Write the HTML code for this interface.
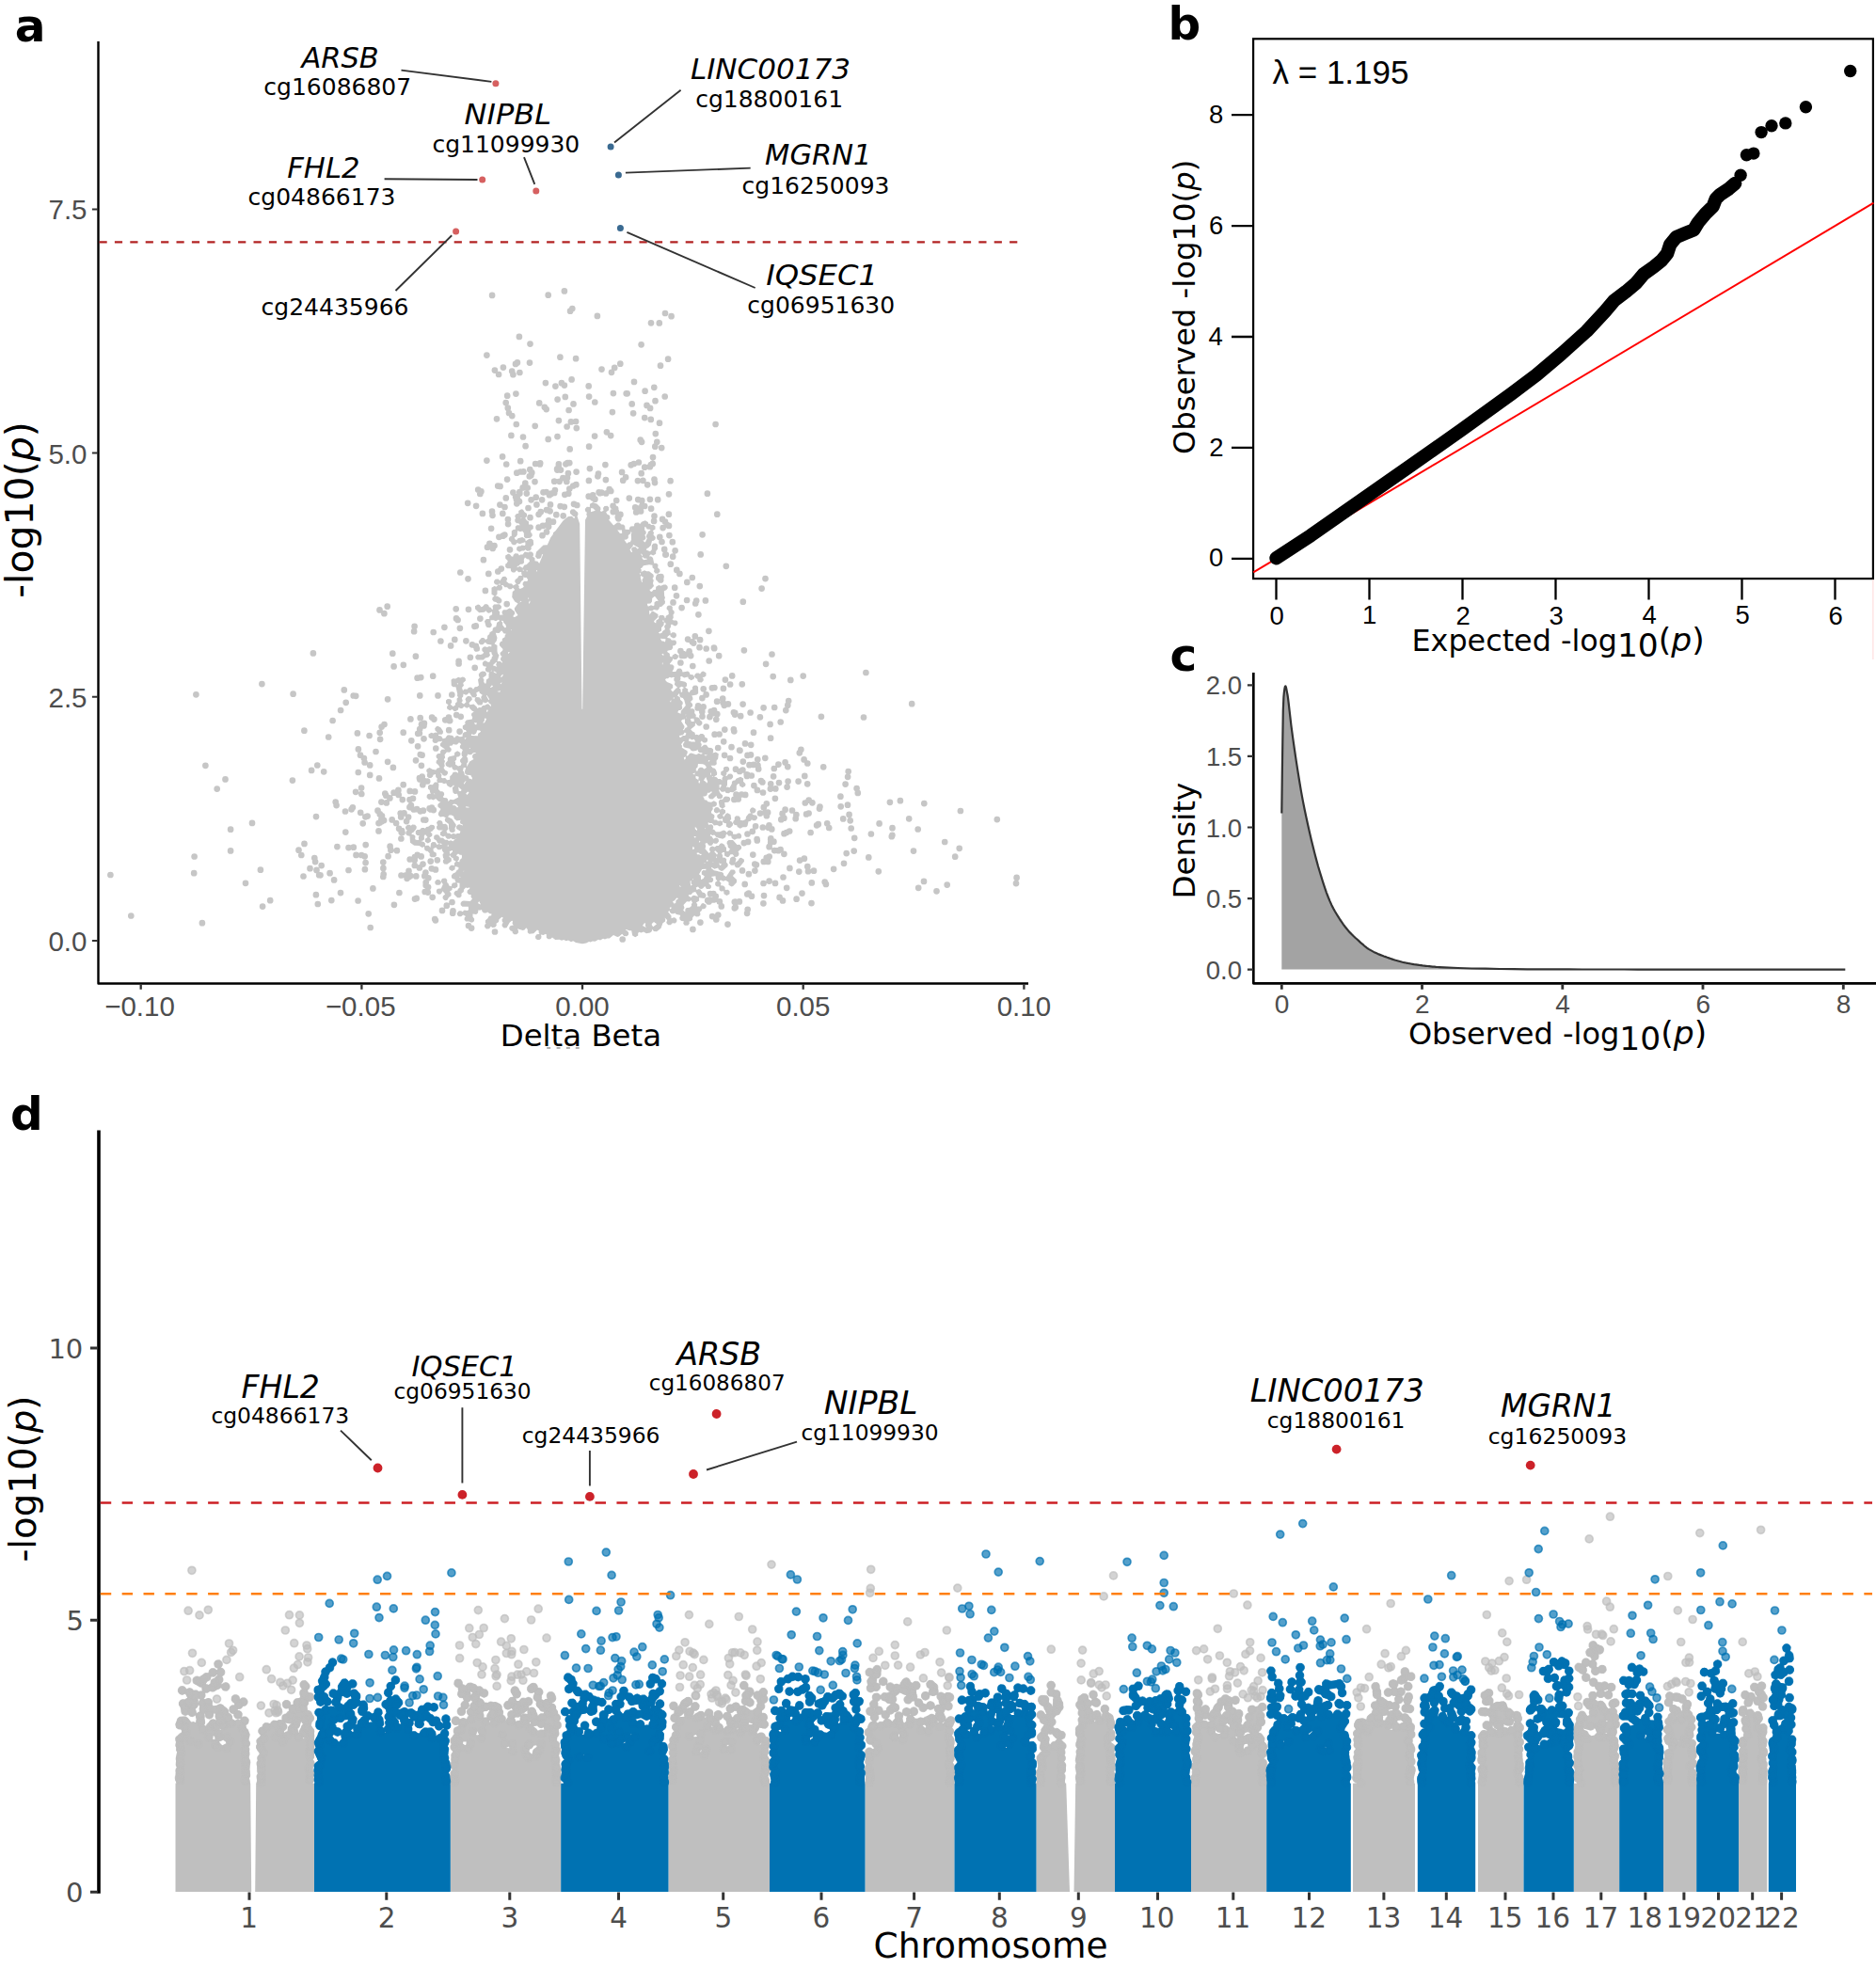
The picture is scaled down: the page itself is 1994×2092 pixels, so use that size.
<!DOCTYPE html>
<html><head><meta charset="utf-8"><style>
html,body{margin:0;padding:0;background:#fff;}
svg{display:block;}
text{font-family:'DejaVu Sans',sans-serif;}
text.ls{font-family:'Liberation Sans',Arial,sans-serif;}
</style></head><body>
<svg width="1994" height="2092" viewBox="0 0 1994 2092">
<rect width="1994" height="2092" fill="#fff"/>
<path d="M554.2 541.2 551.2 543 551.2 545.8 548.8 546.2 547.2 548.2 548 551 547.2 552.5 547.5 554.8 549.2 556.2 551.2 556.2 552.8 558.2 549.5 558.2 547.8 559.8 547.8 562.8 545.5 563 543.8 564.5 543.8 569.8 542.2 570.2 540.8 572.2 541 574.5 543.2 576.2 543.5 577.8 545.2 579.2 547.8 579.2 549.8 577 552.2 578.2 558.2 576.2 558.5 578.8 557.8 580 554.5 579.5 553.2 580.5 551 580.5 549.2 582 549.2 585 552.2 586.8 554.8 585.5 557 585.5 558.5 584.2 560.2 585.8 563.2 585.5 564.8 583.5 564.5 581.5 567.2 579 566.8 574.2 565 572.8 562.5 572.8 558.8 575.2 558.2 572.8 555.2 571 550.5 572.2 549 574.2 547.2 573 546.8 571.2 548.2 570.8 549.8 568.8 550 564.2 553.2 565.2 555.2 564.5 556.8 566.5 557 570.8 558.8 572.2 563.8 571.8 565.8 569.5 565.5 567.2 564.2 566 564.2 563.8 566.8 562 566.8 559 565 557.5 562 557.5 562 554.5 559.8 553 558.2 550.8 560 549 560 546 557.5 544.2 556 541.8ZM554 550 554.5 550.5 553.2 551.5ZM630 534 627 535.8 626.8 539 623.8 538.8 621.8 541 622 543.2 624 545 623.2 546.2 624 549 622 552.8 619.2 753.8 618.5 753.8 616.2 556.8 613.5 548.8 614.5 547 614.2 544.8 610.2 541.2 607.2 541.5 605.8 543.5 606 545.8 609.5 549 611 549.2 610.8 550.5 610 551 608 548.8 604 549 598.5 553.5 590.5 564.2 588 566.2 587.8 568 585.2 571.5 581.8 579.2 577.5 579.5 570 586.8 569 591.8 571 594 574 593.8 575.2 592.5 576 589.2 577.2 589.2 573.2 599 571.5 596.8 568.5 596.2 568.5 593.2 566.2 591.5 567 590.2 566.8 588 565 586.5 562.5 586.5 561.5 587.2 557.8 586.5 555.5 589.5 553.2 589.5 552 590.5 550.5 588.5 547.5 588.2 545.8 589.8 545.2 591.8 543.8 591.5 542 589.2 540.2 588.8 537.2 590.5 537.2 593.5 539.8 596.2 539 598.2 537.2 599.8 537.2 602.8 539 604.2 542.8 604.2 543 607 544.8 608.5 547.2 608.5 549.2 606.2 551.2 608.2 554.2 608 554.2 610.2 555.2 611.8 551.5 612 550 614.5 547.5 616.2 547.2 618.5 548.8 620.5 545.5 622.5 544 620.5 541 620.2 538.2 618 539.2 615 537.2 612.8 534.2 613 531.5 617.2 529.5 615.5 526.5 615.8 525 617.8 525.2 620 527 621.5 529.5 621.8 527.5 623.8 525.5 623 522.5 624.8 522.5 631.8 525.5 633.5 523.5 635.2 523.2 637.5 524.8 639.5 527.2 640 529 641.5 531.5 641.5 533.2 640 533.5 637.8 532 635.8 528.8 633.8 526.5 633.5 528.5 631.8 528.5 627.5 532 627.8 533.8 626.2 534 624 533 622 534.5 622 536.5 624.2 539 624.2 541 626.2 543.5 626.2 545.2 624.8 547.2 627 544.8 629 544.2 634.8 547.2 639.5 550.5 641.5 546.8 646.5 547 648.8 550.5 654 547.2 656 545.8 656 545.5 654.8 547.2 652.5 547 650.2 543.2 647 541.5 646.5 538.5 648.2 535 648.2 533.5 650.2 533.8 652.5 534.8 653.5 531.2 653.8 531.2 650.2 529.5 648.8 532.8 646.8 533 644.5 531 642.2 525 642.5 523.5 644.5 524 647.2 523.2 648 521.5 645.8 519.8 645.2 519.5 643.8 517.8 642.2 515.2 642.2 513 644.8 511.5 645.2 509.8 643 508 642.5 505 644.2 505 647.2 509.2 651.2 514.8 650.8 516.5 649.2 518 651.2 519.8 651.8 523 650.2 523.2 653.2 520.2 655 520.2 658 517 658 515 660.2 516.5 665.8 517.8 667 520.8 667.2 522.5 665.8 522.8 663.5 521.5 661.8 521.5 659.2 524.8 659.2 527 660.2 529.8 658.8 531.2 660 528.2 661.8 527.2 666.2 525 666.8 523.8 668 523.5 670.5 520.5 672.2 520.2 674 518.2 675.8 518 678.8 516.2 680 514.2 678 511.8 678 508.8 681.5 509 683.8 510.8 685.2 513.2 685.2 515.8 682.8 517.8 684.8 522.5 685.5 522.2 687.5 520 687 517.8 688 515.5 687.2 513.8 687.8 512.2 689.8 512.5 692 514.2 693.5 513 695.2 510.5 696 507.2 695.5 505.2 697.8 505.5 700 507.2 701.5 513.8 701.5 515.8 699.5 519.5 698.5 521 696.5 520 693.5 522.2 693 522.8 695.8 524 697 522.8 698.2 522.5 700.2 521 701.8 520.8 703.2 519 704 516 702.2 514.2 702.8 512.8 704.8 513 707 514.2 708.2 517.2 708.8 515.8 710.8 516 713 517.8 714.5 520.2 714.8 519.5 716 519.5 720.8 517 722.5 516.5 726.5 515.2 726.5 514.2 724.8 514.5 722.5 513.2 720.5 516.8 718 517 715.8 515.5 713.8 512.5 713.5 510.2 714.8 508.8 716.8 509 719 510 720 508 722.5 509 728.5 507.2 730 504.8 730.2 503 732.8 501.5 731 499.8 730.5 498 731 496.5 732.8 493.8 732.5 492 734 491 731 493 728.8 492.2 726 495 723.5 494.8 721.2 493.5 720 491.8 719.5 489.2 720.5 487.2 719.8 484.2 721.5 481.2 721.2 479.5 722.8 479.8 728.8 481.5 730.2 484.5 730.2 486.2 737.5 486 739.8 487 741.2 485.5 742.8 485.8 746 484 747.5 483.8 749.8 481.5 751 478.8 748.8 480.2 746.8 480 744.5 478.8 743.2 475.8 743 474 744.5 474 747.5 476.5 749.2 475 751.2 475.2 753.5 478.2 755.2 480.8 754 482.2 755.8 484 756.2 487 754.5 487.5 752 490 753.2 491.8 752.8 493.2 751 496.2 752.8 498.8 751.5 499.2 753 502 755.8 503.8 756.2 501 758.8 501.2 761 502.2 762 501.8 764.5 495.8 765.5 494.2 767.5 494.5 769.8 491.8 771.5 491.8 774.5 493.5 776 495 776 495.8 778 493.5 778.2 491.8 779.8 491.5 783 488.8 783.2 486.2 782 484.5 782.5 483 784.5 481.2 782 477 781.2 475.2 781.8 473.5 784.5 470.8 785.2 469 782.5 466 782 466.2 780.8 469.5 780.8 470.8 779.5 471 777.2 468.5 773.5 465.5 771.8 463.8 772.2 462.2 774.2 462.5 776.5 464.5 778.2 464.2 779 462.8 778.5 460.5 779.5 458.5 778.8 455.5 780.5 455.5 783.5 457.2 785 460 785.2 459.5 787.8 461 789.8 464 790 466 788.2 468.5 788.2 469.5 787.5 469.8 788.5 467.8 790.8 468 793 473.2 796.5 469.5 796.8 468 798.8 468.2 800.8 465 801.2 463.5 803.2 463.8 805.5 465.5 807 463.8 808.8 463.5 811 466.2 813.5 467.5 816 464.8 816.5 463.2 818.5 459.5 817.8 456.5 816 453.5 817.8 453.2 820 454.5 821.8 453.8 823.2 454 825.5 455.8 827 458.2 827 460 825.5 460.5 823.8 463 823 463.2 826 464.8 827.5 464.2 830 465.2 831.5 462 831.5 459.8 834.2 456.8 834 455 835.5 455 838.5 456.8 840 457 842.2 458.2 843.5 455 844 453.8 845.2 453.5 847.5 455 849.5 456.8 850 458.2 849.5 460.5 850.5 463.2 849 466 851.8 468.5 852.8 466.8 853.5 465.2 855.5 465.5 857.8 468.5 860 466 864 465.8 866.2 467.8 868.5 471.2 868 473.8 869.2 472.8 870.8 473 873 477 876 477 880.8 477.8 883.5 479 884.8 482 885 483.8 883.5 483.5 880 484.5 879 484.8 876.8 480.5 870.5 476 868.2 477.5 866.5 480 866.5 482.2 867.8 482.8 870.2 485.5 872.5 489.8 871.8 489 873 489.2 875.2 492 876.8 492 877.5 488.2 876.2 486.5 876.8 485 878.8 485.2 881 489.5 883.8 488.5 886 486.5 885.8 484.2 886.8 482 885.8 479.5 887 478 885.8 475.5 885.8 474.5 883.5 476.5 881.2 475.5 877.2 473.8 875.8 470.8 876 470.2 873.5 469 872.2 466 872 464 874.2 465 877.2 464 878.8 464.2 881 466 882.5 470.8 882.5 468 884.8 468 887.8 471 889.5 473.2 888.5 473.8 890.2 475.5 891.8 478 891.8 479.2 890.8 480.8 892 483.5 892.2 481.5 894.2 479.2 893.2 477 894 475.5 892.8 473 892.8 471 890.8 467.8 890.5 467.2 888.8 465.5 887.2 463 887.2 461.2 888.8 461.2 891.8 463.8 893.5 465.2 896.2 467 896.8 464.5 898 462.8 895.2 459.8 895 458 896.5 457.5 901 455.5 898.8 453 898.8 452 899.5 451.8 896.2 450.5 895 447.2 894 449.2 893.8 451 892.2 450.8 888.8 452 887 454.5 890 451.8 891.8 451.8 894.8 454.8 896.5 457.8 894.8 458 892.5 456.5 890.5 459.2 888.8 459.5 886.5 457.5 884.2 459.2 883.8 462.2 880.5 462 878.2 460.8 877 457.8 876.8 455.2 878.8 453.2 879 451.8 880.8 450.8 880 448 880 446 882 443.5 882 441.8 883.5 441.8 886.5 443.5 888 445.8 888.2 444.8 890 445.2 893 442 892.8 441.2 892 441.5 888.8 439.8 887.2 437.5 887 437.8 885.5 439.2 885 442.5 881 442.8 878.8 441.2 876.8 438.2 876.5 436.8 877.8 435.5 876.8 433 876.8 431 879 431.2 881.2 432.8 882.8 431.5 884 431.2 886.2 432.8 888.2 435.5 888.8 436 895.8 440.2 898.8 445.5 899 448.8 901 451 900 451.2 903.2 453 904.8 454.5 904.8 456.8 907.2 456.5 909.2 458 911.2 462 911.2 463.8 909.8 463.8 906.8 460.8 905 460.5 902.2 463.2 900.8 465.5 903.2 468 903.2 469.8 902.2 470 904.2 471.8 906.8 470.5 908.5 471 911.8 472 913.2 471 914.2 470.8 916.5 472.2 918.5 475.2 918.8 479.8 915.5 479.8 912.5 477.5 910.8 478 909 479.8 911.5 481.5 912 481.8 914 484.8 915.8 483 917.2 482.8 920.5 481.8 919.8 479.2 919.8 477.2 922 477.5 924.2 480.5 926 483.5 924.2 483.8 921 487.5 922 487.2 924.2 485.8 924.8 484.2 927.2 481.2 928.8 479.8 930.8 480 933 481.2 934.2 483.5 934.8 483.8 937 484.8 938 481.5 938.5 480.2 939.8 479.8 942.2 477 941.2 476.8 939.5 475.2 938 475.2 935 473.5 933.5 470.5 933.8 469.2 935 468.8 937.2 467.2 935.2 464.2 935 462.2 937.2 462.5 939.5 463.8 940.8 467.2 940.8 468.5 939.5 469 937.2 470.8 940 468.8 944.5 465.2 944.8 464 946 463.8 948.2 465.2 950.2 467 950.8 468.8 950.2 470.5 947.2 473.2 950.5 470.8 952.5 470.5 954.8 472 956.8 473.8 957.2 475.5 956.8 477 954 479.5 952.2 479.5 949.2 477.8 947.8 480.5 946 480.8 943.8 483.2 944.5 486.2 942.8 486.5 940.5 485.5 938.5 488.5 938.8 488.5 943.5 486.8 945 486.2 946.8 484.5 946.8 482.8 948.2 482.5 950.5 486.2 954.2 488.8 954.2 490.5 952.8 490.5 949.8 492.8 948 493 945.8 495 943.5 497 944 499.2 943.2 499.2 944.8 496.8 946.5 496.5 948.8 498 950.8 500.8 951.2 500.5 953.5 502 955.5 499.8 958 492.8 957.5 491 958 489.5 960 489.8 962.2 491.5 963.8 497.8 963.8 498 967 497 968 493.5 967.5 491.5 969.2 490.2 968.2 487.8 968.2 485.8 970.5 486 972.8 487.8 974.2 490.2 974.2 492.2 972.5 495 974 493.8 975.2 493.5 977.5 495 979.5 498.5 979.5 501 980.8 502.8 980.2 504 979 504.2 976.8 502.5 974.5 502.5 971.5 506.2 972 508 970.5 508.5 967.2 510 967.8 512 967 512.5 969 514.2 970.5 516.8 970.5 518.2 969.5 520.5 971.2 522.5 971.5 522.2 973.2 519.8 973.8 518.2 976.5 516 978.2 515.8 980.5 516.5 981.8 515.2 983 515 985.2 517 987.5 520 987.2 521.8 984.8 523.2 986 526.2 985.8 527.8 983.8 527.5 981.8 530 980 530.5 977.2 533.5 974.8 534.8 975.8 533.5 977.5 533.8 979.8 534.8 980.8 533.8 982 533.5 984.2 535.5 986.5 538.5 986.2 541.8 980.5 544 978.8 545 979 544.5 981.8 545.8 983.5 542.8 984 541.5 985.2 541.2 987.5 542.8 989.5 544.5 990 544.8 991.8 546.5 993.2 549 993.2 550.8 991.8 551 989.5 550 987.2 555.8 989 557.5 988.5 559.2 986.2 560.8 988 560.8 991.2 562.5 992.8 567.2 992.2 571 988.5 572.8 989.5 572.5 991.2 573.5 992.8 570.5 993.2 569 995.2 569.2 997.5 571 999 573.5 999 575.2 997.5 575.5 995.2 574.8 993.5 577.5 994 580 992.8 580.8 993.5 580.8 996.8 582.5 998.2 585 998.2 587 996.5 590.2 999 594.5 998.8 597 999.8 599.2 999 601.8 1000.2 604 999.5 607 1001.2 609.2 1000.2 612 1002 619 1003.2 623.2 1002.5 626 1001 627.5 1001.5 629.8 1000.5 632.5 1000.8 636 998.8 638 999.5 641 997.8 643 998.5 645.2 997.5 647.8 997.5 652 994 656.2 996 658 995.5 661.2 992.8 663.2 995 666.2 995.2 668 993.8 668.2 991.5 666.8 989.5 664.8 988.8 665.8 988 668.8 989.2 671.2 989.2 672.2 994.5 675.2 996.2 678.2 994.5 678.2 992 679.2 990.8 681.5 991.5 684 990.5 687 992.2 691 991.5 692.8 990 693.2 987.8 695 990 698 990.2 702.5 986.8 704.5 981.2 707 979.5 707.2 977.2 706.5 975.5 709.2 978 708.2 981 710.2 983.2 712.8 983.2 714.8 981.2 717.5 981.5 719.2 980 719.5 977.8 718 975.8 716.2 975.2 713.5 976.2 713.5 973.5 710 969.2 711.5 968 712 969.8 713.8 971.2 716.2 971.2 717.2 970.5 719 972 722.8 972.8 723.2 973.8 722.2 975.2 722.5 977.5 724.2 979 726.8 979.2 726.2 981.8 727.8 983.8 731.2 983.8 732.8 981.8 732.5 979.5 734.2 979.2 736 977.8 736.2 975.2 738 973.2 740 974.5 743 974.2 744.5 972.2 744 969.5 745.8 968 746 966.5 749.2 966 750.8 964 750.5 961.8 747.5 960 745.8 960.5 744 963.5 741 963.5 741.2 961.2 740 959.5 743.2 957.5 743 954.2 748.5 955 750.2 953.5 750.5 951.2 749 949.2 746.5 948.5 744.5 945.5 742.8 945 740.5 946 739.8 943.5 742 942.5 743.5 944.5 745.2 945 747 944.5 749.2 942 751 945 754.5 945 755.8 943.8 756 941.5 753.2 939 753.8 938.2 756.8 938 758.2 936 758 933.8 755.8 932 760.5 931.2 760.8 934.8 762.5 936.2 760.2 938 760.2 941 762 942.5 764.5 942.5 764.5 946 766.2 947.5 769.2 947.2 769.5 950.2 772.5 952 775.5 950.2 775.5 947.2 773.8 945.8 770.8 946 770.5 943 768.8 941.5 766 941.2 766.5 938.8 764.5 936.5 766 935.5 768.8 936.8 771.2 935.8 774.5 937.8 774.5 940.8 777.5 942.5 779.2 942 783 938 783 935 779.2 931.5 779.2 930.5 781.8 928 781.5 925.8 780.2 924.5 776.8 924.5 771.8 932 769.2 930.2 769 928.5 767.8 927.2 759 925.2 755.8 922.8 756.5 922 759.5 923.8 763.2 922.5 763.8 924.2 766.8 926 768.5 925.5 773.5 921 773.8 918.8 772 916.5 772.2 913.2 770.5 911.8 768 911.5 768.2 909.2 767 907.2 768.2 906 770 906 770 909.5 773 911.2 774.8 910.8 776.5 908.2 778.8 908.2 780.5 910.5 778 910.8 776.2 912.2 775 917.5 777 919.8 779.5 919.8 780.5 919 781 921 782.8 922.5 785.8 922.2 791 915.8 790.8 913.5 787.8 911.8 786 912.2 784.5 914.8 781.5 917 782.5 913 781 911 783.5 910.8 785.2 909.2 785.5 907 784.5 905.2 788 902.2 788.2 900 786.2 897.8 783.5 898 779 893 774.5 893 772.8 894.5 772.5 896.8 773.5 898.2 773.8 900.8 776 902.5 774.2 905 772 904.8 772 901 770.5 899.5 770.2 898 767.2 896.2 765.5 896.8 763.8 899 761.5 899 759.8 900.5 757.2 899.5 755.5 900 754 902 754.2 904.2 755.2 905.2 753.5 907 749.5 902.2 750.2 899.5 749.5 896.8 751.5 896 753.2 898.5 755 899 756.8 898.5 758.5 896 759.5 896.8 762 896.8 764 894.5 763.8 892.2 762.5 891 760.8 890.5 758.2 891.8 756.5 889 754.8 888.5 755.2 887 757.5 888 759.2 887.5 761.5 890 768.2 891.8 771.2 890 771.5 887.8 772.5 886.5 774.5 888.8 777.2 888.5 777.8 891 780.8 892.8 783.2 891.5 786.8 891.5 788 890.2 788.2 888 786.8 886 785 885.5 782.5 886.8 779.2 886.8 778.8 884.2 775.8 882.5 774 883 772.5 885 770.8 883 769 882.5 765 884.2 761 884.2 759.2 882 757.5 881.5 758.2 880 758 877.8 756.2 876.2 753 876.8 752.5 874.8 753.2 874.2 754.2 875 756.8 875 759 877.5 762.2 877 765 878.5 768 876.8 768.2 873.5 770 875 772 875.2 771.8 878.5 774.8 880.2 776.5 879.8 778.8 877.5 779.2 875 780.8 877 783.2 877.2 783.8 879 786.8 880.8 789.5 879.2 793.2 879.2 794.5 878 795.5 873.2 797.5 873 799 871.2 800.5 872.2 803 872.2 805 870 804.8 867.8 803.5 866.5 800.8 866.2 799.2 864.8 802 864.2 803.5 862.2 803.2 860 800.2 858.2 798.5 858.8 797 860.8 797.2 863 798.5 864.2 795.8 864.8 793 868.2 792.5 871 789.5 872.2 786.8 871.8 787 869.5 785.5 867.5 782.5 867.2 780.8 868.8 780.8 871.5 779.5 872.8 779 875.2 777.5 873.2 775.8 872.8 777.2 870.5 776.5 866 773.5 864.2 771.8 864.8 769 868.8 768.2 866 769.8 865.5 771.2 863.5 771 861.2 768 859.5 770.8 857.8 770.2 853 774.2 852.8 776.2 850.5 776 848.2 774.8 847 771.5 846.5 769.8 847 768 849.8 765.2 850 763.8 852 764.8 857.8 767.8 859.5 765.5 860.8 763.8 858.5 762 858 760.2 858.5 758.8 860.5 759 862.8 760.2 864 762 864.5 764.5 863.2 765.2 864.5 762.5 866.2 762.2 868.5 764.2 870.8 766.8 870.8 768 869.8 768.2 873.5 766.2 872.2 763 872.8 761.5 871.5 759 871.5 758.5 870.8 759.5 868.5 759.2 866.2 756 864.2 756 862.8 757.8 860 757.5 857.8 760 857.5 761.8 856 761.8 853 758.8 851.2 756 852.8 752.5 852.2 751 850.5 748.8 850.2 748.2 848 747 846.8 750.2 846.2 751.5 845 752 842.8 754 842.8 756 841.2 757 842 753 845.8 753.2 848 754.5 849.2 757.5 849.5 761.5 845.8 762 847.8 763.2 849 766.2 849.2 768 847.8 768.2 845.5 765.5 843 764.2 840.2 764.5 839 766.8 841.8 769.2 841.8 770.2 841 771.8 843 774.8 843.2 776.2 842 779.2 842.2 782.8 839.8 782.8 835.2 784.2 833.2 785.8 833.2 786.2 835.5 789.2 837.2 792.2 835.5 792.5 833.2 790 830.8 790.2 827.5 787.2 825.8 782.8 827.5 781.2 829.5 779.2 829.8 778 831 777.8 833.2 775.5 837.2 773.5 836.5 771.8 837 773 834.5 773 830 773.8 828.8 777.2 828.5 779.2 826.2 779 824 777.2 822.5 774.2 822.8 772.5 825 771.2 824.5 772.5 822.8 772.2 821 773.8 820.5 775.2 818.5 775 816.2 773.2 814.8 770.2 815 769 816.2 769 818.8 766.2 820.5 766.2 823.5 768.8 825.2 767.5 827 767.5 829.5 765.8 828 763.2 828 761.8 826.2 759 825.5 762 823.8 762.2 821.5 760.8 818 759.5 816.8 757.5 816.2 755.5 813.8 760 813.8 761.8 812.2 761.5 808.8 763.2 806.5 763.8 801.2 760.8 799.5 757.5 800.5 758.2 798.8 758 796.5 756.2 795 753 794.8 750.8 791.8 748.2 791.8 745.2 794.2 745.8 791 744.5 789.2 745.5 787.5 747.8 789.5 750.2 789.5 752 788 752 785 749.2 783.5 748.8 781.5 747 780 744.5 780 742.8 781.5 740.5 780.8 739 781.2 738.5 778.8 735.8 777.2 734.2 775.2 738.8 771.5 739 768.2 741.5 771.2 743.2 771.8 745 771.2 746.5 769.2 746.2 767 744 765.2 743.8 764 742 762.5 739.5 762.2 739.8 760 738.2 758 738.5 754.8 736.8 753.2 733.5 753.2 736.2 750.5 736 748.2 734 746 736.5 743.5 736.2 741 735.2 739.5 740.5 738.5 742.2 737 742 730 740.2 728.5 737.2 728.8 735.8 730.8 736 733 734.2 733.5 732.5 736.2 731.2 735 731.2 732.5 728.2 730.8 730 729.2 730 726.2 728.2 724.8 722.5 723.5 723.5 722 723.2 719.5 724.2 718.8 727.2 720.5 731.2 719.5 731.8 721.5 734.8 723.2 737.8 721.5 738.2 719.2 739.8 721.2 741.2 721.8 741.5 724 742.8 725.2 745.8 725.5 747.8 723.2 747.5 721 746.5 720 748.8 719.8 750.5 718.2 750.5 715.2 747.5 713.5 745.8 714 744 716.5 742.8 715.5 740.2 715.5 738.5 717 738 719.2 736.5 717.2 733.5 717 733 715 731.2 713.5 725.5 714.5 725 712 723.2 710.5 720.2 710.8 718.2 714 714.5 714 716.2 710.8 716.5 708.5 715 706.5 712.2 706.2 712 705.5 714.8 702 715.2 700 716.5 701 719 701 721 698.8 720.8 696.5 717.8 694.8 714.8 696.5 714.2 698.5 712 697.5 711.8 694.8 709.2 693 709.5 691.8 713.8 690.8 715.2 688.8 715 686.5 717.5 686 719 684 718.8 681.8 717.5 680.5 713.8 680.5 712.2 678.5 709.2 678 709.8 676.5 712.2 674.8 712.8 676.8 715.8 678.5 717.5 678 719 676 718.8 673.8 717 672.2 714.5 672.2 712.8 673.8 712.5 670.5 711.5 669 713 666.5 713 664 714.2 663.8 717.2 665.5 719 665 720.5 663 720.2 660.8 719 659.5 715.8 659.5 714.5 658.2 715.8 657 715.5 653.5 716.8 651.8 716.5 649.5 714.8 648 714.8 645 713 643.5 710 643.8 708.8 645 708.5 647.2 710.5 649.5 710.8 653 707.8 654.8 707.5 656.8 706.8 657.2 706.2 655.2 705 654 701.5 654 700.2 655.2 700.2 657.8 697.5 659.5 697.2 662.5 695.8 661.8 695 660.2 699.5 656 699.5 653 694.2 649.8 692.5 650.2 690.5 653.5 690 649.2 693.2 649.5 695 648 698.8 648.8 700.5 647.2 701 645.2 703 645 706.8 641.5 707 639.2 706.2 637.8 707 635 706.2 633.8 705.8 628.2 708.2 627.2 709.8 625.2 709.5 623 707.8 621.5 705.2 621.5 702.5 622.8 700.2 622 697.2 623.8 697 626.8 694.5 627 692.8 629 691 628.2 690.5 626.8 692 626.2 695 623 694 620 694.8 616.8 693.5 615 694.8 613 694.5 610.8 690 607.2 687.2 607.2 685 606.2 681.5 608 681.8 605.8 680.8 604.2 682.2 603.8 684 601.2 690 600.2 693.5 600.8 693.5 603.2 695.5 605 695 607.5 696.5 609.5 699.5 609.8 701.5 607.5 701.2 605.2 699.2 603.5 699.5 600.2 697.8 598.8 695.2 598.8 694 593 692.2 591.5 689.8 591.2 691.8 589.2 694.2 590.5 697.2 588.8 697.2 586 699 583.8 699 579 697.2 577.5 694.2 577.8 692.8 579.8 692.8 584.2 691 586.2 686.8 584.5 687.8 582.8 689 582.5 691.8 579.8 693 575 694.8 574.8 696.5 573.2 696.8 571 694.5 568.5 695 566 693.8 564.2 696.5 562.5 696.5 559.5 694.8 558 692.2 558 690.8 556.8 689.2 556.8 688.8 555 685.8 553.2 682 554.8 680.2 557 678.5 555.5 675.5 555.8 674.2 557 674 559.2 670.5 559.5 669.2 560.8 668.8 563 664.5 562.8 664.2 559 662.5 557.5 660.5 557.5 658.5 555.5 656 555.5 652.2 558.5 647.2 552.8 648.5 551 648 548 645.2 546.5 644.2 544.2 647.2 542.2 647.2 539.2 645.5 537.8 642.5 538 641 540 641.5 542.8 639 544 637.8 542.8 638.5 541.5 638.2 539.2 634.5 535.5ZM685 981.2 686.2 981.5 685.8 984 686.8 986 683 984ZM695 980 698 982.2 694.2 985.2 692.8 983.2 692.8 982ZM713 964 713.8 965.2 712.2 966.5 711.8 965.2ZM509.2 958 511 961.5 508.5 960.5 508.2 959.5ZM734.5 957 736 959.5 734.8 961.2 735 963 733 964.8 729.8 965 728.5 966.2 728.2 969.5 726.2 967.5 727.5 965 726.5 962 730 958.2 732.8 958.5ZM721.2 955 718.5 957 718.2 960 716.2 960.5 715 958 716.8 957.5 719.2 954.5ZM742.2 953 737.8 951.8 736 952.2 734.5 954 732 952.5 731.8 951.2 734.5 951 736.5 948.8 739.2 948ZM722.5 941.2 723.8 942.2 723.2 942.8 722 942ZM734.8 936.2 734.5 939 735.8 940.8 734.2 941.5 733.5 936.8ZM735.8 935.2 736.2 934.2 737.2 935ZM488 932.5 488.8 931.8 489.8 932.5ZM493.2 925.5 493 926.8 492.5 926ZM750.5 923.8 750.2 925.2 747.5 925 745.8 926.5 745.8 929.5 748.8 931.2 748 933.5 745.2 935.2 744.8 930.8 743 929.2 746.2 924ZM764.2 917.5 767.2 918.8 765.2 920ZM749.8 917.2 749 918 748.2 917.5ZM757.5 916.8 757.8 916 758.5 916.2ZM750.8 915.5 751.2 914 752.8 914.8 752.2 915.5ZM761.5 910.2 762.2 911.8 761.8 912.2 761 911ZM487 907.5 488.8 908.8 490.5 908.8 491 909.8 490.8 912.2 488.8 914 488.2 916.5 486 915.5 487.8 914 487.8 911 484.8 909.2ZM740.5 906.8 742.2 906.2 744 907.8 746.2 908 744.5 909.2 743.2 908.2 741 908.2ZM760.2 904.2 763.2 907 762 908.5 759.2 905.2ZM481 904 481 905.5 478.2 908 477.8 905ZM736.5 899.8 738.2 901.2 737.2 903 736 902.5ZM476.5 898.2 477 899 476 900 475.5 898.8ZM466.8 897 468.2 896.5 469.8 897.2 469 898ZM743.5 893.5 744.5 894.8 742.8 895.8ZM484.2 891.2 484.5 892 483.5 892.2ZM737.5 889.2 739 889 740 890 738.2 890.5ZM749.8 880 750 881.2 749.2 880.8ZM738.8 878.8 741 881.2 741 883 738.8 881.2ZM495 857.2 498.2 857.8 498.8 858.5 495.5 858.5ZM480.5 856 482.5 854.5 485 855 487.2 857.5 486 858.5 483.8 856.2ZM460.5 844 461.8 843.5 462.5 844.2ZM497.2 841.5 498.5 842.5 496.5 845 495.2 843.5ZM487.2 836.5 490.5 839.5 490 841 487.8 841ZM766.2 833.8 766.8 835.2 764.8 838 764.5 834.5ZM465.5 832.2 469.5 832 472 833.2 474.2 832.5 475.5 835.2 478.5 837 480.2 836.5 482 834.5 482.8 835.2 480.8 837.5 481.5 842.5 483.2 844 486 843.8 487.2 847.5 481.8 850.2 478.5 849.8 476.5 852 476 849.5 474.8 848.2 471.8 848 470.8 847 472.2 845 472 842.8 470.2 841.2 468.2 841.2 466 839 466.5 833.8ZM495.5 830.2 493.5 833.8 493 832.5 494.8 830.2ZM742.8 829.2 744.2 830.5 743.2 833 742.5 831.8ZM750.2 826 752.2 831 751 832.8 750.5 831.2 748 829.5ZM756.8 825 758.5 825.5 757 825.8ZM739.5 824.8 742.8 825.8 742.2 829 739.5 827.2ZM755 821.2 755.8 822 755.8 824 755 823.5ZM738.8 821.5 738.2 823.5 736.2 822.5ZM492.8 816 495.2 816 494 820 494.2 822.2 496 823.8 500.2 824 502 827 501.5 828.8 500.2 827.8 498.8 827.8 498.2 825.8 497 824.5 494 824 493 820.2 492 819.2ZM739.8 819.5 739.8 817 741.5 815.5 742 812 747 812.2 749 813 750.8 815.2 750.5 816.2 748.5 817.5 746.5 815.8 744 815.8 742.2 817.2 741.5 819.5ZM754.5 808.5 753.8 809.5 752.5 809.2 753.5 808ZM728.8 804.2 728.8 806.5 727.5 807.8 726.8 805.2ZM748.5 802 752 802.8 749.8 803.5ZM505.5 800 505.5 801 503.5 801.2 502 803.2 502.2 805.5 503.5 807 499.2 809.5 496.2 815 496.2 811.5 497.5 809.8 497.2 806 496 804.2 497.5 801.5 498.5 802.2 501 802.2 503 800.2ZM498.5 795 500.2 795.2 499.5 796ZM488 789.2 490.2 791 488.8 793 489 795.2 491.8 797 490.5 801 490.8 803.2 491.8 804.5 489 807.8 489.2 810 490.5 811.2 490 813.5 487 814.5 484 812.5 484.2 810.8 483.5 809.2 485.2 807.5 485.2 804.8 488 804.2 489.5 802.2 489.2 800 486.2 798.2 483.2 800 483 803 477.5 804.2 475.8 805.8 475.8 808.8 473.5 811.2 473.8 813.5 475 814.8 478.2 816 480.2 815.2 480.8 817.2 482.5 818.8 485.8 818.5 487 820.2 486.8 821.8 484.8 820.5 481.8 820.8 480.2 823.5 478.2 825.2 478.2 828.8 475.2 829.2 473.2 827 470 827.2 469 826.2 469.5 823.8 468.2 822 468.8 821.5 471 824.2 472.8 824.8 474.5 824.2 476 822.2 475.8 820 473 818.5 471.5 816 472.8 814.2 472.2 811.8 473 809 471.8 807.2 473.2 805.2 472.5 802.5 474.8 799.5 477.8 799.8 479.5 798.2 479.8 796 477.8 793.8 478 792.8 480.2 792.8 482.2 790.8 483.2 791.5 485.8 791.5ZM724 791.2 726.2 788.2 727.8 788.2 726 791 726.2 793.2 727.5 794.5 733 795.8 734.8 798 736.5 798.5 740 798 741.5 796.8 742 798.8 743.2 800 746 800.2 746.8 801 745 801.8 742.8 800.8 740 802.2 734.8 800.5 733 801 731.5 803 729.8 803.8 729.8 802 730.8 800.5 730.5 798.2 724.8 794.8 725 792.8ZM731.8 787.5 732.8 785 735.5 786.5 737.8 785.8 739.2 788.5 734.8 788.5ZM493.8 784.2 495.8 784.5 494 786ZM729.5 779.8 728.2 782 726 782 723.5 784 722.5 783.8 722 782 726 781.2 727.8 778.5ZM511.2 777.8 508.2 779.8 507.8 782.2 500.8 782 501.2 780.2 503.2 781 505 780.5 506.2 779.2 507.2 776.2 510 776.5ZM504.5 768.2 507 768.5 506 770.5 504 769ZM728 764.5 728 768.8 730.2 771.2 730.5 773 728.5 773.8 726.8 776.5 726 775.5 727.2 774.2 727.5 772 724 766.5 725.2 765ZM733.8 764 737.5 763.8 737.8 767 734.8 767ZM516 763.2 517 764.5 515.2 768 513.8 768.8 513.5 768 515 766 514.8 764.2ZM729.5 762.5 730 763 729.2 763.5ZM729.2 759.2 729 760.5 728.5 760ZM517.5 754.5 518.8 754.8 518 757 517 756.2ZM713.5 744.2 713 746.8 712.2 745.2ZM716.5 741 716.5 742.8 715.8 743 715.8 741.5ZM517.5 739 520.2 743.2 519.5 744.2 517 739.8ZM722 737 722.5 740.2 723.8 741.5 725.8 742 727.2 744 728.8 750 723.8 755.8 723.5 758.8 720.2 757.2 721.5 755 723.2 755 725 753.5 725.2 751.2 724.5 750 725.8 748.2 725.5 746 723 743.8 722.8 741.2 720 739.5ZM490.8 742 492.2 740.5 492.5 737.5 495 738.8 496.8 738.2 498.2 736.5 499.2 736.8 502 741.2 505.8 741.5 504.8 742.5 504.5 744.8 508.2 749.5 511.8 749.5 513 748.2 513.5 746.2 516 747.5 519 745.8 519.5 747.2 521.8 749 522 750.5 521.2 750.8 519.8 748.8 518 748.2 515.2 749.8 513 750 511.2 752.2 509.8 751.8 507.2 753 506.8 751.5 503.5 748.5 499.5 749.2 498.5 747.2 501.8 743.8 501.5 741.5 500.2 740.2 497.2 740 495.5 741.5 494.5 743.2 495.5 746.2 493 748.5 490.5 746.8 491.8 745ZM509.2 734.8 509.8 736.8 512.8 738.8 511.2 741 511.8 744 509.5 741.2 505.8 741 507 739.2 506.2 736.5ZM532 734.2 531.2 735.8 528.2 735ZM724.5 729.8 727 731 725.2 732.5 725.2 735.5 723.8 736 723.5 732.8 721.8 731.2ZM523 728.2 524 729.8 521.5 731 521 730.5ZM486.8 726 486.2 728 485.8 726.2ZM533.8 725.5 532 727.5 531.8 726ZM711.8 719.8 713.8 720.5 715.8 719.8 717 720.2 716.2 721.5 716.5 723.8 717.5 724.8 716.8 727.8 720.2 731 718.8 731.5 715 735.5 713 733 715.2 731.2 715.2 728.2 714 727 709 725 707 722.8 708 721.2 710 721.2ZM534.8 717 534 719.2 532.5 719.8 532 719.2 534.2 716.8ZM524.5 714 525 713.5 527.5 714.8 527.8 715.8 525.8 715.2ZM521.5 713.5 522.2 712.5 523 713.2ZM704.8 704.5 704 707 703.8 704.8ZM528 704 527.2 706.8 528.2 708.8 523.8 707.2 527.5 703.8ZM704 694.8 705.5 695.5 705.2 697 703.5 695.8ZM541.8 693.2 540.2 695 540 693.8 540.8 693ZM701.8 678.8 707.5 679.2 707.2 681.5 706.5 682.5 705.2 681.5 703.5 681.5ZM532.8 670.5 533.8 670.8 535.2 673.2 538 673.8 536.8 675 536.5 677.2 533.8 679 533.8 681.5 532.2 682 530.8 684 531 686.2 534.5 690 534.2 691.5 531.5 694 531.8 696.2 533.5 697.8 532.2 699.2 532 701.5 534 703.8 533.8 704.8 531.8 703 528.5 703 530.5 696.5 529 694.5 528.5 692.2 528.5 686 525.5 684.2 527.8 681.2 528.5 678 526.8 672.8 530.5 673ZM543 669.2 543.8 669.5 543.2 670.5ZM705.8 661.2 708 663 706 665.8 707 669 704.2 671 703.5 672.8 701.2 673.5 699.8 672.5 703 670.5 703 667.2 705.5 664.5ZM532.5 659.8 535 660 535.2 661.8 537.5 664.2 538 667 536.5 667.2 534.2 664.5 534.2 661.8ZM703.8 660 705.2 659.2 705.8 661.2ZM554.5 639.2 552.2 640.5 553.5 638.8ZM563 638.2 563.5 639.5 562.8 641.8 562 641ZM561.5 635.5 562.2 635.8 562 637 561 636ZM696 633.8 699.8 638.8 697.2 639 695.5 640.5 695.5 643.2 694.5 644.2 692 643.2 689.5 644.5 688.5 644.2 687.8 641.8 691.5 641.5 693 639.5 693.2 636ZM532.2 621.5 529.5 621.5 531 620.2ZM559.8 614 561.2 616.5 560.2 618 557.5 617.8 555.8 619.2 555.5 621.5 556.8 623.2 556 624.5 552.8 626 551.5 625 551.8 623.2 550.5 621.5 552.5 620.8 554 618 556.2 616.2 556.5 613.2 557.5 614ZM681 612 684 613.8 682.5 616.2 682.8 619 682 618.8 680.8 613.8ZM680.8 608.8 680.5 611.5 679.8 609.5ZM560.8 606.2 560.2 607.8 559.2 606.8ZM571 606 570.8 608 570 606.5ZM555.8 605.2 557.2 606.2 555.8 606.8ZM562.2 594.5 563 596.8 559.8 600 557.2 600.8 555.5 603.8 552.5 602 549.5 603.2 550 601.8 551.5 601.5 553 599.8 555.2 599.8 557 598.2 556.8 594.8 558 592.5 560.2 594.2ZM682.8 591.8 684.5 593.5 687.5 593.8 687.8 594.5 684 595.2 682.5 593.2ZM681 588.8 682 588.8 683 590.2 682.8 591.2ZM679.2 582.5 677.5 583.5 675.5 581.2 672.5 581.5 671 583.5 672.2 587.2 670.8 586.8 669.5 584.2 672.5 580.8 673 579ZM670.8 565 671.5 566.2 670.8 567.5 671 573.8 669.8 576.2 668.2 576.2 666.2 577.8 663.5 573.8 666 573.5 667.8 572 667.8 569 670 567.2ZM656.2 563.5 661 563.5 661.2 567 659 567ZM686 559.8 687.8 562.5 690.8 562.8 691.5 563.5 688.8 565.2 688.5 567.2 687.2 568.5 687 570.8 687.8 572.2 685.8 576.5 683.2 574.8 685 574.2 686.5 572.2 686.2 570 685.2 569 686.8 567 686.5 564.8 685.2 563.5 685.2 560.5ZM628 540.2 630.2 540.2 632.8 542.8 628 544.2Z" fill="#c6c6c6" fill-rule="evenodd"/>
<path d="M403.5 648.4h0M657.4 551.3h0M407.3 932h0M439 848.8h0M432.1 873.1h0M822.1 825.3h0M446.7 763.2h0M811.8 915.9h0M451.7 948h0M585 536.4h0M341.7 920.1h0M695.5 548.6h0M819.2 833.3h0M665.7 418.3h0M513.9 595.2h0M829.7 767.5h0M605.3 519.6h0M759.4 731h0M568.5 512.1h0M933.8 926.3h0M435.5 850.1h0M911.8 842.9h0M831.6 864.9h0M445.9 779.5h0M702 388.7h0M446.2 775.1h0M865 925.7h0M822.4 894.7h0M855.8 853.5h0M287.2 957.2h0M903.7 872.3h0M612.4 515.2h0M750.7 689.5h0M666.7 418.3h0M497.5 615.3h0M434.1 868.5h0M654.2 540.9h0M746.6 568.3h0M779.9 775.3h0M596 499.6h0M402.5 875.1h0M780.4 849.9h0M823.9 848.8h0M440.7 914.3h0M534.6 569.7h0M435.7 840.9h0M677.9 511.1h0M784.7 849.4h0M523.5 547.8h0M404.1 785.8h0M544.3 442.1h0M685.2 444.1h0M850.1 914.6h0M436.9 856h0M643.9 510.1h0M452.3 871.6h0M768.6 747.1h0M592.5 464.1h0M473.3 765.3h0M358.4 900.1h0M626.1 474.7h0M586.1 524.7h0M477 762.6h0M753.7 702.5h0M384.2 909h0M445.9 827h0M604.6 436h0M730.3 618.9h0M510.4 657.6h0M418.6 842.7h0M788.8 727.3h0M711 558.9h0M701.3 570.9h0M786.1 797.6h0M384.1 837.5h0M694 486.1h0M625.9 510.9h0M692.1 540.7h0M670.7 494.3h0M399.5 799h0M543.4 462.9h0M565.3 502.4h0M379.9 779.4h0M822.8 817h0M532.8 604.6h0M457.9 860.5h0M805.3 807.3h0M901 855.7h0M337.3 813.5h0M811.4 960.3h0M414.4 848.4h0M355.1 935.4h0M813.6 864h0M754.4 762.1h0M504.7 709.8h0M536.5 539h0M794.3 950.5h0M759.9 956.1h0M899.7 907.1h0M956.9 851.2h0M743.5 688.2h0M713.6 336.2h0M462.9 978.3h0M387.6 810.5h0M353.6 766h0M421.1 875h0M727.7 696.8h0M678.9 491.5h0M534.9 390.6h0M682.3 532.2h0M589.9 521.1h0M859.6 864.5h0M477.6 766.1h0M440.6 665.8h0M793.9 824.9h0M536.4 568.5h0M736.4 987.9h0M610 535.8h0M505.9 686.9h0M707 554.6h0M634.9 335.9h0M773.9 748.4h0M460.2 718.7h0M828.6 953.9h0M753.5 958.5h0M357.6 856.1h0M804.9 839.9h0M673.8 493h0M781.2 757.8h0M583.2 553.4h0M468.4 681.5h0M1080.6 932.9h0M869.8 876.2h0M582.7 466.9h0M530.4 570.8h0M556.4 501.4h0M323.4 776.7h0M449.9 861.7h0M651.7 544.1h0M966.2 870.3h0M747.6 751.4h0M683.4 510.8h0M650.9 438.1h0M859 926.2h0M388.7 898.1h0M948.4 887.8h0M268 874.9h0M539.2 420.7h0M681.7 503.2h0M785.9 958.4h0M329.5 923.2h0M465.5 739.4h0M581 565.4h0M595.4 379.7h0M761.3 977.5h0M506.8 689.4h0M378.1 841.8h0M808.9 830.1h0M769.2 788.3h0M779.9 757.3h0M408.5 770h0M450.5 771.4h0M592.1 498.7h0M604.3 524.7h0M545.4 398.2h0M846.6 955.7h0M443.6 908.9h0M636 503.5h0M317.5 903.7h0M335.9 951.2h0M537.8 529.4h0M603.9 503.2h0M784.6 847.6h0M735.8 682.3h0M898.6 833.6h0M593.9 447.1h0M827.3 904.2h0M463.3 795.5h0M743.8 623.1h0M405.4 870.9h0M439.8 860.5h0M674 405.9h0M411.7 644.7h0M485.2 760.1h0M613.3 537h0M901.1 825.8h0M580.7 435.1h0M558.3 513.7h0M798.8 824.5h0M583.1 559.7h0M540.1 557.1h0M692 343.3h0M704.6 561.1h0M722.4 609.9h0M802.3 918.5h0M695.1 553.9h0M726.2 695.1h0M426.7 884.8h0M752.2 957.2h0M632.4 530.7h0M418.6 708.4h0M117.4 930h0M817.5 877.3h0M487.6 702.9h0M576.5 569.2h0M700.7 613.3h0M447.7 910.4h0M651.9 418.1h0M877.9 939.9h0M816.1 863.7h0M405.4 852.6h0M370.5 901.1h0M459.1 762.5h0M349.2 783.5h0M649.2 463.1h0M539.9 552h0M544.2 394.5h0M947.8 889.2h0M643.4 494.1h0M820.5 695.5h0M836.2 943.8h0M742.1 750.4h0M780.3 777.3h0M661.1 501.9h0M746.5 761.6h0M747.7 732.3h0M335.1 916.1h0M707 333h0M750.7 772.5h0M367.3 884.6h0M868.1 877.3h0M879.2 875.3h0M444.2 779.8h0M700.3 614.4h0M777.5 794.2h0M595.6 538.1h0M817.6 936.6h0M794.1 970.8h0M429.5 864.3h0M762.3 759h0M769.8 749.8h0M818.9 838.6h0M802.4 925.6h0M804.8 893.5h0M819.3 891.3h0M734.2 697.1h0M609.5 429.4h0M549.3 535.3h0M723.4 692h0M552.4 396h0M855.3 824.9h0M510.3 524.9h0M730.1 638h0M702.2 616.4h0M854.6 807.4h0M495.4 681.3h0M746.3 756.4h0M608.3 328.1h0M484.7 647.3h0M378.5 908.9h0M656.8 549.8h0M819.2 895.6h0M311.6 737.7h0M719.3 605.9h0M717.2 624.7h0M795.9 929.2h0M625.7 527.7h0M712.6 511.2h0M487.6 705.5h0M380.9 796.4h0M1019.7 901.8h0M725.6 696.3h0M599.8 538.8h0M600.8 421.9h0M710.1 381.7h0M659.4 546.9h0M758.3 956.5h0M408.4 652.2h0M525.5 580h0M862.5 960.1h0M385.7 875.3h0M441 841.4h0M798 802.4h0M719 633.3h0M755 950.1h0M427.1 883.2h0M574.2 492.3h0M406 872.9h0M1059.8 871.1h0M446.3 739.4h0M817.7 910.5h0M576.1 531.3h0M824.3 838.4h0M680.7 467.7h0M367.7 746.8h0M795.1 894.9h0M696.8 461.1h0M794.3 823.7h0M901.7 820.1h0M762.3 546.7h0M671.7 429.4h0M735.8 614h0M523 543.7h0M849.8 800.3h0M477.2 776.2h0M859.7 850.6h0M428.7 778.7h0M569.1 493h0M383.2 863.8h0M639.5 392.6h0M738.8 676.4h0M655.2 532h0M501.9 685.3h0M337.8 961h0M443.6 720.7h0M393.7 986h0M804.6 892h0M744.1 680.2h0M690.8 496.2h0M693.7 492.9h0M908.2 890.8h0M776.1 727.5h0M408.1 872.1h0M539.8 433.7h0M601.9 508.9h0M410.3 845.7h0M838.2 745.1h0M601.4 493.3h0M572.6 546.8h0M446.3 828.4h0M423.7 844.9h0M486.6 659h0M732.1 694.2h0M756.9 731.3h0M594.6 511.8h0M373.6 860.3h0M809.6 625.6h0M454.8 948.6h0M383 802.7h0M530.1 398h0M531.4 536.6h0M758.7 758.1h0M508.2 520.6h0M691.8 445.9h0M393.2 823.9h0M786.2 820h0M796.5 813.2h0M824 938.9h0M948.5 880.2h0M206.6 910.5h0M934.6 875.4h0M861.6 885h0M814.9 867.2h0M531.6 516.9h0M803.1 878.3h0M771.8 601.8h0M700.8 343.4h0M715.2 591.7h0M665.1 507.4h0M245.1 904.4h0M823.2 904.1h0M573.9 493.5h0M505.8 665.4h0M812 952.1h0M681.6 366.3h0M580.6 523h0M789.4 818.5h0M828 832.1h0M512.9 545.9h0M778.2 718.4h0M673.1 439.3h0M644.1 524.5h0M637.6 524.2h0M563.5 550.2h0M612.1 448h0M712.8 599.7h0M474.8 962.7h0M452.4 927.5h0M481.2 970.7h0M549.9 530.1h0M450.3 871.5h0M440.9 911h0M690.9 530.8h0M813.5 615.1h0M450.5 785.3h0M763.3 972.6h0M649.3 522h0M982 936.9h0M834.6 860.7h0M504.4 665.8h0M829.6 903h0M770.9 722.6h0M762.1 745.7h0M386.9 806h0M380.8 821h0M534.3 545.9h0M845.7 870.2h0M344.2 820.3h0M714.8 576.2h0M332.9 694.4h0M603.2 492.2h0M675.2 539.4h0M458.8 923.3h0M688.2 515.3h0M447.3 720.1h0M405.6 772.6h0M574.7 544.2h0M770.1 802.8h0M539.1 509.6h0M406 867.4h0M416.7 871.4h0M632.3 427.5h0M834.6 810.4h0M681.1 543.5h0M696.3 474.7h0M789.8 639.7h0M801.4 835.1h0M647.7 520h0M577.5 523.3h0M881.2 880h0M562.8 506.4h0M764.9 958.4h0M840.3 722.9h0M409.3 843.6h0M886.1 923.8h0M440.1 671.2h0M848.6 830.6h0M753.6 956.6h0M478.2 766.1h0M448 770h0M596.9 407.2h0M552.3 523h0M737.2 683.6h0M782.5 844.7h0M851.4 796.8h0M744.7 589.4h0M570.4 536.4h0M393.2 813.4h0M555.7 518.4h0M523.7 582.9h0M790.9 691.3h0M704.1 551.9h0M310.9 829.6h0M276.9 924.7h0M375.7 739.5h0M434.5 925.9h0M858.3 921.2h0M858.3 811.5h0M483.3 679.9h0M780.8 965.3h0M776 806h0M732.6 692.4h0M789.8 809.6h0M457.7 915.6h0M605.3 492.1h0M696 513.1h0M206.2 928.2h0M794.5 886.5h0M519.3 609.9h0M836.6 836.6h0M662.2 510.7h0M445.9 922.4h0M417.3 694.7h0M387.9 924.2h0M489.7 761.8h0M709.1 558h0M801 812.9h0M819.1 784.7h0M592.6 424.6h0M654.8 543.9h0M584.6 543.3h0M538.2 493.5h0M710.9 546.7h0M331.1 818.9h0M424.4 949h0M448.7 825.7h0M578.8 432.8h0M460.8 861.1h0M811.8 858.2h0M698.3 469.8h0M786.5 797.8h0M766.8 963.4h0M352.3 957.1h0M515.9 627.9h0M506.1 537.8h0M715.5 640.4h0M907.7 904.6h0M770.3 775.6h0M819.2 892.2h0M876.7 937.5h0M581 542.1h0M538.7 642.1h0M661.7 998.5h0M625.7 410.4h0M768.9 731.9h0M612.6 501.6h0M593.7 496.2h0M564.4 505.3h0M792.2 844.9h0M563.5 365.6h0M442.7 954.9h0M827.4 812.6h0M336 868.1h0M703.2 476.1h0M488.6 777.6h0M448.6 802.7h0M599.9 409.6h0M552 533.1h0M378.2 739.8h0M835.9 885h0M588 554.7h0M807.9 762.3h0M695.3 411.8h0M606.9 448.4h0M384.3 844h0M528 445.3h0M863.4 853.3h0M339.2 930.2h0M517.4 377.6h0M442 808.3h0M455.3 933.3h0M731.1 679.6h0M711.4 569.1h0M417.9 815.9h0M380.6 957.5h0M644.9 459.3h0M794.5 802.9h0M677.3 540.4h0M407.7 929.3h0M691.9 494.1h0M559.8 524.6h0M835.3 755.1h0M139.3 973.5h0M452.7 938.2h0M699.2 531.2h0M759.6 780.7h0M414.6 899.7h0M403.8 865.4h0M816.3 915.9h0M522.1 561.8h0M833.4 869.7h0M703.5 576h0M498 984h0M245.1 881.7h0M749.9 638.4h0M846.4 866h0M945.9 852.8h0M839.4 922.9h0M800.3 908.6h0M830.3 871.2h0M489.3 608.5h0M336.5 924.9h0M582.7 313.7h0M602.3 511.9h0M813.3 805.8h0M925.9 886.5h0M423.4 839.9h0M412.6 910.2h0M706.2 583.9h0M969.2 748.2h0M424.1 880.8h0M548.9 530.7h0M573.2 428.4h0M589.2 524h0M454.2 830.5h0M402.5 883.4h0M872.9 761.8h0M606.1 330.7h0M653.2 390.9h0M1015.2 910.7h0M817.6 900.2h0M626.1 421.6h0M447.9 813.8h0M426.4 891.5h0M450.1 830.1h0M805.5 813.5h0M799 952.7h0M605.7 477.4h0M556 464.5h0M781.1 759.6h0M724.6 646.1h0M569.7 528.7h0M560.7 518.6h0M488.9 667.8h0M820.3 881.4h0M789 925.4h0M798.2 791.8h0M446.8 862.3h0M832.5 932.5h0M542 584.3h0M375.8 900.7h0M320.3 909h0M744.4 980.6h0M695.5 509.5h0M811.5 939h0M437.3 787.3h0M897 917.8h0M472.4 666.8h0M696.5 426.2h0M598.7 548.3h0M553.2 490.2h0M404 874.3h0M479.1 686.4h0M362 949.1h0M753.4 670.8h0M691.1 433.9h0M548.1 528.1h0M450.9 768.9h0M390.6 867.6h0M548.4 418.6h0M811.6 752.3h0M435.4 858.1h0M630.2 529.2h0M768.2 742.7h0M572.6 560.7h0M832 957.4h0M563 385.6h0M736.3 708h0M599.9 309.4h0M498 647.8h0M590.4 410.6h0M803.9 919.3h0M407.4 922.9h0M548 386.9h0M362.1 755h0M808 864.6h0M589.2 511.7h0M811 842.5h0M799.8 883.8h0M425.7 864.5h0M793.7 823.3h0M462.2 977h0M461.4 764.6h0M526 990.5h0M549.9 385.4h0M392.6 782h0M367 862.5h0M609.2 516.5h0M365.8 733.4h0M1006.7 940.6h0M548.8 451h0M497.2 534.8h0M1004.2 895h0M440.8 920h0M218.4 813.8h0M581.1 558.3h0M470 967.9h0M520.4 577.8h0M421.9 904.2h0M976.2 943.8h0M896.2 870.4h0M706.7 421.5h0M651.6 537.8h0M1020.9 862h0M451.3 931.2h0M910.6 838h0M561.5 540h0M553.2 501.5h0M541 439h0M781.3 958.7h0M794.7 966.8h0M758.3 950.1h0M463 924.4h0M323.5 896.9h0M427.8 850.1h0M750.6 738.4h0M452.7 941.1h0M525.9 393.6h0M208.4 738.3h0M717.6 585.3h0M724.8 697h0M853.7 718.6h0M837.3 749.7h0M403.7 778.8h0M549.3 502.7h0M761.3 764.8h0M702.5 613.1h0M435.7 913.5h0M552.4 524.6h0M764.6 780.5h0M460.7 672h0M391.7 971.3h0M401.5 861.7h0M485 657.4h0M742.4 653.3h0M751.9 524.7h0M442.3 931.4h0M350.6 928.2h0M833.4 907.8h0M995.5 947.3h0M529.3 607.5h0M707.8 589.6h0M480.5 959h0M871.5 857.6h0M501.1 986.6h0M757.1 974.1h0M529.2 516.6h0M902.6 865.9h0M426.2 868.4h0M801 778.7h0M789.6 748.6h0M523.1 313.9h0M545.4 523.6h0M612.1 381.2h0M418.9 961.8h0M806.2 817.4h0M412.1 809.8h0M518 581.7h0M356.7 852.6h0M441 955.6h0M816.8 879.7h0M636.6 523.3h0M436.3 931.1h0M791.7 939.9h0M739.2 641.5h0M920.4 715h0M787.2 761.2h0M459.7 953.8h0M639.3 523.7h0M982.3 854.1h0M322.5 931.5h0M678.2 531.1h0M685.6 415.7h0M230.7 838.6h0M764.2 697.2h0M214.9 981.2h0M814.1 705.8h0M480.3 738.5h0M602.6 453.5h0M396.4 944.4h0M814.8 854.3h0M591.3 547.2h0M797.6 757.5h0M676.2 544.5h0M579.9 407.1h0M279.1 963.6h0M428.8 706.8h0M780.8 958.8h0M759.2 689.2h0M388.4 868.3h0M432.6 933.8h0M650 395.8h0M239.5 828.4h0M1080 939.1h0M261 938.8h0M746.4 742.1h0M431.6 930.3h0M685.2 496.7h0M758.9 688.7h0M568.7 452.8h0M612.8 455.1h0M857.1 865.4h0M871 859.6h0M893.7 857.3h0M388.6 917.1h0M603 507.8h0M833.5 886.2h0M455.1 943h0M593.9 493.4h0M763.2 795h0M592.4 499.6h0M481.5 968.4h0M584 526.2h0M517.4 489.6h0M635.4 506.3h0M842 861.5h0M428.7 834.2h0M810.4 831.5h0M334.3 912.1h0M598.4 508.2h0M443.1 860.2h0M659.3 386.7h0M852.5 949.6h0M682.5 537.7h0M537.7 428.1h0M760.8 952.8h0M759 755h0M687.5 430.9h0M790.8 896.1h0M449.5 918.6h0M893.4 846.7h0M818.6 769.9h0M792 790.4h0M795.8 949.6h0M918 762.5h0M823.2 752h0M740.2 638.5h0M412.1 743.3h0M707.3 589.6h0M971 904.6h0M760.6 451h0M837.6 830.5h0M564.6 531.3h0M781.7 964.4h0M415.4 903.7h0M403 827.4h0M773.5 982.6h0M849.3 926.6h0M858.2 833.3h0M499.9 698.8h0M534.1 485.4h0M278.4 727.1h0M782 817.7h0M511.4 522.4h0M426.5 930.5h0M682.1 469.8h0M837.3 815.1h0M407.3 916.5h0M626.9 498.1h0M577 558.9h0M558.6 474.2h0M839.2 883.5h0M701 449.7h0M427.5 885h0M387.7 910.3h0M723.4 704.5h0M923.3 911.4h0M436.4 764.4h0M741.7 752.5h0M904.7 880.5h0M551.9 357.9h0M814.7 911.9h0M464.8 914.3h0M862.8 938.4h0M607.6 403.4h0M444.1 793.3h0M410.8 853.4h0M456.6 859.4h0M788.2 844.5h0M975.7 881.5h0M600.3 525.8h0M441.9 697.7h0M755.7 756.3h0M630.2 526.4h0M810.8 879.5h0M821.7 719.1h0M434.9 932h0M685.2 538h0M563.3 499.2h0M449.3 834.2h0M854.9 912.7h0M374.9 858.3h0M370.5 925h0M632.1 463.6h0M340.5 930.3h0M668.8 529.6h0M458.9 858.7h0M875.2 815.3h0M711 525.3h0M446.8 802.1h0" stroke="#c6c6c6" stroke-width="6.7" stroke-linecap="round" fill="none"/>
<text x="15.8" y="44.4" font-size="48.5" font-weight="bold">a</text>
<path d="M104.5 44V1045.5H1093" stroke="#000" stroke-width="2.4" fill="none" stroke-linejoin="round"/>
<path d="M97.9 999.9H104M97.9 740.7H104M97.9 481.5H104M97.9 222.4H104" stroke="#333" stroke-width="2"/>
<path d="M149.7 1046.5V1051.7M384.4 1046.5V1051.7M619 1046.5V1051.7M853.7 1046.5V1051.7M1088.4 1046.5V1051.7" stroke="#333" stroke-width="2.3"/>
<text x="51.4" y="1010.9" font-size="29.5" class="ls" fill="#4d4d4d">0.0</text>
<text x="51.5" y="751.7" font-size="29.5" class="ls" fill="#4d4d4d">2.5</text>
<text x="51.4" y="492.5" font-size="29.5" class="ls" fill="#4d4d4d">5.0</text>
<text x="51.5" y="233.2" font-size="29.5" class="ls" fill="#4d4d4d">7.5</text>
<text x="111.2" y="1080.1" font-size="29.5" class="ls" fill="#4d4d4d">−0.10</text>
<text x="345.9" y="1080.1" font-size="29.5" class="ls" fill="#4d4d4d">−0.05</text>
<text x="590.3" y="1080.1" font-size="29.5" class="ls" fill="#4d4d4d">0.00</text>
<text x="825" y="1080.1" font-size="29.5" class="ls" fill="#4d4d4d">0.05</text>
<text x="1059.7" y="1080.1" font-size="29.5" class="ls" fill="#4d4d4d">0.10</text>
<text x="531.7" y="1111.7" font-size="32.4">Delta Beta</text>
<path d="M581.2 1114H585.2M591.6 1114H595.5M601.9 1114H605.9M611.8 1114H615.7" stroke="#999" stroke-width="1.6"/>
<text x="35.5" y="635.8" font-size="41" transform="rotate(-90 35.5 635.8)">-log10(<tspan font-style="italic">p</tspan>)</text>
<path d="M105.5 257.4H1087" stroke="#b22222" stroke-width="2.2" stroke-dasharray="8.2 8.2"/>
<path d="M426.5 74.6L522.4 86.9M557 167.2L568.3 195.9M408.6 190.3L507.5 191M480.2 250.3L420.5 309M653 151.5L723.6 95.7M664.9 183.6L797.7 178.6M666.4 246.9L802.7 306" stroke="#333" stroke-width="1.9" fill="none"/>
<g fill="#d66060"><circle cx="526.9" cy="88.8" r="3.5"/><circle cx="569.8" cy="203" r="3.5"/><circle cx="512.7" cy="191" r="3.5"/><circle cx="484.6" cy="245.9" r="3.5"/></g>
<g fill="#3a6a91"><circle cx="649.1" cy="155.9" r="3.5"/><circle cx="657.4" cy="185.9" r="3.5"/><circle cx="659.4" cy="242.5" r="3.5"/></g>
<text x="320.5" y="72.3" font-size="29.5" font-style="italic" textLength="82.3" lengthAdjust="spacingAndGlyphs">ARSB</text>
<text x="493.6" y="131.5" font-size="29.5" font-style="italic" textLength="92.4" lengthAdjust="spacingAndGlyphs">NIPBL</text>
<text x="305.2" y="188.7" font-size="29.5" font-style="italic" textLength="77.3" lengthAdjust="spacingAndGlyphs">FHL2</text>
<text x="733.9" y="83.6" font-size="29.5" font-style="italic" textLength="170" lengthAdjust="spacingAndGlyphs">LINC00173</text>
<text x="813.1" y="174.9" font-size="29.5" font-style="italic" textLength="113.3" lengthAdjust="spacingAndGlyphs">MGRN1</text>
<text x="814.2" y="303.4" font-size="29.5" font-style="italic" textLength="118.7" lengthAdjust="spacingAndGlyphs">IQSEC1</text>
<text x="280.3" y="100.6" font-size="25">cg16086807</text>
<text x="459.4" y="162.3" font-size="25">cg11099930</text>
<text x="263.6" y="218.2" font-size="25">cg04866173</text>
<text x="277.6" y="335" font-size="25">cg24435966</text>
<text x="739.2" y="114.1" font-size="25">cg18800161</text>
<text x="788.6" y="205.6" font-size="25">cg16250093</text>
<text x="794.3" y="332.6" font-size="25">cg06951630</text>
<text x="1241.6" y="41.9" font-size="48.5" font-weight="bold">b</text>
<rect x="1332.1" y="41.3" width="658.8" height="573.8" fill="none" stroke="#000" stroke-width="2.2"/>
<path d="M1309 593.8H1332M1309 475.9H1332M1309 358H1332M1309 240.1H1332M1309 122.2H1332M1356.5 615V637.5M1455.5 615V637.5M1554.5 615V637.5M1653.5 615V637.5M1752.5 615V637.5M1851.5 615V637.5M1950.5 615V637.5" stroke="#000" stroke-width="2.3"/>
<text x="1284.9" y="602.4" font-size="27.5" class="ls">0</text>
<text x="1285.2" y="484.5" font-size="27.5" class="ls">2</text>
<text x="1284.6" y="366.5" font-size="27.5" class="ls">4</text>
<text x="1285" y="248.7" font-size="27.5" class="ls">6</text>
<text x="1285" y="130.8" font-size="27.5" class="ls">8</text>
<text x="1349.4" y="663.7" font-size="27.5" class="ls">0</text>
<text x="1448.1" y="663.4" font-size="27.5" class="ls">1</text>
<text x="1547.5" y="663.7" font-size="27.5" class="ls">2</text>
<text x="1646.5" y="663.7" font-size="27.5" class="ls">3</text>
<text x="1745.5" y="663.4" font-size="27.5" class="ls">4</text>
<text x="1844.5" y="663.4" font-size="27.5" class="ls">5</text>
<text x="1943.4" y="663.7" font-size="27.5" class="ls">6</text>
<path d="M1990.9 616V701" stroke="#ffd6d6" stroke-width="1"/>
<text x="1352.5" y="89.3" font-size="35" class="ls">λ = 1.195</text>
<text x="1500.5" y="691.9" font-size="31.8">Expected -log<tspan dy="6" font-size="34.5">10</tspan><tspan dy="-6" font-size="34.5">(<tspan font-style="italic">p</tspan>)</tspan></text>
<text x="1269.6" y="483.1" font-size="32.3" transform="rotate(-90 1269.6 483.1)">Observed -log10(<tspan font-style="italic">p</tspan>)</text>
<path d="M1332.2 608.3L1991.5 215.7" stroke="#f00" stroke-width="2"/>
<path d="M1356.5 593.2L1393.3 569.2L1446.6 531.9L1499.9 494.6L1553.2 457.2L1606.5 418.6L1633.2 398.6L1659.8 376L1686.5 352L1706 331L1715.7 319.5L1728.2 310.1L1739.2 300.7L1747 291.3L1758 283.5L1765.8 277.2L1772.1 269.4L1775.2 260L1781.5 252.2L1790.9 248.2L1800.3 244.3L1805 236.5L1812.8 227.1L1820.7 219.3L1823.8 211.4L1828.5 206.7L1837.9 200.4L1844.2 195" stroke="#000" stroke-width="14.4" stroke-linecap="round" stroke-linejoin="round" fill="none"/>
<g><circle cx="1966.7" cy="75.5" r="6.7"/><circle cx="1919.4" cy="113.8" r="6.7"/><circle cx="1897.8" cy="130.9" r="6.7"/><circle cx="1883" cy="133.8" r="6.7"/><circle cx="1872.1" cy="140.6" r="6.7"/><circle cx="1863.9" cy="163.1" r="6.7"/><circle cx="1856.4" cy="164.7" r="6.7"/><circle cx="1850.1" cy="186.3" r="6.7"/></g>
<text x="1243.5" y="713.2" font-size="48.5" font-weight="bold">c</text>
<path d="M1332.3 715V1045.3H1994" stroke="#000" stroke-width="2.7" fill="none" stroke-linejoin="round"/>
<path d="M1325.9 1030.7H1332M1325.9 955.1H1332M1325.9 879.5H1332M1325.9 803.9H1332M1325.9 728.3H1332" stroke="#333" stroke-width="2.2"/>
<path d="M1362.3 1046.5V1051.8M1511.5 1046.5V1051.8M1660.8 1046.5V1051.8M1810 1046.5V1051.8M1959.3 1046.5V1051.8" stroke="#333" stroke-width="2.8"/>
<text x="1281.8" y="1040.8" font-size="27.5" class="ls" fill="#4d4d4d">0.0</text>
<text x="1281.9" y="965.2" font-size="27.5" class="ls" fill="#4d4d4d">0.5</text>
<text x="1281.8" y="889.6" font-size="27.5" class="ls" fill="#4d4d4d">1.0</text>
<text x="1281.9" y="813.9" font-size="27.5" class="ls" fill="#4d4d4d">1.5</text>
<text x="1281.8" y="738.4" font-size="27.5" class="ls" fill="#4d4d4d">2.0</text>
<text x="1354.7" y="1077.3" font-size="28" class="ls" fill="#4d4d4d">0</text>
<text x="1504" y="1077.3" font-size="28" class="ls" fill="#4d4d4d">2</text>
<text x="1653.3" y="1077" font-size="28" class="ls" fill="#4d4d4d">4</text>
<text x="1802.4" y="1077.3" font-size="28" class="ls" fill="#4d4d4d">6</text>
<text x="1951.7" y="1077.3" font-size="28" class="ls" fill="#4d4d4d">8</text>
<text x="1496.9" y="1109.8" font-size="32">Observed -log<tspan dy="6.5" font-size="34.5">10</tspan><tspan dy="-6.5" font-size="34.5">(<tspan font-style="italic">p</tspan>)</tspan></text>
<text x="1269.6" y="955.5" font-size="32.6" transform="rotate(-90 1269.6 955.5)">Density</text>
<path d="M1362.3 864.6L1362.8 823.1L1363.3 788.1L1363.8 755.3L1364.4 740.9L1364.9 735.7L1365.4 731.9L1365.9 729.8L1366.4 729.3L1366.9 730.5L1367.4 732.8L1367.9 735.6L1368.5 738.5L1369.0 741.8L1369.5 745.8L1370.0 750.1L1370.5 754.6L1372.3 770.3L1374.1 783.8L1375.9 796.5L1377.7 808.7L1379.5 820.2L1381.3 831.2L1383.0 841.4L1384.8 851.1L1386.6 860.2L1388.4 868.8L1390.2 877.1L1392.0 885.1L1393.8 892.7L1395.6 900.0L1397.4 907.2L1399.2 914.1L1401.0 920.7L1402.8 926.7L1404.6 932.6L1406.3 938.2L1408.1 943.6L1409.9 948.8L1411.7 953.5L1413.5 957.9L1415.3 961.9L1417.1 965.5L1418.9 968.8L1420.7 971.8L1422.5 974.7L1424.3 977.5L1426.1 980.1L1427.8 982.6L1429.6 985.0L1431.4 987.2L1433.2 989.4L1435.0 991.4L1436.8 993.2L1438.6 995.0L1440.4 996.7L1442.2 998.3L1444.0 999.9L1445.8 1001.6L1447.6 1003.2L1449.4 1004.7L1451.1 1006.2L1452.9 1007.6L1454.7 1008.9L1456.5 1009.9L1458.3 1010.9L1460.1 1011.9L1461.9 1012.7L1463.7 1013.6L1465.5 1014.4L1467.3 1015.1L1469.1 1015.8L1470.9 1016.5L1472.7 1017.1L1474.4 1017.8L1476.2 1018.4L1478.0 1019.0L1479.8 1019.6L1481.6 1020.2L1483.4 1020.8L1485.2 1021.3L1487.0 1021.8L1488.8 1022.3L1490.6 1022.8L1492.4 1023.2L1494.2 1023.5L1495.9 1023.8L1497.7 1024.2L1499.5 1024.5L1501.3 1024.8L1503.1 1025.1L1504.9 1025.3L1506.7 1025.6L1508.5 1025.9L1510.3 1026.1L1512.1 1026.4L1513.9 1026.6L1515.7 1026.8L1517.5 1027.0L1519.2 1027.2L1521.0 1027.4L1522.8 1027.6L1524.6 1027.7L1526.4 1027.9L1528.2 1028.0L1530.0 1028.1L1535.0 1028.4L1549.7 1029.0L1564.4 1029.5L1579.1 1029.7L1593.8 1030.0L1608.5 1030.1L1623.2 1030.3L1637.9 1030.4L1652.6 1030.4L1667.3 1030.4L1682.0 1030.5L1696.7 1030.5L1711.4 1030.5L1726.1 1030.5L1740.8 1030.6L1755.5 1030.6L1770.2 1030.6L1784.9 1030.6L1799.6 1030.6L1814.3 1030.6L1829.0 1030.7L1843.7 1030.7L1858.4 1030.7L1873.1 1030.7L1887.8 1030.7L1902.5 1030.7L1917.2 1030.7L1931.9 1030.7L1946.6 1030.7L1961.3 1030.7L1961.3 1030.5L1362.3 1030.5Z" fill="#a3a3a3"/>
<path d="M1362.3 864.6L1362.8 823.1L1363.3 788.1L1363.8 755.3L1364.4 740.9L1364.9 735.7L1365.4 731.9L1365.9 729.8L1366.4 729.3L1366.9 730.5L1367.4 732.8L1367.9 735.6L1368.5 738.5L1369.0 741.8L1369.5 745.8L1370.0 750.1L1370.5 754.6L1372.3 770.3L1374.1 783.8L1375.9 796.5L1377.7 808.7L1379.5 820.2L1381.3 831.2L1383.0 841.4L1384.8 851.1L1386.6 860.2L1388.4 868.8L1390.2 877.1L1392.0 885.1L1393.8 892.7L1395.6 900.0L1397.4 907.2L1399.2 914.1L1401.0 920.7L1402.8 926.7L1404.6 932.6L1406.3 938.2L1408.1 943.6L1409.9 948.8L1411.7 953.5L1413.5 957.9L1415.3 961.9L1417.1 965.5L1418.9 968.8L1420.7 971.8L1422.5 974.7L1424.3 977.5L1426.1 980.1L1427.8 982.6L1429.6 985.0L1431.4 987.2L1433.2 989.4L1435.0 991.4L1436.8 993.2L1438.6 995.0L1440.4 996.7L1442.2 998.3L1444.0 999.9L1445.8 1001.6L1447.6 1003.2L1449.4 1004.7L1451.1 1006.2L1452.9 1007.6L1454.7 1008.9L1456.5 1009.9L1458.3 1010.9L1460.1 1011.9L1461.9 1012.7L1463.7 1013.6L1465.5 1014.4L1467.3 1015.1L1469.1 1015.8L1470.9 1016.5L1472.7 1017.1L1474.4 1017.8L1476.2 1018.4L1478.0 1019.0L1479.8 1019.6L1481.6 1020.2L1483.4 1020.8L1485.2 1021.3L1487.0 1021.8L1488.8 1022.3L1490.6 1022.8L1492.4 1023.2L1494.2 1023.5L1495.9 1023.8L1497.7 1024.2L1499.5 1024.5L1501.3 1024.8L1503.1 1025.1L1504.9 1025.3L1506.7 1025.6L1508.5 1025.9L1510.3 1026.1L1512.1 1026.4L1513.9 1026.6L1515.7 1026.8L1517.5 1027.0L1519.2 1027.2L1521.0 1027.4L1522.8 1027.6L1524.6 1027.7L1526.4 1027.9L1528.2 1028.0L1530.0 1028.1L1535.0 1028.4L1549.7 1029.0L1564.4 1029.5L1579.1 1029.7L1593.8 1030.0L1608.5 1030.1L1623.2 1030.3L1637.9 1030.4L1652.6 1030.4L1667.3 1030.4L1682.0 1030.5L1696.7 1030.5L1711.4 1030.5L1726.1 1030.5L1740.8 1030.6L1755.5 1030.6L1770.2 1030.6L1784.9 1030.6L1799.6 1030.6L1814.3 1030.6L1829.0 1030.7L1843.7 1030.7L1858.4 1030.7L1873.1 1030.7L1887.8 1030.7L1902.5 1030.7L1917.2 1030.7L1931.9 1030.7L1946.6 1030.7L1961.3 1030.7" stroke="#333" stroke-width="2.2" fill="none" stroke-linejoin="round"/>
<path d="M1774.8 1798.2 1772.2 1799 1770.2 1801.8 1771 1805.8 1769 1808.5 1769 1811 1771 1813.8 1774.8 1814.5 1774.2 1818 1776 1820.5 1773.5 1822.5 1772.5 1825.5 1769.5 1828.8 1769.5 1831.2 1771.2 1833.8 1768 1837.2 1768 1839.8 1771 1843.2 1768.5 1846.8 1768.5 1849.2 1770.2 1853.5 1773.2 1855.5 1773.8 1858.5 1769.8 1861.2 1769 1862.8 1769.5 1868.2 1768 1870 1768 2011 1803.2 2011 1803.2 1893 1802.5 1889 1803.2 1883.2 1800.2 1880 1803.2 1876.8 1803.2 1872.2 1801.5 1870.2 1803.2 1867.8 1803.2 1861.2 1801.8 1856.5 1802.8 1852.2 1800.8 1849.5 1798.2 1848.8 1800.2 1845.8 1799.8 1840.5 1802.2 1837.2 1802.2 1834.8 1800.2 1832 1802.2 1829 1802.2 1826.5 1799.2 1823 1798.5 1820.5 1795.8 1818.2 1797.8 1812.8 1797.8 1810.2 1795.8 1807.5 1792.5 1806.8 1791.8 1803.2 1789.5 1801.5 1787 1801.5 1785 1800 1781 1799.5 1778.5 1800.2ZM1783.8 1850.2 1784.5 1850.8 1784 1851.5ZM1778.2 1808 1784.5 1809 1786.5 1810.5 1788.8 1810.8 1787.8 1813.8 1788.2 1817.8 1787.2 1819.2 1785 1814.8 1782.8 1814.2 1780.2 1812.2 1777.5 1812ZM1162 1796.8 1159.5 1797.5 1157.5 1800.2 1158.2 1804.2 1161 1806.2 1159.8 1808 1157 1806.2 1157 1803.5 1155 1800.8 1151 1800.2 1146.2 1803.8 1145.5 1808.2 1143.5 1811 1143.5 1813.5 1146.5 1817.8 1145.8 1822 1147.5 1824.8 1145.8 1827.2 1146.8 1831.5 1146.2 1833.5 1143.2 1837 1143.2 1844.2 1145 1846.8 1143.5 1856 1145.2 1859 1143.8 1861.2 1144.2 1864.8 1143 1870 1144 1874.5 1143 1877.2 1144 1884.8 1143 1890.8 1144 1895.5 1143.2 1895.8 1141.5 2011 1185 2011 1185 1885.2 1184 1883.8 1185 1880.2 1185 1865.2 1184 1862.8 1185 1860 1185 1855.5 1180.5 1851.8 1183.2 1850.5 1185 1848.2 1185 1841.2 1182.5 1838.2 1185 1835.8 1185 1831 1182.8 1823.5 1177.8 1819.8 1178.8 1815.5 1176.8 1812.8 1172.8 1812.2 1170.5 1814 1169.8 1818 1172 1821 1170.8 1824.8 1170.2 1821.5 1168.2 1818.8 1165.8 1818 1162 1819.8 1161 1817 1158.5 1815 1160.5 1812.5 1164 1814.5 1167 1814.5 1170 1811.2 1169.2 1807.2 1165.2 1804.8 1166.5 1802.8 1165.8 1798.8ZM1164.2 1828 1164.5 1829.5 1163.2 1830.2 1163.2 1828.8ZM1270.8 1795.5 1268.5 1797.2 1267.8 1801.2 1269.8 1804.2 1268 1807 1268 1809.5 1269.5 1812 1268 1814.5 1268 1817 1270 1819.8 1270.5 1823.8 1269.8 1827.8 1271.2 1830.2 1267 1834.8 1267.8 1838.8 1267.2 1842.8 1269.5 1845.8 1267.5 1853.2 1267.8 1856.8 1266 1860 1266 1863.5 1268.5 1866.2 1267.2 1869.2 1268 1873.5 1266 1876 1266 1879.5 1267.5 1881.5 1267.2 1886.2 1266 1888 1266 2011 1346.2 2011 1346.2 1891.5 1345.5 1890.2 1346.2 1888.8 1346.2 1871.8 1343.2 1869.2 1346.2 1866 1345.5 1862 1346.2 1854.2 1343.8 1851.5 1344.2 1847.8 1340.5 1842.8 1338 1842 1338 1840.8 1341 1837.5 1341 1835.2 1342.8 1834.5 1344.8 1831.8 1344.8 1829.2 1343.5 1827 1344.2 1822.8 1341.8 1819.5 1345.5 1817.5 1346.2 1813.5 1344.2 1810.8 1341.8 1810 1339.2 1810.8 1337.2 1813.2 1334.2 1814.2 1332.2 1812.8 1328.2 1813.2 1326.2 1816 1326.2 1818.5 1327.5 1820.5 1325.5 1821.2 1323.5 1824 1323.5 1826.5 1325.5 1829.2 1323.5 1830 1320.8 1833.8 1319 1832.5 1320 1829.8 1319.8 1825.2 1321.2 1823 1320.5 1819 1318.2 1817.2 1314.5 1817.8 1312.5 1815.5 1310.2 1814.8 1310 1811.2 1313 1812.2 1316.8 1810.2 1317.5 1806.2 1315.5 1803.5 1313 1802.8 1309.2 1804.5 1304 1801.5 1300 1802 1298 1804.5 1294.5 1806.2 1293.8 1810 1291 1812.2 1289 1817 1285.2 1821 1285.8 1815.8 1283.8 1813 1281.2 1812.2 1277.2 1814.5 1276.8 1814 1278.2 1811.5 1278.2 1809 1276.2 1805.5 1278 1802.8 1277.2 1798.8 1274.8 1796ZM1326 1853.8 1326.8 1856.5 1323.8 1857.2 1321.8 1859.8 1321.5 1856.8 1322.5 1854.2ZM1313.8 1845.8 1315.5 1846.8 1314.8 1848 1313.2 1846.5ZM1329 1842.5 1321.2 1845.2 1323.5 1842 1326.5 1841.2ZM1291.8 1839 1294 1841.2 1297.5 1841.8 1297.5 1842.5 1294.5 1843.2 1291.8 1842.2ZM1304.2 1831.5 1307 1833.8 1306.8 1836 1302.5 1833.5ZM1286 1829.5 1284 1830.8 1281.8 1829 1278.2 1828.8 1279 1827.2 1281 1827.8 1283.5 1827ZM1301 1813 1301.2 1816.2 1303.2 1819 1301.2 1819.8 1299 1822.5 1297.8 1822.2 1297.2 1819.8 1299.5 1816 1299.5 1813.8ZM1581 1795.2 1574.5 1799.5 1573.8 1803.5 1575.8 1806.2 1575.2 1809.8 1576 1811.2 1579.8 1813.2 1584 1812.5 1583.5 1815.5 1581.8 1816.2 1578.8 1815 1574 1815 1571 1818.2 1571 1820.8 1573 1823.5 1578.8 1824.5 1581.5 1823.8 1583.5 1826.2 1583 1830 1578.8 1829.5 1575.8 1832.8 1576.5 1836.8 1580.2 1838.8 1580.5 1840 1577.2 1839 1574.8 1839.8 1571 1845 1571 1847.5 1572.2 1849.5 1571.8 1857 1573 1859 1571 1861.2 1571 1874 1573.5 1876 1571 1878.5 1571 1883 1572 1885 1571 1892.8 1571 2011 1619.5 2011 1619.2 1888.2 1617.2 1885.5 1619.5 1881.8 1619.5 1874.5 1618.5 1872.8 1617.8 1862.8 1619 1860.8 1619 1858.2 1617.8 1856 1619.5 1853.5 1619.5 1850 1617.2 1847.5 1618.2 1845 1617.5 1840.8 1619.5 1838.2 1619.5 1834.8 1616.2 1830.5 1617.8 1828.2 1617.8 1825.8 1616 1820.8 1612.2 1818.8 1609.2 1819.8 1605.8 1816.2 1602.8 1815.8 1600.8 1810.2 1598.5 1808.5 1590.2 1809.2 1586.8 1810.8 1587.2 1806.8 1585 1803.8 1587 1801 1587 1798.5 1585 1795.8ZM1586.8 1833.5 1588.2 1836.5 1591.5 1838.5 1591 1839 1586.2 1836.2ZM1610.2 1830.5 1608.8 1832.8 1608.5 1835.2 1605 1835 1602.5 1837 1598.2 1835.8 1598.5 1832.8 1600.5 1834.2 1606 1834.5 1608.2 1832.8 1609.2 1829.2ZM1608 1825.5 1608.5 1827.8 1607.2 1826.2ZM1872.5 1787.5 1870 1788.2 1868.2 1790.2 1866.2 1789 1863.2 1789 1860.2 1792.2 1861 1796.2 1863.2 1798 1865.2 1798.2 1865.2 1799.8 1867.8 1803.8 1866 1804 1863.8 1799.8 1861.2 1799 1859.2 1799.5 1856.5 1797.2 1853.5 1797.2 1851.2 1799 1850.5 1803 1852.5 1805.8 1855 1806.5 1853.8 1808.8 1853.8 1811.2 1855 1813.2 1850.2 1813.8 1848 1817.8 1848.5 1822.8 1852.5 1825 1850.8 1827.5 1850.8 1830.2 1852.8 1834.2 1851.5 1836.5 1851.5 1839 1853.8 1842 1853 1846 1850.2 1847 1848 1850.2 1848 1855.2 1850.2 1857.5 1848.5 1860.2 1848 1872.2 1848.8 1873.5 1848 1878.5 1848 2011 1878.2 2011 1878.2 1873.5 1877.2 1872.2 1877 1867 1878.2 1865.5 1878.2 1859.5 1876.8 1857.8 1877.8 1856 1878.2 1849.5 1876.2 1846.8 1878.2 1842.2 1878.2 1835 1875.5 1832.2 1871.2 1833 1870.5 1832.2 1873.8 1827.8 1872.8 1822.5 1870.8 1819.8 1868.2 1819 1865 1820.5 1861.8 1816.8 1857.5 1817.5 1856 1814.5 1860.8 1814 1862.8 1811.2 1863.2 1808 1865.5 1812.2 1869 1813 1869 1815.2 1871 1818 1875 1818.5 1877.2 1816.8 1878 1812.8 1875 1809.5 1878.2 1807 1878.2 1802.5 1874 1796.8 1876.2 1795 1877 1791 1875 1788.2ZM1855 1823.8 1855.8 1823 1856.5 1824ZM812.8 1794.2 809.8 1794.2 806.5 1797.8 803.8 1797.8 801.5 1799.5 801.2 1797 799.2 1794.2 795 1793.5 795.2 1790.5 793.2 1787.8 790.8 1787 788.2 1787.8 786.2 1790.5 786.2 1793 788.2 1795.8 792.5 1796.5 788.5 1801.2 789 1805.2 788 1809.5 791 1812.8 787 1813.5 784.8 1810.2 782.2 1809.5 779.8 1810.2 778 1812 774.8 1811.8 771.8 1815 771.8 1817.5 773 1819.8 770.5 1820.5 768.5 1823 765.8 1818.8 763.2 1818 759.5 1820 758.5 1824.2 757.5 1823.2 758 1819.8 757.2 1818.2 753.5 1816.2 751 1817 748.8 1820.8 746.5 1819 743.5 1819 736.5 1823.8 737.8 1818.8 740.5 1818.5 742.8 1816.8 743.5 1812.8 740.5 1809.5 737.5 1809.5 736 1810.5 736 1807.2 733 1804 730 1804 725 1807.2 720.8 1814.5 719.8 1810.8 717.5 1809 713.5 1809.5 711.5 1812.2 712.2 1816.2 714.5 1818 716.8 1818.2 716.5 1821.5 713.2 1823.5 712.5 1827.5 714.5 1830.2 718 1831.2 716.2 1832 714.2 1834.8 714.2 1837.2 716.8 1840.2 714.8 1842 714 1845.5 711.5 1848.8 712 1852.5 710.5 1854.5 710.5 1858 712 1860 711 1864.5 712.5 1866.8 710.5 1869.2 710.5 1879.2 711.5 1880.8 711.5 1883.2 710.5 1884.8 710.5 2011 818 2011 818 1895.8 817.5 1891 816.2 1888.8 818 1884.5 818 1870.2 815.5 1866 817.2 1863.2 816.5 1859 818 1856.8 818 1848.5 816.5 1846.8 813.8 1846.2 812.8 1843.5 810.5 1841.8 807.5 1841.8 806 1842.8 804.2 1842 807.2 1836.8 813.8 1837.5 816.8 1834.2 816.8 1831.8 814.5 1828.8 815.8 1826.8 815 1822.8 812.8 1821 809.8 1820.8 809.8 1818.5 813 1815 812 1810.8 814.2 1810 816.2 1807.2 816.2 1804.8 814.5 1802.2 815.8 1800 815.8 1797.5ZM745.8 1859.8 745 1863 744.2 1861.2ZM774 1854.2 775 1855.2 773 1856.8 772.2 1855.8ZM809.5 1852.2 809.2 1853.8 807.2 1855ZM741.2 1846 737.5 1846.2 737.2 1845 740 1844ZM784.5 1836.5 784.8 1837.5 783.5 1838.8 783.2 1837.5ZM756.8 1834.2 757.8 1835.2 757 1836 756.2 1835.5ZM795.5 1833 796.2 1831.2 800.2 1832.5 799.5 1833.2ZM768.2 1825.5 771.8 1829.2 773 1834.2 769 1837.8 768 1833.8 765 1831.8 764.2 1828.8 766.2 1828ZM749.8 1823.8 750.8 1824.8 750 1826 749.2 1825.5ZM727.2 1821 727.5 1824.8 721.5 1825.2ZM783 1818.8 783.8 1822 781.2 1822.8 779 1825.8 778 1825.2 776.2 1821 778.8 1820.2 780.5 1818.5ZM734.8 1812.2 734.2 1815.2 730 1816 730.2 1815ZM800.5 1801 800.8 1803.5 804.2 1807 805.2 1810.5 803.5 1815.5 799.8 1817.8 797 1817.5 791 1813 793.5 1812.8 797 1814.5 800.8 1812.5 801.5 1808.5 799.5 1805.8 797.5 1805ZM1117.2 1786.8 1114.8 1787.5 1112.8 1790.2 1112.8 1792.8 1114.5 1795.2 1112.8 1797.8 1112.8 1800.2 1114.8 1803 1118.8 1803.5 1120 1804.8 1119.2 1806 1119 1814.5 1117.5 1811.8 1114.8 1809.8 1115 1805.5 1113 1802.8 1106.2 1802.2 1104 1804 1103.2 1808.2 1104.8 1811.2 1109.2 1814.2 1112.2 1821.5 1111 1822.2 1108.8 1819 1106.2 1818.2 1103.8 1819 1101.8 1821.8 1101.8 1824.2 1105 1827.8 1105.8 1831 1109.8 1833.5 1106.5 1838.5 1106.5 1840.8 1102.5 1845.2 1103.2 1849.8 1106 1851.8 1105 1858.5 1107.2 1861.5 1101.8 1867.5 1103.5 1877.5 1103 1880.5 1101.5 1882.2 1102.2 1893 1101.5 1895.5 1101.5 2011 1137 2011 1133.2 1895.8 1131.8 1895.2 1132.2 1887.2 1131 1885.2 1132.8 1882.8 1133 1875.5 1131 1872.5 1132.5 1870.2 1132.5 1867.8 1131.2 1865.8 1132.2 1864 1131.5 1859.8 1133.2 1857.2 1133.2 1854.8 1128 1849.2 1131.8 1847.2 1132.5 1843.2 1130.5 1840.5 1127.8 1840 1124.2 1837.2 1121 1837.5 1119.2 1835.2 1122.2 1831.8 1122.2 1829.2 1120.2 1826.2 1122.8 1823.2 1125.5 1822.8 1130.2 1815.8 1130 1810 1126.5 1803.8 1127.2 1802.5 1126.5 1798.2 1124.2 1796.5 1121.2 1796.5 1120 1795.2 1121.8 1792.8 1121.8 1790.2 1119.8 1787.5ZM1114.2 1843 1116.5 1843.8 1118.2 1843.2 1123.5 1848.8 1121.2 1851.2 1118.5 1851.8 1116.2 1854.5 1115 1853.5 1115.5 1847.5 1113.5 1844.5ZM324.8 1786.2 320.8 1786.8 318.8 1789.5 318.8 1792 321 1795.2 318.5 1798.2 319.2 1804.5 313.8 1806 311.8 1808.8 311.8 1811.5 309.2 1812.5 308.2 1809 306 1807.2 303 1807.2 300.8 1809 300 1810.5 300.8 1814.5 303 1816.2 306.8 1815.8 307.2 1818.5 304.2 1821.5 300.2 1823.5 299.8 1828.2 296 1828.2 294.5 1829.2 290.5 1828.8 287.2 1832 281.8 1831.2 279.5 1833 278.8 1835.5 276.5 1836.2 274.5 1839 274.5 1841.5 277.2 1844.8 272.5 1850 273.2 1854 272.2 1855.8 272.2 1858.2 275.8 1863.2 275.8 1865 273.5 1868 274 1871.8 272.8 1873.8 274 1885.5 272.8 1887.8 273.5 1893 272.2 1896 271.2 2011 334 2011 334 1895.8 332.2 1895.5 333.8 1893.2 333 1888.8 334 1887.2 334 1883.8 332.5 1881.8 332.8 1878.2 334 1876.8 334 1872.2 332.5 1870.5 334 1868.2 334 1838.8 330.5 1834 331.2 1830.8 333.8 1827.8 333.8 1825.2 330.8 1819.8 326.8 1817.5 326.2 1814 328 1811 328 1808.8 331 1808.5 333.2 1806.8 334 1802.8 332 1800 327.5 1799 326.8 1796.8 329.2 1793.8 329.2 1791.2ZM322 1847.2 323.5 1847.8 322.2 1848.2ZM309.8 1832.8 308 1833.5 306 1836.2 305.8 1840.2 302 1842 301.8 1840.2 305.2 1836.8 305.2 1834.2 303.2 1831.5ZM320 1829.8 322.2 1832.8 320.8 1834.2 317.2 1842.2 316.2 1837.8 318.8 1834.8ZM485.5 1784.8 483.2 1786.5 482.5 1790.5 484.5 1793.2 486.8 1794 487.2 1797.5 486.2 1801.8 488.2 1804.5 492 1805 493.2 1807.8 489.8 1811.2 490 1814.5 488 1815.2 486 1818 486.8 1822 489 1823.8 493 1823.2 495 1820.5 494.8 1817.2 496.8 1816.5 498.8 1813.8 497.8 1809.5 500.8 1807.2 502.2 1809 499.5 1812.2 499.5 1815 496.2 1818.5 496.2 1821 498.2 1823.8 496 1827.8 492.5 1826 489 1827.8 487 1825.2 484.5 1824.5 482 1825.2 480 1828 480 1830.5 482 1833.2 484.5 1834 487.2 1833.2 487.8 1834.2 482.8 1837.2 482 1841.2 483 1843.2 478.8 1848.8 478.8 1852.2 480 1854 478.8 1856 478.8 1858.5 481.5 1862 479.5 1865 479.8 1873 478.8 1874.2 478.8 1878.8 481.2 1881 478.8 1884 478.8 2011 596.2 2011 596.2 1881.2 594.5 1874.5 595.2 1870.2 593.8 1866.2 595.8 1861.5 595.8 1859 594.5 1857 594.8 1853.5 591.8 1850.2 592 1847 594.2 1844 593.5 1838.8 596.2 1836 596.2 1831.5 594.2 1829.5 595.8 1827.2 595.8 1824.8 593 1821.5 593 1819.5 591 1816.8 591 1814 589 1811.2 586 1810.2 589 1809.2 591 1806.5 590 1801.5 587 1798.2 583 1798.8 581 1801.5 582 1806 579.8 1806.2 577.8 1807.8 575.5 1806.2 575.5 1802.5 577.2 1800 577.2 1797.5 575.2 1794.8 571.5 1794 571.5 1792.2 569.5 1789.5 565.5 1789 561 1792.5 560.2 1796.5 562.2 1799.2 564.8 1800 568.2 1799 566.8 1805.5 570.2 1809 570 1813 575 1819 578.5 1819.8 577.8 1821.5 574.5 1821.5 571.8 1824.2 569.8 1818.2 567.8 1815.5 565.2 1814.8 562 1815.8 562 1813.5 564.2 1812.8 566.2 1810 565.5 1806 561.8 1804 558.5 1805.5 554.8 1805 551.8 1808 549.2 1808 548 1805.5 550.8 1805.2 553 1803.5 553.8 1799.5 549.8 1793.2 547.2 1792.5 544.8 1793.2 542.8 1796 542.8 1798.5 545.8 1803.8 542 1804.5 540 1808 537.5 1808.8 535.5 1811.5 535.5 1814 537.5 1816.8 540 1817.5 543.8 1815.8 544.8 1817 544.5 1818.2 542.5 1818.2 540.2 1820 539.5 1821.5 540 1825.2 537.5 1829.2 537.5 1826 534.5 1822.8 535 1819 533.5 1816.8 533.5 1814 531.5 1811.2 526.2 1809 524 1809.5 521.8 1808.8 518.5 1810.2 515 1809.8 512.2 1806 510 1805.2 510.2 1802.5 514.5 1804.8 518.2 1802.8 519 1798.8 517 1796 513.8 1795.5 510.8 1792.5 507.5 1792.8 505.5 1790.5 501 1788.8 497 1789.2 494.8 1792 491.5 1790.2 491.5 1788 489.5 1785.2ZM537.8 1858 540.5 1856.5 542 1858.2ZM570.2 1855.2 570.8 1856.8 567 1860 565.2 1865.2 562.2 1862 562.8 1859.8 567.2 1855.8ZM492 1851.5 495.8 1851.5 495.8 1854.5 494.5 1855.2 492 1853.8ZM507.2 1840.2 509.2 1843.5 508.2 1844.5 505.8 1844ZM567 1835 571 1834.2 572.8 1836.2 575.2 1837 578 1836 578.5 1838.8 571.5 1839.5ZM563.5 1830.2 564.2 1832.5 562.8 1832ZM521.2 1829 520.5 1831.5 520.2 1829.2ZM553 1824.2 552.8 1828.8 548.2 1830 546.8 1826.5 548 1825.2 551.2 1825.5ZM556 1821.8 554 1822.8 554.8 1821.5ZM560.8 1818.2 560.5 1822 556 1821.5ZM520.5 1818 517.5 1823.2 517.5 1825.5 514.2 1825.8 514.2 1822.5 513.2 1820.8 514.2 1819.2 517.8 1818.8 519.5 1817.5ZM499.8 1797.8 502.2 1799.2 500.8 1802.2ZM1494.8 1772.5 1491.8 1772.5 1489.5 1774.2 1488.8 1778.2 1489.8 1780.2 1485.8 1783.2 1484.8 1786.8 1480.5 1785.2 1476.8 1787.2 1476 1791.2 1479.2 1794.8 1478.5 1795.5 1477 1794.5 1474 1794.5 1471 1797.8 1471.8 1801.8 1474 1803.5 1477 1803.5 1479.2 1801.8 1480.8 1802.8 1483.5 1802.8 1482.2 1805.2 1482.8 1809 1480.2 1810 1478 1808.2 1475.2 1808.2 1470 1804.2 1467.8 1803.8 1467.8 1797 1466.5 1795 1466 1790 1463.8 1788.2 1459.8 1788.8 1457.8 1791.5 1457.8 1794 1459 1796 1459 1802.5 1461 1805.2 1463.5 1806 1462.5 1808.5 1459.2 1809 1457.2 1811.8 1457.2 1814.2 1459.5 1817.2 1458 1821 1453.5 1824.2 1452.5 1827.8 1448 1826.5 1443.2 1827 1441 1828.8 1439.2 1832.5 1439.2 1835 1441.2 1838.2 1438.2 1841.5 1438.2 1844 1439.8 1846.2 1438.5 1848.2 1439.2 1852.2 1438.8 1856 1441.2 1859 1439.2 1861.8 1439.8 1865.2 1438.5 1867.2 1439.5 1871.8 1438 1874.8 1438 1892.5 1439.5 1894.2 1442.2 1895.2 1438 1895.8 1438 2011 1504 2011 1504 1895.8 1503.2 1895.5 1502.5 1891.2 1504 1884.5 1504 1878.8 1502.2 1876.8 1504 1874.8 1504 1870.2 1502.8 1868.8 1502.5 1863.5 1504 1861.5 1504 1857.8 1501.2 1852.8 1501.2 1848.2 1504 1845.5 1504 1842 1503 1840.5 1503.8 1834.5 1500.8 1831.2 1500 1826.8 1495.8 1822 1493.2 1821.2 1490.8 1822 1486.2 1817.2 1487.5 1815 1487 1811.2 1489.2 1810.5 1491.2 1807.8 1493.2 1811.2 1490.5 1813.2 1489.8 1817.2 1491.8 1820 1500 1821 1503 1817.8 1502.2 1813.8 1498.5 1811.8 1501.8 1805 1501 1801 1498.8 1799.2 1494.8 1799.8 1491.5 1806.2 1489.8 1803 1491.5 1802.2 1493.5 1799.5 1493.2 1795.8 1495.2 1797.2 1498.2 1797.2 1501.2 1794 1501.2 1791.5 1499.2 1788.8 1495 1788 1496.8 1785.8 1498.2 1786.8 1501.2 1786.8 1504 1784 1503.5 1779.5 1501.2 1777.8 1498 1778 1497 1774.2ZM1480.5 1838.5 1477 1838.8 1479 1837.2ZM1491.8 1830.5 1487.5 1832.5 1485.2 1831 1485.2 1829 1489 1828.2ZM1474.2 1823 1474.8 1824.5 1472.5 1828.5 1470 1828.5 1470 1824ZM1481 1818 1476.2 1819 1475.8 1817.5 1479.2 1816.5ZM1494 1789 1492.2 1791.5 1492.5 1795.2 1489 1793.5 1485.8 1795 1484.5 1794 1486.5 1789.5 1489.5 1790.8ZM930.8 1770.2 927.2 1774.2 925.8 1773.2 922.8 1773.2 919.8 1776.5 920.5 1780.5 924.2 1782.5 921.5 1786.5 922.5 1790.8 921 1793.2 921.8 1797.2 925.5 1799.2 929 1797.5 932.8 1797.8 935.8 1794.5 935.5 1790.8 938.8 1792.2 942 1790.8 941.8 1794.5 942.5 1796 946 1798.2 943 1799.8 939 1799.2 936 1802.2 933 1799.8 929 1800.2 927 1803 927.8 1807 924.2 1810.5 925 1814.5 922.5 1815.2 920.5 1818 921.2 1822 925 1824 925 1826.8 927.2 1829.8 924 1831.8 922.2 1836.8 919.5 1838.8 919.5 1844.2 921.2 1845.8 920.5 1850.8 922.8 1854 926.2 1854.5 929.2 1858.2 927.8 1859.5 925.5 1857.8 922.5 1857.8 919.5 1861 920.2 1869 919.5 1874 920.8 1875.8 919.5 1877.5 919.5 1884 920.5 1887.5 919.5 1895.8 919.5 2011 1014.5 2011 1014.5 1876.5 1012.8 1873.5 1014.5 1870.5 1014.5 1863.8 1013.8 1862.5 1014.2 1848.5 1011.8 1844.8 1013.8 1841.5 1013.8 1839 1011.8 1836.2 1014.5 1831.2 1014.5 1826.8 1013 1825 1010.5 1824.2 1008 1825 1005.5 1827.8 1005.2 1825.2 1003 1820.8 1004.8 1817 1008 1818.5 1011.8 1816.5 1012.5 1812.5 1010 1809 1013.2 1807 1014 1803 1012 1800.2 1009 1799 1006 1799 1004 1800.5 1000.2 1798.8 997.5 1799.8 996.2 1790.8 991.5 1786.5 987.5 1786 984.5 1789.2 985.2 1793.2 988 1795.2 987 1799 983.8 1798 981.2 1798.8 979.2 1801.5 979.2 1804 981.2 1806.8 983.8 1807.5 987.5 1805.5 988.5 1801.8 991.5 1803 995.8 1801.5 995.8 1804.8 998 1807.8 999 1811.8 996 1812 993.8 1813.8 992.8 1810.2 989 1808.2 986.5 1809 984.2 1811.8 981.5 1810.8 979 1806.2 974.8 1805.5 973.8 1796.5 976.2 1795.8 978.2 1793 978.2 1790.5 976.2 1787.8 972.2 1787.2 969.8 1789.2 967.8 1787.8 965.8 1784 963.2 1783.2 959.2 1785.5 956.2 1791 953 1789.8 950.2 1790.8 946.2 1788.5 943 1790 943.2 1786.2 942.5 1784.8 938.8 1782.8 935 1784.8 934.2 1786.2 934.5 1790 931.5 1788.5 932 1784.5 934.2 1783.8 936.2 1781 936.8 1773.5 934.8 1770.8ZM955 1843 956.2 1844 955.8 1846.5 955 1846ZM982 1833.2 983.8 1834.2 984.5 1836 983.2 1837 980.5 1834.5ZM1004.5 1829.8 1002.2 1832 1001.2 1831.2ZM996.8 1829 998.2 1830.5 996.5 1831.2ZM960.2 1823 964.5 1824.5 963.2 1826.5 963.5 1829.5 961 1831.5 959.8 1830 959.2 1827ZM966.8 1823 967.5 1822.2 968.5 1823ZM936.5 1822.2 937.5 1825.5 941 1827.5 938.2 1830.5 935 1830.2 932.8 1831.8 931 1830 934 1826.8 933.2 1823ZM928.8 1816.5 929.8 1816.5 929.2 1817.2ZM936 1805.8 938 1807.8 940.8 1808.2 942.8 1810.5 947 1811.2 942.8 1815 941.8 1818.2 938.8 1818.8 936.5 1814.2 933 1813.5 933.2 1810.2 932.5 1809ZM943.2 1827 945 1825.5 946 1822.2 948 1822.2 950.8 1819.8 954 1819.2 956 1816.5 955.2 1812.5 951.2 1810 953 1807.5 952 1803 956.2 1799.5 963.5 1802.2 960.8 1805.5 960.8 1808 962.8 1810.8 966.8 1811.2 969.8 1808.2 972 1808.2 972.8 1813 976.8 1815.2 978.8 1819.2 982.8 1819.8 986 1816.5 989 1817.8 992.8 1815.8 993 1817.8 995 1820.5 993.8 1823.5 990.2 1821.8 981.2 1826.5 978.5 1825.5 975.5 1826.8 972.5 1826.5 970.5 1824 972.8 1823.8 975 1822 975.8 1820.5 975 1816.5 971.2 1814.5 967.2 1816.8 963.5 1815 959.8 1817 958.8 1821 955.5 1819.5 953 1820.2 951 1823 951.5 1826.5 948.2 1830.2 946.5 1828.2ZM233.5 1764.5 229.5 1765 227.5 1767.8 228.2 1771.8 231.8 1773.8 230.2 1775.5 227.8 1773.5 224.8 1773.5 222.5 1775.2 221.5 1778.5 218.2 1778.2 212 1782.8 209.2 1781.8 205.5 1783.8 204.8 1785.2 205.5 1789.2 212.8 1793.5 214.5 1793.5 215 1797.5 211 1798 209.2 1796.8 205.8 1797 204 1795 201.5 1794.2 198.2 1795.5 196.2 1793 193.8 1792.2 191.2 1793 189.2 1795.8 189.2 1798.2 191.2 1801 193.8 1801.8 197 1800.5 199.2 1804.8 196.5 1806.8 194.5 1806.2 192 1807 190 1809.8 190 1812.2 192 1815 193.2 1821.8 197 1823.8 200 1822.5 201.8 1824.2 204.2 1825 207.8 1823.2 208.8 1827.8 208.2 1831 205.5 1830 203.5 1830.5 197.5 1824.8 191 1825 188.8 1826.8 186.5 1832.5 187.2 1836.5 189.5 1838.2 192.2 1838.2 193.2 1839.8 192.8 1841.8 186.5 1847.2 187.2 1852 186.5 1856 187.5 1857.8 187.2 1860.8 188.5 1862.8 187 1868 187 1876.8 188 1878.8 186.8 1880.8 186.5 1892.5 187.5 1895.2 186.5 1895.8 186.5 2011 267.2 2011 266.2 1896 264.8 1890.2 266 1888.2 265.2 1881.2 266 1872 264.5 1868.2 265.2 1858.8 264.2 1857 265.8 1854.8 265.8 1852.2 264.2 1850 265.5 1843.5 263.5 1838.5 261.8 1837 261.2 1834.2 263.8 1832 264.5 1828 261.5 1824.8 258.5 1824.8 257 1825.8 257.5 1821.5 256.8 1820 254.5 1818.2 252.5 1818 252.8 1816.8 256.2 1816.2 258.2 1813.8 261.2 1813.2 263.2 1810.5 263.2 1808 260.2 1804.8 257.2 1804.8 255 1806.5 254 1803.2 251.8 1801.5 248.8 1801.5 246.5 1803.2 245.8 1807.2 249.2 1810.8 249.2 1812.5 246.5 1812.8 244.2 1814.5 243.5 1818.5 245.5 1821.2 248.5 1822 248.5 1824 250.5 1826.8 253 1827.5 256 1826.8 255.2 1828.2 252.5 1827.8 249.5 1828.8 247 1827.2 247 1824.5 245 1821.8 243.2 1821 242.5 1817.5 236.5 1812 234 1811.2 230.8 1812.8 226.5 1813.2 225.5 1812 225.8 1808.5 223.8 1805.8 221.2 1805 218 1806.5 216.5 1805.8 218.2 1803.2 218 1799.5 220.8 1799.5 223 1797.8 227.2 1798.2 235 1794 237.2 1797 241.2 1797.5 244.2 1794.2 244.2 1791.8 242.2 1789 239.8 1788.2 235.8 1790.5 235.2 1789.8 237.2 1786.8 237.2 1784.2 236 1782 238.2 1780.2 239 1776.2 237 1773.5 234.8 1772.8 236.5 1770.2 236.5 1767.8ZM237.5 1849.5 240 1851.5 240.5 1853.5 236.2 1855.2 233.2 1852.8 233 1851.2ZM226.5 1845.2 228.5 1846 228.5 1849 226 1848.8ZM233.5 1837.5 235.5 1839 233.5 1838.5ZM217 1821.8 218 1821.8 218.8 1825.5 222.5 1827.5 226.2 1825.5 227.2 1821.5 228.8 1821.8 228.8 1825.8 230 1828.8 226.5 1827.5 224 1828.2 218.8 1835 217 1833.8 218 1832ZM211 1811.8 212.5 1814 211.8 1815.5 212.2 1819.5 209 1821.5 207.5 1816.8 210 1814.5ZM210.5 1805.2 212.8 1806.8 210.8 1810.2ZM231.2 1780.8 228 1784 224.5 1785.8 223.8 1789.5 222 1791 218.8 1790.2 220 1787.5 223.5 1785.5 224.5 1782.2 227.8 1782.5 230.5 1780ZM1693.2 1744.2 1689.5 1746.2 1688.8 1750.2 1689.8 1752 1687.5 1752.8 1685.5 1755.5 1686.2 1759.5 1688.5 1761.2 1690.2 1761.2 1692.2 1764.2 1690 1765.2 1687.2 1762.8 1684.2 1762.8 1682 1764.5 1681 1768.5 1676.8 1767.8 1673.8 1771 1674.5 1775 1679.8 1779 1682.5 1780 1681.2 1782 1682 1786 1685.8 1788 1689.2 1786.2 1690 1791 1692.2 1792.8 1695 1792.8 1696 1795.5 1698 1797.2 1696.8 1799.8 1694.5 1798 1690.5 1798.5 1688.5 1801.2 1689.2 1805.2 1685.5 1805.2 1683.2 1807 1682.5 1811 1687 1816.8 1689.8 1817.8 1689 1819.2 1689.5 1823 1687 1824 1684 1819.5 1681.5 1818.8 1679 1819.5 1675.2 1826.5 1675.5 1830 1672.8 1836.8 1672.8 1849.2 1674.5 1855 1674 1859 1672.8 1861 1672.8 1869.5 1673.5 1870.5 1672.8 1878.5 1674 1880 1674 1882.8 1672.8 1884.2 1672.8 1892 1676 1894.8 1675.8 1895.8 1672.8 1895.8 1672.8 2011 1721.2 2011 1721.2 1889.5 1720 1888 1721.2 1886 1721.2 1875 1719.5 1872.2 1721 1865.5 1718.5 1862.2 1720.5 1858 1720 1849 1717 1845.8 1718.8 1841.8 1718.2 1837.8 1721.2 1835.2 1721.2 1830.8 1720 1829.2 1721.2 1827.2 1721.2 1824.8 1718.5 1821.5 1718.8 1818.5 1716.2 1815.5 1720.5 1813 1721.2 1809 1718.2 1805.8 1715.2 1805.8 1711.8 1807.2 1709.8 1810 1709.8 1812.5 1712.2 1815.5 1709.2 1816 1703.8 1808.5 1701.2 1807.8 1698 1808.5 1695.5 1806.5 1697.8 1803 1700 1804.8 1703 1804.8 1705 1803.2 1708 1806.2 1712 1805.8 1714 1803 1714 1800.5 1712.8 1798.2 1716.5 1796.2 1717.2 1792.2 1714.2 1789 1711.2 1789 1709.8 1790 1708 1788.2 1705.5 1787.5 1702.5 1788.8 1698.5 1788.2 1697.5 1785.5 1695.2 1783.8 1692.2 1783.8 1690.2 1785.2 1689.5 1780.5 1685.5 1778.2 1686.8 1776.2 1685.8 1772 1688.5 1771 1691.8 1773.8 1691.2 1777.5 1694.2 1780.8 1697.2 1780.8 1700 1778.2 1704.5 1779 1707.5 1775.8 1706.8 1771.8 1704.5 1770 1701.5 1770 1698.8 1772.5 1696.8 1771.5 1697.2 1767.8 1695.5 1765.2 1698.8 1763.2 1699.2 1758.5 1701.8 1758.2 1704 1756.5 1704.8 1752.5 1702.8 1749.8 1698 1748 1695.8 1745ZM1706 1842.2 1708.8 1842.2 1707.2 1843.2ZM1697.5 1841.8 1694.8 1844.5 1691 1845.2 1688.8 1843.5 1686.8 1840 1684.5 1839.5 1682.5 1837.5 1690.8 1839.5 1693.2 1838.8 1695 1836.8ZM1706.5 1829 1709.2 1829.5 1707.5 1830.2ZM1709.5 1796.8 1706 1798.8 1704.8 1797 1708.5 1795.8Z" fill="#bfbfbf" fill-rule="evenodd"/>
<path d="M1528.8 1788.2 1525.5 1792 1522.2 1792.8 1520 1794.5 1517.5 1800.5 1512.8 1800.5 1509.8 1803.8 1509.8 1806.5 1511.2 1808.8 1509.2 1811.8 1509.2 1814.2 1511 1816.8 1509.8 1818.8 1509.8 1821.2 1511.8 1824 1514 1824.5 1514.2 1825.5 1514 1827.8 1511.5 1828.5 1509.5 1831.2 1510.2 1835.2 1514 1837.2 1511.2 1838.2 1507.8 1842.8 1507.8 1845.2 1510.8 1849 1510.2 1852.8 1507.8 1855.8 1507.8 1858.2 1509.8 1861 1506.8 1863.8 1506.8 1868.2 1507.8 1870.2 1506.8 1872.8 1506.8 1877.2 1509 1883.5 1506.8 1888.2 1506.8 2011 1568.2 2011 1568.2 1895.8 1567.5 1893.5 1568.2 1891.8 1567.5 1883.5 1568.2 1877.2 1566 1874 1568.2 1869.5 1568.2 1861.2 1566.2 1857.2 1568.2 1853.5 1568.2 1851 1566.5 1848.5 1568.2 1846 1568.2 1843.5 1565.2 1840.2 1561 1840.5 1562.5 1837.5 1562.5 1835 1561.2 1833 1562.8 1830.8 1562.8 1828.2 1560.8 1825.5 1557.2 1825 1555.2 1823.5 1557.8 1820.8 1560.8 1823.5 1563.8 1823.5 1568.2 1818.2 1567.5 1814.2 1563.2 1811 1561.5 1807.8 1564 1805.2 1565 1800.8 1567.2 1799 1568 1795 1566 1792.2 1562 1791.8 1559.8 1793.5 1559 1796.2 1556.8 1798 1556 1800.5 1552.8 1801.2 1550.8 1799 1548 1798.5 1544.2 1794.8 1540.2 1795.2 1538.2 1798 1538.2 1800.5 1540 1803.5 1543.2 1805.8 1540.8 1808.8 1540.8 1811.2 1538.5 1812 1537.8 1811.5 1538.5 1810.2 1537.8 1806 1533.8 1803.8 1533 1800.2 1530.8 1798.5 1534 1795.5 1534.8 1791.5 1532.8 1788.8ZM1553.8 1833.8 1553.5 1837.2 1551.5 1840 1551.5 1836.8 1550 1834.5ZM1546.5 1829.8 1546.2 1830.8 1544.8 1830.5ZM1536 1820.2 1538.2 1820 1538.8 1825.5ZM1545.5 1814.5 1549 1817 1548.8 1820.5 1551.8 1823.8 1550 1825.2 1548.8 1825.2 1547.2 1820 1545.2 1817.2ZM1529.2 1810 1532 1813 1531.2 1817 1533.2 1820 1530.8 1820.8 1527.8 1825 1529.5 1817 1527 1814ZM1519.5 1809 1520.8 1812.8 1522.5 1814.2 1518.5 1818 1519.8 1815.2 1518.5 1809.2ZM1030 1788.2 1027.8 1790 1027 1794 1028.8 1796.5 1029.2 1801 1031.5 1802.8 1028.5 1803 1026.5 1804.5 1024 1802.8 1021 1802.8 1018 1806 1018 1808.5 1020 1811.2 1022.5 1812 1026.2 1810.2 1027.8 1812.5 1025 1815.8 1026 1820.2 1023.5 1821 1021.8 1823 1018 1822.5 1015 1825.8 1015.8 1829.8 1018 1831.5 1020.2 1831.5 1021 1834.5 1014.5 1841 1015.5 1850.2 1017.8 1853.2 1017.2 1855.8 1014.5 1859 1014.5 1867.2 1017.8 1873 1014.5 1877.2 1015.2 1886.2 1014.5 1888 1015.2 1895 1014.5 1895.8 1014.5 2011 1101.5 2011 1101.5 1895.8 1100.5 1895.5 1101.5 1890 1100.2 1887.8 1101 1885.8 1100.2 1880 1101.5 1878.2 1101.5 1872.2 1099.2 1869.8 1100 1865.8 1098.8 1863.8 1101.5 1861 1101.5 1854.5 1098.5 1851.2 1094.2 1851.8 1093.8 1849.5 1096 1847.5 1099 1847 1101 1844.2 1101 1840 1099.5 1837.5 1101.2 1835 1101.2 1832.5 1099.2 1829.8 1097 1828.8 1101 1823.8 1101 1821.2 1099 1818.5 1100.8 1815.8 1100.8 1813.2 1098.8 1810.5 1096.2 1809.8 1093.8 1810.5 1090.5 1807.2 1087.2 1807.2 1084 1805.8 1081.2 1806.2 1082.5 1803.5 1082.2 1798.8 1084.2 1798.2 1087.5 1799.8 1091 1798 1093.2 1801 1095.8 1801.8 1099.5 1799.8 1100.2 1795.8 1097.2 1792.5 1094.2 1792.5 1092.2 1794 1089 1790.5 1085.2 1791 1082 1789.5 1078.2 1791.5 1077.5 1793 1078.2 1797 1074.2 1799.2 1072 1796.5 1069.2 1795.5 1069.2 1793.8 1067.2 1791 1063.2 1790.5 1061 1792.2 1060.2 1796.2 1062.2 1799 1065 1800 1065 1802 1062 1799.8 1058 1800.2 1056 1803 1055.8 1805.8 1052.8 1805.8 1050.5 1807.5 1049 1812.5 1046.5 1810.5 1038.2 1809 1038 1807.8 1042.8 1807.2 1045 1803.8 1047.2 1804.5 1049.8 1803.8 1051.8 1801 1051 1797 1047.2 1795 1043.8 1796.8 1040 1796.2 1037.8 1798 1035.8 1794.5 1035.2 1790 1033 1788.2ZM1069 1856.8 1070.5 1857.8 1069 1858ZM1071.5 1843.8 1072.8 1844.5 1072 1845.5ZM1042 1839 1041.2 1843.5 1039.8 1842.5 1040 1840ZM1031.5 1838 1030.8 1840.8 1027.8 1839ZM1054.5 1834.8 1056.2 1834.2 1056.5 1835.8ZM1035 1829 1036.5 1831 1035 1832.5 1034.2 1835.5 1032.8 1836.5 1033 1832.5 1032.2 1831.2ZM1067.2 1828.2 1068 1830.2 1065.8 1834.8 1065.5 1833 1067 1830.8ZM1059 1821 1059.2 1826.2 1058.2 1827.2 1056.5 1825.5 1057.8 1821.5ZM1078 1823 1074.8 1823 1073 1821 1075.5 1820.8 1077.8 1819ZM1093.5 1818.2 1093.2 1819.2 1092.8 1818.8ZM1049.8 1816 1051.8 1817.8 1049.5 1819.5 1049 1817.2ZM1035 1814 1035.5 1817.5 1034.2 1817.2 1033.8 1815.2ZM1080.2 1813.8 1082.5 1815 1085.5 1815 1086.5 1817.5 1085.8 1818 1082.2 1816.2 1080.2 1816.8ZM1065.2 1813 1067.8 1815 1065 1816.5 1064.5 1814ZM1080.2 1807.8 1079.2 1810.5 1076.5 1808.2ZM1073 1807.8 1074 1806.5 1076 1808ZM1065 1806.2 1065.8 1807.5 1064.5 1809.2 1063.2 1808ZM1034.5 1802.8 1035.8 1802.5 1035.5 1803.2ZM1208.5 1787.8 1205.2 1791 1201.8 1791.5 1199.8 1794.2 1200.8 1798.5 1200 1804 1205.2 1809.2 1203.5 1810.8 1202.8 1813.8 1197.5 1813 1192.5 1814 1190.2 1815.8 1189.5 1819.8 1192.5 1823 1201.2 1822.2 1203.5 1820.5 1204.5 1817.2 1208.8 1818 1213.8 1812.8 1216 1813 1215.5 1816.5 1216.5 1818.2 1212.8 1821 1210.2 1819.2 1206.2 1819.8 1204.2 1822.5 1204.2 1825 1206.2 1827.8 1205.2 1829.2 1199.8 1823.2 1195.8 1823.8 1193.5 1826.8 1189.2 1826 1187 1827.8 1186.2 1832.2 1185 1833.8 1185 1838.2 1187.2 1844.2 1185.5 1847 1185.5 1849.5 1188.5 1852.8 1185 1856.8 1185 1860.2 1186.2 1862 1185.5 1866.2 1187.5 1869.8 1185.5 1875.2 1186 1884.5 1185 1889 1185 1893.8 1186.2 1895.2 1185 1895.8 1185 2011 1266 2011 1266 1892.8 1265 1891.2 1265.2 1888.2 1264 1886.2 1264.8 1880.8 1266 1879 1266 1871.2 1263.8 1863.2 1265.2 1860.5 1265.2 1858 1263.8 1855.2 1265.2 1847.2 1263.8 1844.8 1266 1842.2 1266 1837.8 1264.2 1835.8 1265 1831.8 1264 1829.8 1265.2 1827.8 1265.2 1825.2 1263.2 1822.5 1260.5 1821.5 1260.8 1818.5 1257.8 1815 1258.2 1811.5 1260.8 1808.5 1260.8 1806 1258.8 1803.2 1254.5 1801.5 1256 1800 1259 1802.8 1262 1802.8 1264.2 1801 1265 1797 1262 1793.8 1258.5 1794 1257.5 1790 1255.2 1788.2 1252.2 1788.2 1250 1790 1249.2 1793.8 1247.8 1796 1247.8 1798.5 1250.2 1801.5 1248 1804.5 1248 1807 1249.8 1809.5 1249.2 1813.5 1250.5 1816 1248.2 1817.2 1246.2 1815.8 1243.2 1815.5 1245.2 1812.8 1245 1809 1246.8 1806.5 1245.2 1799.8 1243.2 1797 1239.2 1796.5 1236.5 1798 1234.2 1801.5 1232 1801.5 1229.8 1803.2 1227 1803.2 1224.8 1805 1222 1804 1218.5 1805.8 1214.5 1803.5 1211.8 1804.5 1208 1798.2 1209 1796.8 1211.5 1796.8 1213.8 1795 1214.5 1791 1212.5 1788.2ZM1244 1837.5 1244.5 1836.8 1246.2 1838.2 1245 1839ZM1195.8 1835.5 1197.8 1835.2 1198 1836.8ZM1228.8 1831.8 1232 1836.8 1231.2 1837.5 1227.5 1836ZM1238.2 1825 1239.5 1826.8 1238 1829.8 1235 1827.8ZM1220.5 1820 1221.8 1819.8 1226.8 1822 1225 1823.5 1221.8 1822ZM1242 1816 1240.8 1817.8 1240.5 1816.5ZM602.2 1778.8 600 1780.5 599.2 1784.5 604.5 1790.2 602.2 1791.5 600.2 1794.2 601 1798.2 604.8 1800.2 608.8 1798 612 1802.8 616.8 1803.2 616.8 1807 614.5 1809.8 612.8 1809.8 611.8 1807.5 609.5 1805.8 605.5 1806.2 603.5 1809 603.5 1811.5 605.5 1814.2 607.8 1815 605 1817.5 602.2 1815 599.2 1815 596.2 1818.2 596.2 1820.8 598.2 1823.5 602.5 1824.2 600.8 1826.8 600.8 1829.2 602 1831.2 601.2 1835.5 603 1838 602.5 1840 598.5 1842 597.8 1843.5 598.5 1847.8 596.2 1850 596.2 1857.5 597.2 1860 596.5 1864.5 598.2 1868.8 600 1870.2 596.8 1874 597.2 1884 596.2 1887.5 596.2 1892 599 1894.5 598.8 1895.8 596.2 1895.8 596.2 2011 710.5 2011 710.5 1892.2 709.8 1887.8 710.5 1886 710.5 1873.8 709.8 1872.5 710.2 1868.5 707.2 1865.2 709.8 1860.5 709.2 1855.2 707.2 1852.5 703.5 1851.8 705.5 1849 705.8 1843 703.8 1840.2 708 1836 708.2 1829.5 706.2 1826.8 708.2 1824 708.2 1821.5 706.2 1818.8 701.5 1816 704 1815.2 706 1812.5 706 1810 704 1807.2 701.5 1806.5 699 1807.2 697 1810 697.2 1813 695.5 1813 696.5 1808.5 701.5 1802.5 705 1800.8 705.8 1796.8 704.2 1794.5 707.2 1792.5 708 1788.5 705 1785.2 701.8 1785.5 701.5 1783.5 699.5 1780.8 693.8 1778.8 691.2 1779.5 689.2 1782.2 689.5 1785.5 686.8 1788.8 687.5 1792.8 689.8 1794.5 692.8 1794.5 695 1792.8 696 1789.2 698.8 1789 700.5 1793.2 696.8 1796.5 694.2 1795.8 691.8 1796.5 689.8 1799.2 689.8 1802.2 688.5 1804.2 685.2 1801.8 681 1802.5 677.2 1800.5 673.2 1802.5 671.2 1800 667.2 1799.2 667.5 1796.2 665.5 1793.5 663 1792.8 660.5 1793.5 658.5 1796.2 658.8 1799.2 655.8 1802.5 655.8 1805 657 1807 653.2 1807 651 1808.8 650.2 1810.2 651 1814.2 647 1812.5 644.5 1813.2 642.5 1816 642.5 1818.2 640 1818.5 637.8 1820.2 637 1826.8 633.8 1825.5 630 1827.5 629.2 1829 630 1833 632.2 1834.8 634.5 1835 634.5 1837.5 630 1840 625.2 1837.2 626.2 1833 623.2 1829.8 620.2 1829.8 618 1831.5 617.2 1833 617.5 1836.8 614 1836.2 612.8 1833.5 614.8 1830.8 614.8 1827.8 618 1822.5 623.8 1820.8 625.8 1823.2 628.2 1824 632.8 1822.2 634.8 1819.5 634.5 1813.2 636.8 1813 639.8 1814.2 642.2 1813.5 644.2 1810.8 644.2 1808.2 641.2 1805 638 1805 630.8 1802.8 628.5 1799.5 626.2 1799 623.5 1796.8 619.2 1797.5 616 1793.5 612.8 1792.8 613.5 1788.8 611.5 1786 610.8 1782.8 605.2 1778.8ZM619.8 1865.8 620.8 1865.5 620.2 1866.2ZM665.5 1852 662.2 1853.5 663.5 1851.8ZM670.2 1843.8 671.5 1843.5 670.8 1844.5ZM619.5 1838.2 622 1839.2 620.5 1844 618.8 1843.8 619.8 1842ZM675.5 1827.8 681.2 1826.2 687.2 1829 690.8 1827.5 691.2 1829.2 689.5 1833.8 687.8 1833.2 685.2 1834 685 1831.8 683 1829 680.5 1828.2 677.2 1829.8ZM603.5 1823.2 605 1821.5 606.5 1823.2ZM653 1822.8 652.8 1823.5 649.5 1824 647.2 1826.8 645.8 1826.5 646.8 1821.8 648.5 1821.8 650.5 1820.2ZM691.8 1814.2 691.2 1815.8 690.5 1815ZM626.2 1808 627.2 1810 625.5 1812.5 625 1815.2 623.2 1813.2 623.5 1809.2 624.8 1808ZM659 1816.2 662.8 1814.2 663.5 1810.2 662.2 1808 664.5 1806 667.2 1808.8 668 1811.2 670.2 1813 678.5 1811.8 679.5 1816 681.8 1817.8 677.2 1817.8 674.5 1815.2 671.5 1815.2 668.8 1817.5 665 1818 662 1822 659.2 1819ZM840.8 1777.8 838 1780.2 835 1780.8 832.8 1783.8 828.8 1783.2 826.5 1785 825.8 1786.5 826.5 1790.5 823.2 1794 824 1798 826.2 1799.8 830.2 1799.2 832.2 1796.5 831.5 1792.5 835 1788.8 839 1789.2 841.8 1786.8 845.2 1786 848.2 1787.2 851.2 1786 854.2 1789.8 848.8 1793.8 845.5 1794.2 843.5 1796.5 840.5 1793.5 836.5 1794 834.5 1796.8 835.2 1800.8 839 1802.8 841.5 1802 843.5 1799.8 845.5 1802.2 848 1803 850.5 1802.2 852.2 1800.5 854.5 1800.5 857.5 1798.2 855.8 1801.2 855.8 1803.8 857 1805.8 856 1807.8 856.8 1811.8 859 1813.5 862 1813.5 864.2 1811.8 866.2 1808 865.8 1812.2 866.5 1813.8 871 1816.2 867.8 1816.5 865 1818 862.5 1816 855 1816 852.8 1817.8 852 1821.5 850.8 1822.2 848.5 1817.8 851.2 1817.5 853.5 1815.8 854.2 1814.2 853.5 1810.2 851.2 1808.5 848.2 1808.5 846 1810.2 845 1814.2 839.8 1813.5 840.2 1809.5 839.5 1808 835.8 1806 833.2 1806.8 831.2 1809.5 831.2 1812 832.5 1814.5 829 1814.2 827.2 1815.5 825.2 1814 822.2 1814 819.2 1817.2 819.2 1819.8 821.2 1822.5 823.8 1823.2 826.5 1822.8 824.8 1825.2 824.8 1827.8 826.2 1830 822.5 1831 820.2 1832.8 819.5 1836.8 820.5 1838.5 818 1841.2 818 1851 819.2 1853 818 1855.2 818 1857.8 819.2 1859.8 818 1861.2 818 1865.8 820.2 1868 818 1870.8 818 1881 819.8 1882.5 818.2 1885.5 819.8 1892.5 819.2 1895.5 818 1895.8 818 2011 919.5 2011 919.5 1895.8 918.8 1892.8 919.5 1882.5 918.2 1881 918.8 1877 917.5 1874 919.5 1867.8 919.5 1864 916 1861 919.5 1857.2 919.5 1852.8 917.2 1850.2 918.5 1848.2 918.5 1845.8 917.2 1843.8 918 1839.5 916 1836.8 912.2 1836 914.2 1832 917.5 1831.2 919.5 1828.5 918.8 1824.5 912.5 1821 914.5 1818.2 913.5 1814 917 1811.2 917.8 1807.2 915.8 1804.5 911.8 1803.8 913.8 1801 913.8 1798.5 911.8 1795.8 907.8 1795.2 903.5 1798.8 902.8 1802.8 904.5 1805.5 903.2 1807.5 903.2 1810 905.2 1812.8 907 1813.5 905.5 1815.8 906.2 1819.8 909.5 1821.8 906.8 1825.5 903.2 1820.5 900.5 1818.5 899.8 1816 897 1814 897.2 1810.8 895.2 1807.8 899 1805.8 899.8 1801.8 894.5 1796.2 890.5 1795.8 888.5 1797.2 885.8 1797.8 883.5 1800.5 881.2 1799.2 878.2 1799.2 876 1801 875 1804.2 866.8 1808 867.2 1803.8 862.8 1798.5 859 1797.8 861 1795 860.2 1791 858 1789.2 860.5 1786 859.8 1782 856 1780 853 1781.2 849.8 1778 845.2 1778.8 843.8 1777.8ZM864 1846 864 1847.5 861.2 1849.8 860.8 1847.5ZM827.2 1839.2 829.8 1838.5 830.5 1840.5 828.8 1841ZM864.5 1831 869 1826.5 868.8 1830.2 869.5 1831.8 871.8 1833.5 875.5 1833 877.8 1836.5 881.8 1837.8 882.2 1839.8 879 1841.8 875.5 1841.2 873.2 1839.5 870.5 1839.5 869.5 1835.8 866 1834ZM841.5 1824.5 843 1826 841.5 1828 839.8 1828 839.8 1825.2ZM893 1823.5 893 1831 891 1832 890.5 1831.2 891.8 1828.8 891.2 1825.2ZM833.5 1815.2 836.5 1815.8 835.2 1817.5ZM892.8 1807 890.2 1808 888 1811 884.5 1812.8 883.8 1814.2 883.8 1816.8 885 1818.8 884.2 1820.2 877 1820.2 874.8 1822 873.8 1824.5 872.5 1824.2 873.8 1822.2 873.8 1819.8 872.2 1817.5 876.5 1816.8 881.5 1808.5 883.2 1809.5 886.2 1809.5 891 1805.5ZM1734.5 1767.8 1730.8 1769.8 1730 1773.8 1732 1776.5 1735.8 1777.2 1735.8 1779.5 1737.2 1781.8 1735.2 1783.8 1731.5 1781.8 1728.8 1782.8 1724.2 1782 1721.2 1785.2 1722 1789.2 1724.2 1791 1726.5 1791 1727.5 1793.2 1730.2 1795.2 1725.5 1797 1723.5 1799.8 1724.2 1803.8 1727 1805.8 1724.8 1807.5 1724 1811.5 1726 1814.2 1728.5 1815 1724 1817.2 1723.2 1819.8 1721.2 1821.8 1721.2 1826.2 1723.8 1828.5 1730.8 1828.8 1736.8 1833.5 1732.8 1834.5 1730.5 1831.8 1728 1831 1725.5 1831.8 1722 1835.8 1722 1838.2 1724.8 1842.2 1721.8 1844.2 1721.2 1848.8 1726.8 1854.5 1723.2 1855.2 1721.2 1858 1721.8 1864.8 1723 1866.8 1723 1870.8 1721.2 1872.2 1721.2 2011 1768 2011 1768 1895.8 1766.8 1889.5 1768 1887.2 1768 1883.8 1766.2 1877.5 1767.2 1875.8 1766.5 1871.8 1767.8 1869.8 1768 1856.8 1766 1853.2 1766.2 1842.2 1765.5 1840.5 1767.8 1837.5 1767 1829.8 1766 1828 1766.5 1824 1764.5 1821.2 1760.5 1820.8 1757.5 1824 1758.5 1828.5 1753.5 1828.2 1753.2 1825.2 1755.2 1824.5 1757.2 1821.8 1757.2 1819.2 1755.8 1817 1757.5 1814.5 1756.8 1810.5 1751.2 1804.2 1748 1803.5 1748 1801 1746 1798.2 1742 1797.8 1739.5 1800 1737.2 1796.5 1734.8 1795.8 1733 1796.2 1731.2 1795.2 1734 1794.2 1737 1795.2 1739.5 1794.5 1744 1787.2 1744 1784.8 1742.5 1782.5 1744 1781 1748.2 1781.5 1751.2 1778.2 1750.5 1774.2 1747 1772.5 1745 1770.2 1742.5 1769.5 1739 1771 1737 1768.5ZM1748.8 1843.5 1750.5 1845 1749.2 1847.5 1748.2 1847.8ZM1747.5 1813.8 1750 1816.8 1748.2 1819.2 1748.2 1821.8 1745 1823.8 1744.2 1827 1743 1827.2 1737.8 1823 1740.5 1823.5 1743 1822.8 1746.5 1818ZM1742 1806.8 1740 1807.5 1738 1810 1735.8 1806.8 1733.2 1806 1731.2 1806.5 1729.5 1805.5 1732 1804.2 1736.2 1805 1738.8 1802.8 1739.8 1805ZM1349.5 1771.8 1346.5 1775 1346.5 1777.5 1348.2 1780 1347.8 1783.8 1350.8 1787 1355 1786.8 1354.2 1790.5 1355.8 1792.8 1355 1796.5 1353.2 1795.2 1350.2 1795.2 1347.2 1798.5 1347.5 1801.5 1346.2 1803.2 1346.2 1806.8 1348 1809 1351.5 1810.5 1349 1811.2 1347 1814 1348 1818.5 1346.2 1821 1346.2 1823.5 1349.2 1826.8 1353.5 1826 1357.5 1828.5 1354.2 1830.8 1353.5 1834.8 1349.8 1838.8 1349.2 1843.2 1347 1846.2 1347 1848.8 1348.2 1850.8 1348.2 1858.8 1346.2 1861.5 1347.2 1870 1349.5 1874 1346.2 1878.8 1346.2 2011 1435.8 2011 1435.8 1895.8 1434.8 1895.5 1434.5 1893.5 1435.8 1891.5 1435.8 1886.8 1434 1883.5 1435.8 1881 1435.8 1876.5 1433.8 1865.2 1434 1861.2 1435.8 1859 1435 1854.2 1435.8 1849.2 1434 1847 1432.8 1841.5 1429 1839.5 1429.5 1837 1433.8 1831 1433.8 1828.5 1432.2 1826.2 1434.5 1824.5 1435.2 1820.5 1432.8 1817.5 1435.8 1815 1435.8 1810.5 1433.2 1808.2 1430.2 1808.2 1428.5 1809.5 1424.5 1806.2 1421.5 1806.2 1418.5 1809.5 1419.2 1813.5 1422.8 1816.2 1425.8 1816.2 1427.5 1815 1429.8 1817 1426.2 1820.2 1423.2 1817.8 1420.2 1817.8 1418 1819.5 1417 1822 1414.5 1818.5 1411.2 1817.8 1414 1816.5 1416 1813.8 1416 1811.2 1413.5 1808.2 1417.2 1807.5 1419.2 1804.8 1418.5 1800.8 1413.5 1797.2 1413 1795.8 1421 1794.5 1422.8 1796.8 1422 1798 1422.8 1802.2 1425 1804 1428 1804 1431 1800.8 1431 1798.2 1429.2 1795.8 1430 1791.8 1427.2 1787 1425 1785.2 1415 1786.8 1408.2 1785.5 1405.2 1788.8 1405.5 1792 1404.8 1792.5 1401.8 1791.2 1399.2 1792 1397.2 1794.8 1397.2 1797.2 1399.2 1800 1404 1801.5 1406.2 1804.5 1410.5 1805.8 1412.8 1807.8 1410 1808 1405.2 1810.5 1405.5 1806.5 1404.8 1805 1401 1803 1397.2 1805 1395.8 1812 1394.5 1812.8 1390.8 1810.8 1388.2 1811.5 1386.2 1807.8 1389.5 1807 1391.5 1803.5 1394.5 1801.5 1395.2 1797.5 1393.2 1794.8 1390.8 1794 1388.2 1794.8 1386.2 1798.2 1384.8 1798.5 1385.2 1795 1383.8 1792.8 1385.5 1792 1387.5 1789.2 1387.5 1786.8 1385.2 1783.8 1386 1779.8 1384 1777 1386.5 1773.8 1386.5 1771.2 1383.5 1768 1379.5 1768.5 1377.5 1771.2 1377.5 1773.8 1379.5 1776.8 1377 1779.8 1377 1782.2 1378.8 1785 1377.5 1786.5 1375.5 1784 1373 1783.2 1369.2 1785.2 1368.5 1789.2 1369.8 1791.2 1367 1794.5 1367 1797 1369 1799.8 1373 1800.5 1372.5 1804.2 1374.5 1807 1377 1807.8 1379.5 1807 1380.5 1808 1379 1810.2 1379 1812.8 1382.2 1816.2 1382.2 1817.8 1379.8 1818.5 1377.2 1822.8 1375.2 1821.2 1372.2 1821.2 1368.5 1824.2 1366 1822.2 1362.5 1822.5 1358.8 1819 1361 1817 1361.8 1813 1359.8 1810.2 1356.2 1809.5 1357.5 1808.2 1361.8 1809 1364.8 1805.8 1365.2 1801.2 1363 1798.2 1364.2 1796.2 1364.2 1793.8 1362.8 1791.5 1363.2 1788 1360.2 1784.8 1356 1785 1356.8 1781.2 1355 1778.8 1355.5 1775 1353.5 1772.2ZM1407.8 1856.5 1410 1858 1409.2 1858.2ZM1365 1850.8 1364.8 1852 1363.8 1851ZM1395.2 1840.8 1391.8 1844 1390.5 1843 1394 1840.5ZM1372.5 1837.5 1373 1836.5 1374 1836.8ZM1376.2 1829.8 1377 1829.2 1379 1830.8 1381.2 1830.8 1384.2 1833.8 1381.5 1836.2 1376 1835.2 1376.8 1833.2ZM1399.5 1821.2 1399.8 1824 1398.5 1824.2 1397.8 1822.8ZM1387 1821 1389.2 1823.2 1388.5 1825.2 1386.5 1824.2ZM1356.5 1798.2 1357.5 1799.2 1356.5 1800.8ZM1376 1797.2 1376.2 1798.5 1375.5 1798.2ZM1377.2 1790 1378.8 1792 1376.2 1794.8 1374.8 1792.5ZM1825.8 1764.2 1822 1766.2 1821.2 1767.8 1822 1771.8 1819.2 1774.2 1815.8 1775.2 1814 1773.5 1811.5 1772.8 1809 1773.5 1807 1776.2 1807 1778.8 1809 1781.5 1811.5 1782.2 1814.5 1781 1818.5 1783.5 1817.5 1785.2 1817.5 1787.8 1819.5 1792 1818.5 1795.5 1816 1794 1813.5 1794 1813.5 1791 1810.5 1787.8 1806.5 1788.2 1804.5 1791 1805.2 1795 1807.5 1796.8 1810.2 1797 1809.8 1798.5 1806.8 1798.5 1804.5 1800.2 1803.8 1804.2 1805.8 1807 1808.2 1807.8 1810.8 1807 1812.8 1803.2 1814 1803.2 1813.2 1806.5 1811.2 1809.2 1811.2 1811.8 1814.2 1815 1813 1819.2 1811 1820.8 1805.2 1821.8 1803.2 1824.5 1803.2 1827 1805.5 1830 1804.8 1834 1805.8 1835.8 1804.5 1838 1805.2 1842.2 1803.5 1844.8 1803.5 1849 1805.5 1851.8 1807.2 1852.5 1803.2 1856.8 1803.2 1862.8 1806.2 1867 1806.5 1869.8 1805 1871.2 1803.2 1876.2 1803.2 1883 1804 1884.2 1803.2 1890 1803.2 2011 1848 2011 1848 1886.8 1845.8 1885 1845.2 1883 1847.2 1879.2 1846.8 1873.5 1848 1871.8 1847.8 1864.2 1845.5 1861.2 1847.5 1858.5 1846.8 1854.5 1848 1853 1848 1848.5 1844.5 1844.5 1844 1835.8 1846.2 1833.8 1847 1829.8 1844 1826.5 1841 1826.5 1839.5 1827.5 1838.8 1826.5 1844.8 1824.8 1846.8 1822 1846 1818 1842.2 1815.8 1845.5 1813.8 1846.2 1809.8 1844.2 1807 1841.8 1806.2 1839.2 1807 1837 1810.2 1834.5 1809.5 1830.2 1810 1827 1806.5 1824 1806.5 1822.5 1807.5 1821.5 1803.2 1818.2 1801.2 1819.2 1797.8 1821.5 1799.5 1823.2 1799.5 1825.8 1803.8 1828.2 1804.5 1830.8 1803.8 1832.8 1801 1832.8 1798.5 1834 1796.5 1833.8 1793.5 1835.8 1790.8 1835.8 1788.2 1833.8 1785.5 1829.8 1785 1827 1787 1825.8 1783.8 1822.2 1781.8 1827.2 1779 1828 1777.5 1827.2 1773.5 1830.2 1770.2 1829.5 1766.2ZM1824 1841.5 1826.2 1841.2 1828.8 1842.5 1824.2 1842.8ZM1834.5 1836.2 1835 1839.2 1832.5 1840.2 1833 1837ZM1812.2 1829.2 1813.2 1828 1816 1828 1816.5 1828.8 1813.5 1830.2ZM1832.5 1819 1833.8 1820.2 1833.8 1822.5 1831.5 1822.8 1829.2 1824.5 1827.8 1832.5 1825.5 1832.2 1827.5 1829 1827.5 1826.5 1825.5 1823.8 1822.5 1822 1826.2 1822 1829.2 1819ZM1820.8 1809.5 1821.2 1814.5 1819.5 1813.2ZM351 1763.2 349 1766 349 1768.2 346.8 1770 346 1772.5 343.5 1773.2 341.5 1776 341.8 1779.2 338.2 1786 339.2 1791.2 335.5 1792.5 334 1794.2 334 1798.8 335.2 1800.2 334 1802.2 334 1805.8 336.2 1808.2 337 1812 340.8 1814 344.5 1812 345.8 1813 343.5 1813.8 341.2 1816.5 339 1815.8 336.5 1816.5 334.5 1819.2 334.5 1821.8 337 1824.8 337.2 1828 335.8 1830.5 335.5 1835.5 337.5 1838.2 340.2 1839.2 334 1851.2 334 1853.8 335.8 1857.5 334 1860.2 334 1862.8 338.2 1871.8 334 1875.5 334 1893.2 334.8 1894.8 334 1895.8 334 2011 478.8 2011 478.8 1892 478.2 1887.2 476.8 1884.2 478.8 1881.5 478.2 1873 476.8 1870.8 476.2 1865.2 477 1858.2 475.8 1856.2 477.5 1852 477.5 1849.2 475.5 1846.5 477 1844 477 1841.5 475 1838.8 477.2 1838 478.8 1836.2 478.8 1831.8 477.5 1830.2 478.5 1828.5 477.8 1824.5 474 1822.5 470.2 1824.5 469.5 1828.5 471.2 1831 470.5 1832 468 1830 468 1828 466 1825.2 463.5 1824.5 461.8 1825 459.8 1822.8 457.8 1822.2 455 1818.8 457.8 1817.8 459.8 1819.2 462.8 1819.2 465.8 1816 465 1812 461.2 1810 458.2 1811.2 456.2 1809.8 453.2 1809.8 450 1813 446.2 1813.5 444.2 1816.2 444.2 1818.2 442.5 1819 438 1816.2 433.8 1817 430 1815 423.8 1817.2 423.2 1816.8 428 1811.2 427.2 1807.2 422.2 1801.8 419.2 1801.8 417 1803.5 415.5 1803 417.2 1800.5 416.8 1797 419.8 1793.8 419.5 1790.8 422.8 1790 424.8 1787.2 424.8 1784.8 422.8 1782 418.8 1781.5 415.8 1784.8 416 1787.8 412.8 1788.5 410.8 1791.2 411.2 1794.8 409 1796.5 408.2 1800.5 410.2 1803.2 412.2 1804 410.5 1806.8 407.8 1807.8 405.8 1810.5 405.8 1813 410.2 1817.5 410.8 1820.8 408.8 1823.8 408.8 1826.2 410.2 1828.5 409.2 1830.2 410 1834.2 408 1837 406.2 1835.8 408 1833.2 407.2 1826.8 405 1823.8 406.5 1821.5 405.8 1817.5 403.5 1815.8 400.5 1815.8 398.2 1817.5 397.5 1820.8 395.5 1821.8 392.5 1819.5 390 1819.5 391 1817 390.5 1811 387.5 1807.8 383 1808.2 382.2 1806.8 383.2 1804.5 382.5 1800.2 378 1795.8 375 1795.8 372.2 1797.2 373.2 1794.5 377.2 1794 379.2 1791.2 379.2 1788.8 377.2 1786 373.2 1785.5 370.8 1787.5 367.8 1784.5 363.8 1785 359.2 1792 359.5 1795.2 358.2 1797.2 355.8 1795.8 352.8 1795.8 349.8 1799 350.5 1803 354.2 1805 352.5 1808.2 351.5 1806 349 1804 348.2 1801 344.5 1799 345 1797.2 350.8 1791.5 350.8 1789 348.2 1786 349.2 1784 349 1780.8 350.5 1777.5 354.2 1775.5 355 1771.8 358 1768.5 358 1766 356 1763.2 353.5 1762.5ZM353.2 1845.5 354.8 1843.8 358.8 1845.8 362.2 1844 363.2 1848.5 360.5 1851.5 359.5 1851.2 357.5 1848.8 355.2 1848.2ZM409 1842 409.5 1841.2 410.2 1842ZM375.2 1837 376 1840.2 375 1841.5 372.8 1839.2ZM437.5 1835.5 439.5 1832.8 439 1829.5 441.2 1829.2 440.8 1833.5 441.5 1835 443.8 1836.8 447.8 1837 450.8 1833.8 450.2 1830 453 1829 455.8 1831.2 457.8 1834.5 460.2 1835.2 462 1834.8 463 1837.5 465.2 1839.2 468.2 1839.2 471 1836.8 472.2 1838 470 1838.8 468 1842.5 463.5 1845.5 462.8 1840.8 459 1836.8 450.8 1836.8 447 1840 446 1842.2 443.8 1842.2 441.5 1840.5 437.8 1840.5 438.2 1836.8ZM392 1828.8 393.5 1828 395.8 1830.2 392 1830.8ZM370.2 1828 369.5 1830.2 365.5 1832.2 364.8 1833.8 365.2 1837.5 363.5 1839.5 361.2 1837 357.5 1836 356 1832.8 359 1830.2 363.2 1831 366 1828.5ZM433.5 1825.8 434.8 1825 436.5 1826.8 434.2 1827ZM420.2 1824.5 423 1827.2 425.2 1828 426.2 1832.5 423.8 1832.2 423.8 1829.8ZM381.2 1813.2 381.8 1814.2 380.5 1816.2 380.5 1820.5 382.5 1823.2 386 1824 380.5 1829.2 379.8 1833 378 1833.5 379.5 1826.5 377 1823.5 376.5 1819 374 1817 377.8 1816.2ZM348 1813.5 350.2 1812.8 352.2 1810 353.2 1812.2 355.8 1814.2 351.5 1813.5 349 1814.2ZM361.5 1810.2 363.5 1803 364.8 1802.8 368.8 1805 372.5 1803 373.5 1803.8 373.5 1806 370.5 1806.8 365 1812.5ZM1660.2 1761.2 1657.8 1762 1655.8 1764.5 1653 1762.2 1649 1762.8 1647 1765.5 1647.8 1770 1644.8 1770 1642.2 1772 1639 1772 1636 1775.2 1636.8 1779.2 1639 1781 1642 1781.2 1641 1785.5 1643 1788.2 1647 1788.8 1649.2 1787 1652.2 1788.2 1650 1791.2 1650 1793.8 1652 1796.5 1654.8 1797.5 1652.8 1800.2 1652.2 1807 1655.2 1810.2 1653.2 1813 1653.2 1815 1650.8 1813.5 1647.8 1813.5 1644.5 1817 1640 1812.2 1636 1812 1633.8 1813.8 1633.2 1812.5 1634.2 1811.5 1636.2 1811.5 1638.5 1809.8 1639.2 1805.8 1634.8 1799 1631 1797 1628.5 1797.8 1625.8 1801.8 1626.8 1811.2 1623.2 1814 1622 1816.5 1622 1819.2 1625 1822.5 1629 1822 1633 1818 1634.2 1820.2 1634 1822.2 1630.5 1824.2 1629.5 1828.5 1626.5 1827.2 1622.8 1829.2 1622 1833.2 1624.8 1836.5 1624 1839 1619.5 1842.8 1619.8 1847.8 1624.8 1852.5 1622.2 1853.2 1620.2 1856 1621 1860 1623.5 1862 1622.5 1866.2 1624.5 1869 1621.5 1872.2 1621.2 1885.8 1619.5 1891 1619.5 2011 1672.8 2011 1672.8 1882 1670.8 1878.5 1672.8 1875.2 1672.8 1872.8 1670.8 1870 1671 1865 1667.5 1861.5 1671.2 1858.5 1672.5 1855.8 1671.8 1851.5 1672.5 1848.5 1672.5 1832.5 1668.5 1825.5 1671 1823.5 1671.8 1819.5 1668.8 1816.2 1665.8 1816.2 1663.5 1818 1665.2 1814.8 1665.2 1812.2 1663.2 1809.5 1660.5 1808.5 1661.8 1802.5 1665 1803.5 1667.5 1802.8 1669.5 1800 1669.5 1797.8 1672 1794.8 1671.2 1790.8 1669 1789 1672.2 1785.5 1672.2 1783 1670.2 1780.2 1672.2 1777.5 1672.2 1775 1670.2 1772.2 1666.8 1771.5 1668.2 1769.2 1667.5 1765.2ZM1647 1848.2 1644.2 1850.5 1641.2 1849.5 1638.8 1850.2 1636.8 1853 1636.8 1855.2 1634.8 1855 1636.2 1851 1639 1847.2 1643.5 1846.5ZM1639.2 1829.8 1639.5 1832.2 1641.2 1834.8 1638.5 1836.8 1636.2 1841 1635 1841.2 1634.2 1839.2 1634.8 1835.2 1632.8 1832.5 1631 1831.8 1631 1830.8 1634.2 1831.8ZM1655 1825.8 1662.2 1826.2 1661.2 1828 1661 1833.2 1664 1836.5 1663.5 1838 1661 1838.8 1654.5 1836.8 1656.8 1835 1658 1832.2 1658 1829.5ZM1659.2 1794.5 1661.2 1796 1660.2 1798 1657 1796.5ZM1650 1771.2 1652 1771.2 1653 1773.5 1655.2 1775.2 1658.2 1775.2 1660.2 1773.8 1663.8 1774.2 1663.2 1777.5 1665.2 1780.2 1663.8 1781.8 1661.5 1781.8 1659.2 1783.5 1658.2 1788 1655.5 1787 1656.8 1784.8 1656.8 1782.2 1654.8 1779.5 1652.2 1778.8 1648.5 1780.8 1647.5 1780 1650.8 1775.8ZM1899 1747.2 1896.5 1748 1894.5 1750.8 1895.2 1754.8 1898 1756.8 1897 1760.8 1894.5 1761 1892.2 1762.8 1891.5 1764.2 1892.2 1768.2 1889.5 1769.2 1886.2 1772 1885.5 1776 1882.5 1779.2 1883.2 1783.2 1887 1785.2 1885.2 1786 1883.2 1788.8 1882 1796 1884 1800.8 1880 1805.8 1880 1808.2 1882 1811 1881.5 1814.5 1882.2 1816 1884.5 1817.8 1887.5 1817.8 1889.2 1816.5 1889.8 1817.2 1887 1819.2 1885.8 1824.2 1882.5 1824.5 1879.8 1827.2 1879.8 1830.8 1881.2 1832.8 1881.2 1835.2 1884.2 1838.5 1883.8 1842.2 1884.8 1844 1884 1846.2 1881 1848.5 1879.8 1852 1881.2 1862.8 1879.8 1864.8 1879.8 1869.2 1881 1870.8 1880 1875.2 1881.5 1877.5 1879.8 1881.2 1879.8 1891.2 1880.8 1892.8 1879.8 1895.8 1879.8 2011 1909 2011 1909 1880.8 1908 1875.2 1909 1873.5 1909 1868.2 1907.5 1866.2 1909 1864.2 1909 1860.8 1907 1858 1908.5 1855.2 1909 1848 1907 1845.2 1903 1844.5 1905.5 1841.2 1905.2 1837.8 1908.2 1834.5 1908.2 1832 1906.5 1829.5 1908 1827.2 1908 1824.8 1906 1822 1909 1819 1909 1815 1907 1812.2 1901.5 1809.8 1899 1810.5 1896.8 1813.8 1894.2 1813 1894 1810 1895.2 1808 1895.2 1805.8 1897.2 1803.8 1898.2 1807.5 1900.5 1809.2 1904.5 1808.8 1906.5 1806 1906.5 1803.5 1904.5 1800.8 1900.5 1800.2 1898 1802.5 1897.2 1799.2 1899.2 1795.5 1898.5 1791.2 1901.5 1792 1904 1791.2 1906 1788.5 1905.2 1784.5 1903 1782.8 1899 1783.2 1897 1786 1897.5 1790.2 1892.5 1788.8 1890.2 1786 1887.8 1785.2 1890 1784 1894.2 1784.8 1900.5 1779.2 1902.2 1779.8 1904.8 1779 1906.8 1776.2 1906.8 1773.8 1904.8 1771 1900.8 1770.5 1897.8 1773.5 1896.5 1773 1895.8 1770.8 1898.5 1769.5 1900.5 1767.2 1904.5 1766.8 1906.5 1764 1906 1758.5 1902.5 1755 1903.5 1750.8 1901.5 1748ZM1896.8 1827.5 1894 1829.8 1893.2 1833.2 1890.5 1835 1888.5 1828.2 1893.8 1828 1895.2 1827Z" fill="#0072b2" fill-rule="evenodd"/>
<g fill="#bebebe" fill-opacity=".67" stroke="#bebebe" stroke-opacity=".67" stroke-width="1.7"><circle cx="202.3" cy="1850.7" r="4"/><circle cx="200.1" cy="1712.2" r="4"/><circle cx="229" cy="1854.5" r="4"/><circle cx="193.6" cy="1796.9" r="4"/><circle cx="214.1" cy="1789" r="4"/><circle cx="243.5" cy="1747" r="4"/><circle cx="260.3" cy="1865.7" r="4"/><circle cx="191.4" cy="1875.5" r="4"/><circle cx="205.9" cy="1807.6" r="4"/><circle cx="215.8" cy="1838.4" r="4"/><circle cx="212.6" cy="1824.4" r="4"/><circle cx="230.9" cy="1791.4" r="4"/><circle cx="261.4" cy="1887.1" r="4"/><circle cx="201.6" cy="1775.7" r="4"/><circle cx="219.7" cy="1782.8" r="4"/><circle cx="246.2" cy="1832.1" r="4"/><circle cx="261.1" cy="1883.1" r="4"/><circle cx="221.3" cy="1711.3" r="4"/><circle cx="247.6" cy="1754.3" r="4"/><circle cx="244.6" cy="1850.9" r="4"/><circle cx="204.9" cy="1812.9" r="4"/><circle cx="261" cy="1894.1" r="4"/><circle cx="210.9" cy="1854" r="4"/><circle cx="261" cy="1884" r="4"/><circle cx="213.8" cy="1802.1" r="4"/><circle cx="190.8" cy="1849" r="4"/><circle cx="195.9" cy="1829.2" r="4"/><circle cx="191.2" cy="1882.1" r="4"/><circle cx="258.8" cy="1809.1" r="4"/><circle cx="192.5" cy="1829.4" r="4"/><circle cx="201.6" cy="1799.1" r="4"/><circle cx="254.7" cy="1782.7" r="4"/><circle cx="214.3" cy="1767.4" r="4"/><circle cx="197.6" cy="1841.5" r="4"/><circle cx="232" cy="1769" r="4"/><circle cx="191.6" cy="1883.1" r="4"/><circle cx="239.8" cy="1793" r="4"/><circle cx="203.1" cy="1802.1" r="4"/><circle cx="193" cy="1863.1" r="4"/><circle cx="260" cy="1829.3" r="4"/><circle cx="191.1" cy="1833.6" r="4"/><circle cx="241.2" cy="1846.7" r="4"/><circle cx="213" cy="1824.3" r="4"/><circle cx="226.3" cy="1777.9" r="4"/><circle cx="242.4" cy="1825.9" r="4"/><circle cx="259.9" cy="1849.3" r="4"/><circle cx="228.8" cy="1853.6" r="4"/><circle cx="237.5" cy="1818.9" r="4"/><circle cx="191.8" cy="1859.4" r="4"/><circle cx="237.2" cy="1834" r="4"/><circle cx="233.3" cy="1824.5" r="4"/><circle cx="215.4" cy="1810.5" r="4"/><circle cx="191.4" cy="1869.6" r="4"/><circle cx="209.2" cy="1786.4" r="4"/><circle cx="223.4" cy="1835.7" r="4"/><circle cx="226.4" cy="1832.2" r="4"/><circle cx="252.9" cy="1822.8" r="4"/><circle cx="197.2" cy="1830.4" r="4"/><circle cx="261" cy="1879.1" r="4"/><circle cx="191.6" cy="1893" r="4"/><circle cx="232.6" cy="1785.5" r="4"/><circle cx="230.5" cy="1806.1" r="4"/><circle cx="226.8" cy="1832.6" r="4"/><circle cx="198.6" cy="1786" r="4"/><circle cx="213" cy="1829.4" r="4"/><circle cx="261.2" cy="1875.3" r="4"/><circle cx="225.8" cy="1793.8" r="4"/><circle cx="190.9" cy="1890.8" r="4"/><circle cx="222.4" cy="1822.7" r="4"/><circle cx="260.5" cy="1870.6" r="4"/><circle cx="194.6" cy="1811.1" r="4"/><circle cx="204.5" cy="1757.3" r="4"/><circle cx="191.4" cy="1886.3" r="4"/><circle cx="204.2" cy="1820.3" r="4"/><circle cx="233" cy="1846.5" r="4"/><circle cx="221.8" cy="1846.8" r="4"/><circle cx="212" cy="1787.6" r="4"/><circle cx="260.9" cy="1864.3" r="4"/><circle cx="196.4" cy="1815.1" r="4"/><circle cx="190.5" cy="1890" r="4"/><circle cx="250.4" cy="1806" r="4"/><circle cx="200.2" cy="1809.5" r="4"/><circle cx="261.3" cy="1853.4" r="4"/><circle cx="261.6" cy="1873.4" r="4"/><circle cx="191.1" cy="1854.7" r="4"/><circle cx="253.8" cy="1812.2" r="4"/><circle cx="193.5" cy="1846.5" r="4"/><circle cx="257.3" cy="1836.6" r="4"/><circle cx="229.4" cy="1835.2" r="4"/><circle cx="195.8" cy="1776.6" r="4"/><circle cx="259.7" cy="1841.3" r="4"/><circle cx="191.7" cy="1873.3" r="4"/><circle cx="245.6" cy="1756.4" r="4"/><circle cx="260.9" cy="1844.6" r="4"/><circle cx="207.7" cy="1801.2" r="4"/><circle cx="234.5" cy="1829.8" r="4"/><circle cx="216" cy="1785.4" r="4"/><circle cx="240.9" cy="1764.4" r="4"/><circle cx="248" cy="1817.1" r="4"/><circle cx="237.8" cy="1834.4" r="4"/><circle cx="231.5" cy="1857.2" r="4"/><circle cx="196.7" cy="1836.7" r="4"/><circle cx="213.4" cy="1830.7" r="4"/><circle cx="228.2" cy="1788.5" r="4"/><circle cx="238.7" cy="1820.1" r="4"/><circle cx="234.6" cy="1777.6" r="4"/><circle cx="241.2" cy="1858.2" r="4"/><circle cx="260.6" cy="1860" r="4"/><circle cx="216.3" cy="1816.9" r="4"/><circle cx="231.7" cy="1842.8" r="4"/><circle cx="221.3" cy="1809.8" r="4"/><circle cx="234" cy="1816" r="4"/><circle cx="260.5" cy="1892" r="4"/><circle cx="206.2" cy="1811.7" r="4"/><circle cx="212" cy="1716.9" r="4"/><circle cx="192.1" cy="1865.7" r="4"/><circle cx="222" cy="1815.1" r="4"/><circle cx="219.1" cy="1795" r="4"/><circle cx="196.9" cy="1819.1" r="4"/><circle cx="308.7" cy="1823" r="4"/><circle cx="293.4" cy="1820.7" r="4"/><circle cx="277.7" cy="1891.3" r="4"/><circle cx="292.6" cy="1846.3" r="4"/><circle cx="283.2" cy="1835.9" r="4"/><circle cx="310.6" cy="1837.6" r="4"/><circle cx="279.1" cy="1840.3" r="4"/><circle cx="324.8" cy="1792.6" r="4"/><circle cx="312.7" cy="1746.7" r="4"/><circle cx="277.4" cy="1813.1" r="4"/><circle cx="330" cy="1874.6" r="4"/><circle cx="303.9" cy="1826.3" r="4"/><circle cx="329.6" cy="1861" r="4"/><circle cx="322.2" cy="1816.3" r="4"/><circle cx="276.9" cy="1857" r="4"/><circle cx="277.7" cy="1882.6" r="4"/><circle cx="311.2" cy="1786.1" r="4"/><circle cx="300.6" cy="1835.6" r="4"/><circle cx="304.6" cy="1811.8" r="4"/><circle cx="329.6" cy="1845.3" r="4"/><circle cx="292.1" cy="1818.6" r="4"/><circle cx="323.5" cy="1809.8" r="4"/><circle cx="302.3" cy="1847.2" r="4"/><circle cx="277.9" cy="1869.2" r="4"/><circle cx="316.5" cy="1769.5" r="4"/><circle cx="283.2" cy="1774.7" r="4"/><circle cx="278" cy="1887.7" r="4"/><circle cx="322.5" cy="1841.2" r="4"/><circle cx="295.2" cy="1817.9" r="4"/><circle cx="307.5" cy="1716.7" r="4"/><circle cx="297.3" cy="1840.6" r="4"/><circle cx="329.5" cy="1849.5" r="4"/><circle cx="321.1" cy="1808.7" r="4"/><circle cx="329.5" cy="1866.9" r="4"/><circle cx="317.4" cy="1846.8" r="4"/><circle cx="329.9" cy="1885.5" r="4"/><circle cx="310.3" cy="1839.8" r="4"/><circle cx="326.8" cy="1831.3" r="4"/><circle cx="326.9" cy="1766.8" r="4"/><circle cx="314.3" cy="1833.6" r="4"/><circle cx="305.4" cy="1789.3" r="4"/><circle cx="294" cy="1812.7" r="4"/><circle cx="277.8" cy="1879.2" r="4"/><circle cx="329.8" cy="1855.7" r="4"/><circle cx="300.8" cy="1792" r="4"/><circle cx="326" cy="1749" r="4"/><circle cx="329.4" cy="1803.9" r="4"/><circle cx="305.7" cy="1845" r="4"/><circle cx="327.6" cy="1762" r="4"/><circle cx="277.1" cy="1851.3" r="4"/><circle cx="312.4" cy="1773.2" r="4"/><circle cx="323" cy="1799.5" r="4"/><circle cx="329.2" cy="1891.9" r="4"/><circle cx="317.5" cy="1823.1" r="4"/><circle cx="329.6" cy="1840.6" r="4"/><circle cx="277.9" cy="1859" r="4"/><circle cx="280.5" cy="1848" r="4"/><circle cx="277.2" cy="1875" r="4"/><circle cx="328.1" cy="1879.9" r="4"/><circle cx="327" cy="1822.5" r="4"/><circle cx="329.3" cy="1826.5" r="4"/><circle cx="288.6" cy="1784.7" r="4"/><circle cx="316.2" cy="1809.9" r="4"/><circle cx="303.3" cy="1733" r="4"/><circle cx="326.7" cy="1752.7" r="4"/><circle cx="311.4" cy="1816.5" r="4"/><circle cx="277.8" cy="1890.7" r="4"/><circle cx="286" cy="1820.8" r="4"/><circle cx="329.2" cy="1891.4" r="4"/><circle cx="309.6" cy="1796.3" r="4"/><circle cx="280.2" cy="1863.4" r="4"/><circle cx="277.4" cy="1895.3" r="4"/><circle cx="318.4" cy="1725.3" r="4"/><circle cx="324.6" cy="1836.9" r="4"/><circle cx="329.1" cy="1863.3" r="4"/><circle cx="315.2" cy="1829.7" r="4"/><circle cx="295.6" cy="1819.8" r="4"/><circle cx="329.4" cy="1885.8" r="4"/><circle cx="318.1" cy="1760.9" r="4"/><circle cx="330" cy="1853.6" r="4"/><circle cx="324.7" cy="1828.7" r="4"/><circle cx="323.2" cy="1790.9" r="4"/><circle cx="297.6" cy="1832.8" r="4"/><circle cx="323.4" cy="1801.3" r="4"/><circle cx="318.4" cy="1716.9" r="4"/><circle cx="291.1" cy="1811.5" r="4"/><circle cx="297.9" cy="1788.4" r="4"/><circle cx="278.3" cy="1873.6" r="4"/><circle cx="291.9" cy="1833.3" r="4"/><circle cx="327.2" cy="1837.4" r="4"/><circle cx="277.2" cy="1889" r="4"/><circle cx="300.4" cy="1851.5" r="4"/><circle cx="312.5" cy="1840.8" r="4"/><circle cx="483.2" cy="1857.3" r="4"/><circle cx="575" cy="1854.4" r="4"/><circle cx="587.6" cy="1848" r="4"/><circle cx="530.4" cy="1820.3" r="4"/><circle cx="484.1" cy="1866.2" r="4"/><circle cx="488.5" cy="1749" r="4"/><circle cx="558.2" cy="1859.6" r="4"/><circle cx="497.7" cy="1858.7" r="4"/><circle cx="549.2" cy="1800.6" r="4"/><circle cx="543.5" cy="1829.9" r="4"/><circle cx="582.4" cy="1822.1" r="4"/><circle cx="590.7" cy="1871.8" r="4"/><circle cx="566.7" cy="1840.8" r="4"/><circle cx="590.1" cy="1868.9" r="4"/><circle cx="550" cy="1780.2" r="4"/><circle cx="506.8" cy="1799.5" r="4"/><circle cx="526" cy="1773.7" r="4"/><circle cx="528.1" cy="1792.4" r="4"/><circle cx="561.7" cy="1808.7" r="4"/><circle cx="509.4" cy="1797" r="4"/><circle cx="549.8" cy="1821" r="4"/><circle cx="572.6" cy="1798.7" r="4"/><circle cx="536.4" cy="1720.6" r="4"/><circle cx="522" cy="1824.4" r="4"/><circle cx="589.8" cy="1842.7" r="4"/><circle cx="550.9" cy="1769.2" r="4"/><circle cx="495.7" cy="1801.2" r="4"/><circle cx="574.4" cy="1810.9" r="4"/><circle cx="586.4" cy="1816.5" r="4"/><circle cx="567.5" cy="1778.5" r="4"/><circle cx="510.3" cy="1811" r="4"/><circle cx="591.6" cy="1895.1" r="4"/><circle cx="526.9" cy="1764.5" r="4"/><circle cx="509.4" cy="1737.5" r="4"/><circle cx="499.6" cy="1793.4" r="4"/><circle cx="581.3" cy="1810.6" r="4"/><circle cx="483.1" cy="1850.5" r="4"/><circle cx="482.7" cy="1888.8" r="4"/><circle cx="485.4" cy="1847.3" r="4"/><circle cx="547.5" cy="1813.1" r="4"/><circle cx="586.4" cy="1815.3" r="4"/><circle cx="500.2" cy="1853.5" r="4"/><circle cx="549.3" cy="1816.7" r="4"/><circle cx="505.4" cy="1803.4" r="4"/><circle cx="533.1" cy="1827.3" r="4"/><circle cx="591.9" cy="1882.6" r="4"/><circle cx="525.5" cy="1831.7" r="4"/><circle cx="574.5" cy="1811.6" r="4"/><circle cx="562.1" cy="1868.5" r="4"/><circle cx="557.6" cy="1814.5" r="4"/><circle cx="509.8" cy="1823.8" r="4"/><circle cx="508.3" cy="1711.6" r="4"/><circle cx="570.9" cy="1862.6" r="4"/><circle cx="544.7" cy="1854.1" r="4"/><circle cx="562.3" cy="1854.7" r="4"/><circle cx="591.2" cy="1879.3" r="4"/><circle cx="590.8" cy="1877.2" r="4"/><circle cx="521.7" cy="1813.4" r="4"/><circle cx="498.8" cy="1730.7" r="4"/><circle cx="482.9" cy="1894.8" r="4"/><circle cx="540" cy="1812.7" r="4"/><circle cx="582.7" cy="1836.7" r="4"/><circle cx="577.5" cy="1815" r="4"/><circle cx="538.3" cy="1749.4" r="4"/><circle cx="591.2" cy="1826" r="4"/><circle cx="582.6" cy="1813.3" r="4"/><circle cx="569.9" cy="1866.8" r="4"/><circle cx="543.9" cy="1822.8" r="4"/><circle cx="514.5" cy="1799.9" r="4"/><circle cx="557.5" cy="1826.3" r="4"/><circle cx="589.8" cy="1864" r="4"/><circle cx="563" cy="1836.9" r="4"/><circle cx="490.8" cy="1800.5" r="4"/><circle cx="561.1" cy="1867.4" r="4"/><circle cx="572.2" cy="1710.2" r="4"/><circle cx="581.5" cy="1810.9" r="4"/><circle cx="527.1" cy="1781.8" r="4"/><circle cx="486.4" cy="1840" r="4"/><circle cx="491.4" cy="1795" r="4"/><circle cx="544" cy="1755.4" r="4"/><circle cx="565.2" cy="1819.4" r="4"/><circle cx="554.4" cy="1817.1" r="4"/><circle cx="543.2" cy="1786.6" r="4"/><circle cx="544.9" cy="1861.8" r="4"/><circle cx="586.5" cy="1805.3" r="4"/><circle cx="576" cy="1826" r="4"/><circle cx="511.6" cy="1847.8" r="4"/><circle cx="543.7" cy="1758.7" r="4"/><circle cx="589" cy="1838.5" r="4"/><circle cx="512" cy="1780" r="4"/><circle cx="559.6" cy="1865.8" r="4"/><circle cx="585.5" cy="1802.8" r="4"/><circle cx="558.2" cy="1832.2" r="4"/><circle cx="592.1" cy="1888.1" r="4"/><circle cx="512.7" cy="1840.4" r="4"/><circle cx="489.6" cy="1857.6" r="4"/><circle cx="491.8" cy="1831.7" r="4"/><circle cx="532.6" cy="1745.2" r="4"/><circle cx="483.6" cy="1891.4" r="4"/><circle cx="524" cy="1821.5" r="4"/><circle cx="557.3" cy="1828.3" r="4"/><circle cx="536.2" cy="1853.6" r="4"/><circle cx="485.9" cy="1860.3" r="4"/><circle cx="581" cy="1741.2" r="4"/><circle cx="492.6" cy="1830.8" r="4"/><circle cx="568.4" cy="1830.2" r="4"/><circle cx="562.5" cy="1854.5" r="4"/><circle cx="488.6" cy="1762.7" r="4"/><circle cx="554" cy="1780" r="4"/><circle cx="507.2" cy="1767.5" r="4"/><circle cx="556.3" cy="1809.4" r="4"/><circle cx="489.9" cy="1838.5" r="4"/><circle cx="543.3" cy="1741.8" r="4"/><circle cx="509.9" cy="1810" r="4"/><circle cx="551.3" cy="1833.5" r="4"/><circle cx="564.7" cy="1795.1" r="4"/><circle cx="589" cy="1839.9" r="4"/><circle cx="543.9" cy="1782.2" r="4"/><circle cx="559.7" cy="1776.9" r="4"/><circle cx="566.9" cy="1793.5" r="4"/><circle cx="483.8" cy="1870.5" r="4"/><circle cx="570.6" cy="1863.3" r="4"/><circle cx="564.6" cy="1722" r="4"/><circle cx="591.4" cy="1885.9" r="4"/><circle cx="528.1" cy="1780.1" r="4"/><circle cx="588.4" cy="1820.8" r="4"/><circle cx="510" cy="1817.5" r="4"/><circle cx="500.7" cy="1819.7" r="4"/><circle cx="514.2" cy="1730.5" r="4"/><circle cx="575.7" cy="1843.2" r="4"/><circle cx="526.3" cy="1813.9" r="4"/><circle cx="487.6" cy="1851.6" r="4"/><circle cx="502.5" cy="1840.8" r="4"/><circle cx="538.3" cy="1757.5" r="4"/><circle cx="544.5" cy="1808.6" r="4"/><circle cx="500.8" cy="1827.7" r="4"/><circle cx="513.1" cy="1771.9" r="4"/><circle cx="484.4" cy="1829.2" r="4"/><circle cx="591.2" cy="1860.1" r="4"/><circle cx="547.4" cy="1797.2" r="4"/><circle cx="573.5" cy="1860.5" r="4"/><circle cx="504" cy="1813.6" r="4"/><circle cx="566.9" cy="1823.8" r="4"/><circle cx="555.9" cy="1786.2" r="4"/><circle cx="487.1" cy="1789.3" r="4"/><circle cx="556.9" cy="1753.5" r="4"/><circle cx="505.5" cy="1805.7" r="4"/><circle cx="483.2" cy="1885.3" r="4"/><circle cx="575.3" cy="1832.3" r="4"/><circle cx="516.2" cy="1814.3" r="4"/><circle cx="502.3" cy="1740.5" r="4"/><circle cx="505.8" cy="1747.6" r="4"/><circle cx="542.7" cy="1829.1" r="4"/><circle cx="496.6" cy="1804.7" r="4"/><circle cx="571.3" cy="1804.2" r="4"/><circle cx="529" cy="1815.3" r="4"/><circle cx="534.1" cy="1844.3" r="4"/><circle cx="569.8" cy="1766.8" r="4"/><circle cx="590.3" cy="1854.8" r="4"/><circle cx="592.3" cy="1833.9" r="4"/><circle cx="515.8" cy="1830.3" r="4"/><circle cx="591.5" cy="1891.2" r="4"/><circle cx="494.3" cy="1812.4" r="4"/><circle cx="503" cy="1794.5" r="4"/><circle cx="490.4" cy="1819.3" r="4"/><circle cx="482.8" cy="1876.5" r="4"/><circle cx="813.7" cy="1880.7" r="4"/><circle cx="785.3" cy="1718.5" r="4"/><circle cx="732.4" cy="1716.6" r="4"/><circle cx="747.9" cy="1764.4" r="4"/><circle cx="729.4" cy="1810.4" r="4"/><circle cx="814" cy="1882.1" r="4"/><circle cx="770.3" cy="1851.6" r="4"/><circle cx="776.4" cy="1816.2" r="4"/><circle cx="741.3" cy="1794.7" r="4"/><circle cx="811.3" cy="1798.9" r="4"/><circle cx="808.6" cy="1813.8" r="4"/><circle cx="773.1" cy="1840.2" r="4"/><circle cx="716" cy="1882.2" r="4"/><circle cx="813.5" cy="1855.5" r="4"/><circle cx="760.4" cy="1831.4" r="4"/><circle cx="742" cy="1857" r="4"/><circle cx="812.2" cy="1869.3" r="4"/><circle cx="745" cy="1823.6" r="4"/><circle cx="718.8" cy="1760.5" r="4"/><circle cx="802.3" cy="1836.9" r="4"/><circle cx="799.7" cy="1732" r="4"/><circle cx="718.8" cy="1836" r="4"/><circle cx="770.9" cy="1805.1" r="4"/><circle cx="751.7" cy="1835.8" r="4"/><circle cx="789.5" cy="1817.5" r="4"/><circle cx="773.8" cy="1780.6" r="4"/><circle cx="750.7" cy="1859.6" r="4"/><circle cx="718" cy="1847.8" r="4"/><circle cx="796.8" cy="1798.2" r="4"/><circle cx="793" cy="1802.4" r="4"/><circle cx="722.7" cy="1818.7" r="4"/><circle cx="761" cy="1797" r="4"/><circle cx="727.6" cy="1811.3" r="4"/><circle cx="794.6" cy="1801.3" r="4"/><circle cx="753.5" cy="1821" r="4"/><circle cx="777.1" cy="1791.4" r="4"/><circle cx="809.1" cy="1846.3" r="4"/><circle cx="813.7" cy="1872.6" r="4"/><circle cx="764.5" cy="1809.4" r="4"/><circle cx="811.7" cy="1806.1" r="4"/><circle cx="793.1" cy="1781.3" r="4"/><circle cx="760.2" cy="1839.2" r="4"/><circle cx="753.8" cy="1726.4" r="4"/><circle cx="714.7" cy="1890.6" r="4"/><circle cx="808.8" cy="1807.3" r="4"/><circle cx="776.6" cy="1859.8" r="4"/><circle cx="813.7" cy="1876.4" r="4"/><circle cx="721.8" cy="1754.1" r="4"/><circle cx="772.9" cy="1824.5" r="4"/><circle cx="767.6" cy="1808.3" r="4"/><circle cx="714.7" cy="1856.2" r="4"/><circle cx="715.5" cy="1863.2" r="4"/><circle cx="792.4" cy="1780" r="4"/><circle cx="736.3" cy="1772.6" r="4"/><circle cx="812.9" cy="1892.9" r="4"/><circle cx="774.4" cy="1762.5" r="4"/><circle cx="813.1" cy="1895" r="4"/><circle cx="731.7" cy="1822.3" r="4"/><circle cx="777.4" cy="1851.3" r="4"/><circle cx="783.6" cy="1826.8" r="4"/><circle cx="764.1" cy="1836.4" r="4"/><circle cx="726.2" cy="1769.7" r="4"/><circle cx="758.6" cy="1799.4" r="4"/><circle cx="742.4" cy="1825.1" r="4"/><circle cx="787" cy="1756.9" r="4"/><circle cx="804.8" cy="1850.4" r="4"/><circle cx="725.6" cy="1815.5" r="4"/><circle cx="811.3" cy="1825.6" r="4"/><circle cx="723.1" cy="1781" r="4"/><circle cx="787.1" cy="1841.7" r="4"/><circle cx="736.8" cy="1757.1" r="4"/><circle cx="717" cy="1826.2" r="4"/><circle cx="805" cy="1745.2" r="4"/><circle cx="790.8" cy="1791.7" r="4"/><circle cx="813.9" cy="1850.7" r="4"/><circle cx="791.2" cy="1759.3" r="4"/><circle cx="813.7" cy="1882.8" r="4"/><circle cx="805.2" cy="1819.7" r="4"/><circle cx="714.7" cy="1886.5" r="4"/><circle cx="744" cy="1849.8" r="4"/><circle cx="732.7" cy="1845.8" r="4"/><circle cx="799.8" cy="1840.7" r="4"/><circle cx="789.2" cy="1837.8" r="4"/><circle cx="791.5" cy="1830.2" r="4"/><circle cx="744.7" cy="1843" r="4"/><circle cx="733.1" cy="1755.4" r="4"/><circle cx="728.1" cy="1745.8" r="4"/><circle cx="812.7" cy="1861.9" r="4"/><circle cx="763.9" cy="1824.1" r="4"/><circle cx="772" cy="1806.6" r="4"/><circle cx="778.8" cy="1838.4" r="4"/><circle cx="813" cy="1892.4" r="4"/><circle cx="792.5" cy="1808.3" r="4"/><circle cx="813.8" cy="1876.6" r="4"/><circle cx="774.2" cy="1839" r="4"/><circle cx="715.9" cy="1849.9" r="4"/><circle cx="722.5" cy="1793.5" r="4"/><circle cx="744.3" cy="1790.6" r="4"/><circle cx="813.9" cy="1872.5" r="4"/><circle cx="806" cy="1848.9" r="4"/><circle cx="776.3" cy="1829.5" r="4"/><circle cx="767.3" cy="1810.9" r="4"/><circle cx="731.5" cy="1808.6" r="4"/><circle cx="769.4" cy="1859.7" r="4"/><circle cx="732.7" cy="1782.2" r="4"/><circle cx="718.5" cy="1844.8" r="4"/><circle cx="775.7" cy="1768.8" r="4"/><circle cx="756" cy="1800.9" r="4"/><circle cx="763.3" cy="1822.8" r="4"/><circle cx="739.3" cy="1802.2" r="4"/><circle cx="750.1" cy="1862.1" r="4"/><circle cx="797.1" cy="1809.9" r="4"/><circle cx="804.1" cy="1771.2" r="4"/><circle cx="781.3" cy="1833.2" r="4"/><circle cx="776.8" cy="1831.5" r="4"/><circle cx="744.6" cy="1780.2" r="4"/><circle cx="812.8" cy="1885.3" r="4"/><circle cx="721" cy="1820.3" r="4"/><circle cx="754.7" cy="1827.1" r="4"/><circle cx="805.2" cy="1802.2" r="4"/><circle cx="787.7" cy="1819.8" r="4"/><circle cx="781.9" cy="1799.1" r="4"/><circle cx="779.1" cy="1786.4" r="4"/><circle cx="812.2" cy="1890.9" r="4"/><circle cx="762" cy="1801.6" r="4"/><circle cx="778.5" cy="1756.8" r="4"/><circle cx="782.1" cy="1814.3" r="4"/><circle cx="715.5" cy="1875.6" r="4"/><circle cx="748.7" cy="1865.8" r="4"/><circle cx="722.5" cy="1829.9" r="4"/><circle cx="738.2" cy="1758.6" r="4"/><circle cx="738.9" cy="1813.9" r="4"/><circle cx="764.1" cy="1837.8" r="4"/><circle cx="795.1" cy="1800.9" r="4"/><circle cx="792.7" cy="1819.8" r="4"/><circle cx="714.6" cy="1892.6" r="4"/><circle cx="800.9" cy="1838.1" r="4"/><circle cx="804.7" cy="1754.3" r="4"/><circle cx="740.8" cy="1826.2" r="4"/><circle cx="756.8" cy="1805" r="4"/><circle cx="714.9" cy="1877.4" r="4"/><circle cx="812.2" cy="1833" r="4"/><circle cx="808.3" cy="1784.8" r="4"/><circle cx="715.9" cy="1813.4" r="4"/><circle cx="781.1" cy="1756.7" r="4"/><circle cx="738.2" cy="1791.4" r="4"/><circle cx="733.2" cy="1819.8" r="4"/><circle cx="792.1" cy="1836.1" r="4"/><circle cx="809.2" cy="1767.6" r="4"/><circle cx="739.6" cy="1802.7" r="4"/><circle cx="762.4" cy="1803.3" r="4"/><circle cx="739.7" cy="1861.9" r="4"/><circle cx="714.7" cy="1871.1" r="4"/><circle cx="803.2" cy="1829" r="4"/><circle cx="923.3" cy="1841.6" r="4"/><circle cx="940.8" cy="1770.3" r="4"/><circle cx="945.3" cy="1806.4" r="4"/><circle cx="958.8" cy="1840" r="4"/><circle cx="983.7" cy="1802.8" r="4"/><circle cx="1009.9" cy="1869.3" r="4"/><circle cx="924.3" cy="1892.1" r="4"/><circle cx="1000.6" cy="1778.1" r="4"/><circle cx="965.2" cy="1806.8" r="4"/><circle cx="1000.2" cy="1803.4" r="4"/><circle cx="952.5" cy="1832.2" r="4"/><circle cx="950.5" cy="1846.5" r="4"/><circle cx="923.6" cy="1881.5" r="4"/><circle cx="991.6" cy="1798.2" r="4"/><circle cx="1002.6" cy="1808.3" r="4"/><circle cx="938.8" cy="1787.4" r="4"/><circle cx="999" cy="1766.8" r="4"/><circle cx="923.8" cy="1872.2" r="4"/><circle cx="942.9" cy="1831.7" r="4"/><circle cx="992" cy="1827.6" r="4"/><circle cx="988.3" cy="1833.2" r="4"/><circle cx="992.6" cy="1793.6" r="4"/><circle cx="925.3" cy="1850.1" r="4"/><circle cx="1002.4" cy="1808.7" r="4"/><circle cx="1010.5" cy="1829" r="4"/><circle cx="934" cy="1818.3" r="4"/><circle cx="1005.8" cy="1807.2" r="4"/><circle cx="948.6" cy="1806.2" r="4"/><circle cx="969.4" cy="1798.6" r="4"/><circle cx="931.5" cy="1776.4" r="4"/><circle cx="1010.1" cy="1865.2" r="4"/><circle cx="924" cy="1862.4" r="4"/><circle cx="933.8" cy="1857.7" r="4"/><circle cx="966.6" cy="1792.5" r="4"/><circle cx="924.3" cy="1777.7" r="4"/><circle cx="991.7" cy="1830.4" r="4"/><circle cx="941.3" cy="1822.9" r="4"/><circle cx="1007.8" cy="1847" r="4"/><circle cx="970.5" cy="1803.8" r="4"/><circle cx="1007.5" cy="1803.5" r="4"/><circle cx="990.3" cy="1826.6" r="4"/><circle cx="950.6" cy="1798.5" r="4"/><circle cx="1009.9" cy="1882.4" r="4"/><circle cx="931.5" cy="1804.3" r="4"/><circle cx="951.3" cy="1760" r="4"/><circle cx="936.5" cy="1834.7" r="4"/><circle cx="978.3" cy="1759" r="4"/><circle cx="1008.5" cy="1832.1" r="4"/><circle cx="940.6" cy="1803.8" r="4"/><circle cx="924.3" cy="1864.5" r="4"/><circle cx="924.9" cy="1890.4" r="4"/><circle cx="999.9" cy="1817" r="4"/><circle cx="952" cy="1797.3" r="4"/><circle cx="993" cy="1797.7" r="4"/><circle cx="956" cy="1832.8" r="4"/><circle cx="927.4" cy="1786.1" r="4"/><circle cx="998.8" cy="1835.2" r="4"/><circle cx="1008.4" cy="1875.2" r="4"/><circle cx="963.2" cy="1788.1" r="4"/><circle cx="1010.7" cy="1886" r="4"/><circle cx="1009.1" cy="1832.5" r="4"/><circle cx="1009.6" cy="1893.7" r="4"/><circle cx="931.8" cy="1779.7" r="4"/><circle cx="924.4" cy="1867.4" r="4"/><circle cx="1008" cy="1813.7" r="4"/><circle cx="1007.2" cy="1791.8" r="4"/><circle cx="931.1" cy="1853.5" r="4"/><circle cx="961.2" cy="1790.8" r="4"/><circle cx="986.4" cy="1840.3" r="4"/><circle cx="925" cy="1849.2" r="4"/><circle cx="976.4" cy="1810.1" r="4"/><circle cx="924.3" cy="1884.7" r="4"/><circle cx="928.8" cy="1811.7" r="4"/><circle cx="932.2" cy="1774.7" r="4"/><circle cx="998.7" cy="1823.3" r="4"/><circle cx="930.9" cy="1862.8" r="4"/><circle cx="928.8" cy="1834.3" r="4"/><circle cx="1010.2" cy="1889.6" r="4"/><circle cx="925" cy="1889.6" r="4"/><circle cx="973.7" cy="1791.7" r="4"/><circle cx="1009.7" cy="1849.7" r="4"/><circle cx="1009.6" cy="1895.2" r="4"/><circle cx="960.7" cy="1844.5" r="4"/><circle cx="987.5" cy="1828.4" r="4"/><circle cx="925.6" cy="1847.7" r="4"/><circle cx="967.8" cy="1827.9" r="4"/><circle cx="967.7" cy="1800.6" r="4"/><circle cx="951.3" cy="1748.6" r="4"/><circle cx="955.2" cy="1829.2" r="4"/><circle cx="925.5" cy="1794.6" r="4"/><circle cx="954.6" cy="1770.1" r="4"/><circle cx="1010.6" cy="1879.3" r="4"/><circle cx="924.9" cy="1887.2" r="4"/><circle cx="1009.7" cy="1892.4" r="4"/><circle cx="1010.2" cy="1852.4" r="4"/><circle cx="946" cy="1803.2" r="4"/><circle cx="1009.1" cy="1830.8" r="4"/><circle cx="971.3" cy="1819.2" r="4"/><circle cx="946.3" cy="1793.2" r="4"/><circle cx="1009.3" cy="1860.7" r="4"/><circle cx="978.6" cy="1830.3" r="4"/><circle cx="1009.1" cy="1840.2" r="4"/><circle cx="1006.3" cy="1733" r="4"/><circle cx="1010.1" cy="1858.4" r="4"/><circle cx="981.4" cy="1783.9" r="4"/><circle cx="934.3" cy="1755.4" r="4"/><circle cx="981.1" cy="1815.4" r="4"/><circle cx="989.1" cy="1813" r="4"/><circle cx="983" cy="1756.5" r="4"/><circle cx="1009.5" cy="1804.3" r="4"/><circle cx="927.6" cy="1834.6" r="4"/><circle cx="967" cy="1832.6" r="4"/><circle cx="1009" cy="1783.4" r="4"/><circle cx="962.4" cy="1797.1" r="4"/><circle cx="1008.7" cy="1782.8" r="4"/><circle cx="926.6" cy="1836.6" r="4"/><circle cx="953.1" cy="1794.5" r="4"/><circle cx="984.8" cy="1829.4" r="4"/><circle cx="955.4" cy="1824.1" r="4"/><circle cx="951.5" cy="1815.3" r="4"/><circle cx="950.4" cy="1845.6" r="4"/><circle cx="929.5" cy="1825.4" r="4"/><circle cx="978.9" cy="1839" r="4"/><circle cx="967.6" cy="1772.2" r="4"/><circle cx="950" cy="1814.7" r="4"/><circle cx="997.5" cy="1816.6" r="4"/><circle cx="944" cy="1832.2" r="4"/><circle cx="923.5" cy="1879.7" r="4"/><circle cx="989" cy="1790.6" r="4"/><circle cx="1000.7" cy="1826.6" r="4"/><circle cx="946.5" cy="1817.9" r="4"/><circle cx="928" cy="1762.4" r="4"/><circle cx="931.1" cy="1793.3" r="4"/><circle cx="949.7" cy="1815.2" r="4"/><circle cx="926" cy="1787.7" r="4"/><circle cx="959.4" cy="1849.3" r="4"/><circle cx="963.5" cy="1819.8" r="4"/><circle cx="998.9" cy="1822.9" r="4"/><circle cx="924.3" cy="1895.2" r="4"/><circle cx="924.9" cy="1819.2" r="4"/><circle cx="964.7" cy="1723.9" r="4"/><circle cx="1113.8" cy="1814.4" r="4"/><circle cx="1109.5" cy="1857.2" r="4"/><circle cx="1110.5" cy="1853.3" r="4"/><circle cx="1106.3" cy="1868.8" r="4"/><circle cx="1128.3" cy="1881.4" r="4"/><circle cx="1116.4" cy="1839" r="4"/><circle cx="1125.8" cy="1814.6" r="4"/><circle cx="1128" cy="1844.5" r="4"/><circle cx="1105.4" cy="1884.6" r="4"/><circle cx="1118" cy="1822.1" r="4"/><circle cx="1127.7" cy="1890.6" r="4"/><circle cx="1127.4" cy="1895.5" r="4"/><circle cx="1115.7" cy="1826.8" r="4"/><circle cx="1107.8" cy="1806.7" r="4"/><circle cx="1107.4" cy="1879.6" r="4"/><circle cx="1125.6" cy="1853.3" r="4"/><circle cx="1111.4" cy="1863.3" r="4"/><circle cx="1110.3" cy="1809.5" r="4"/><circle cx="1109.4" cy="1828.1" r="4"/><circle cx="1115.6" cy="1817.9" r="4"/><circle cx="1128.8" cy="1856.1" r="4"/><circle cx="1123" cy="1818.8" r="4"/><circle cx="1122.6" cy="1801" r="4"/><circle cx="1125.1" cy="1844.3" r="4"/><circle cx="1107.3" cy="1874.1" r="4"/><circle cx="1122.8" cy="1841.7" r="4"/><circle cx="1128.1" cy="1868.9" r="4"/><circle cx="1121" cy="1855.7" r="4"/><circle cx="1124" cy="1842.9" r="4"/><circle cx="1127.8" cy="1862.7" r="4"/><circle cx="1108.5" cy="1866.3" r="4"/><circle cx="1106.9" cy="1846.9" r="4"/><circle cx="1108.5" cy="1808.6" r="4"/><circle cx="1127.8" cy="1888.4" r="4"/><circle cx="1113.1" cy="1857.8" r="4"/><circle cx="1106.2" cy="1823.1" r="4"/><circle cx="1117.3" cy="1799" r="4"/><circle cx="1128.5" cy="1876.7" r="4"/><circle cx="1117.3" cy="1753.2" r="4"/><circle cx="1111.1" cy="1839.8" r="4"/><circle cx="1110.5" cy="1806.6" r="4"/><circle cx="1106.3" cy="1895.6" r="4"/><circle cx="1113.4" cy="1836.1" r="4"/><circle cx="1117.1" cy="1791.6" r="4"/><circle cx="1128.1" cy="1879.5" r="4"/><circle cx="1123.4" cy="1812.6" r="4"/><circle cx="1106.6" cy="1891.3" r="4"/><circle cx="1106.7" cy="1870.3" r="4"/><circle cx="1108" cy="1878.3" r="4"/><circle cx="1110.9" cy="1848.8" r="4"/><circle cx="1107" cy="1846.5" r="4"/><circle cx="1108.9" cy="1844.8" r="4"/><circle cx="1117.8" cy="1830.5" r="4"/><circle cx="1105.9" cy="1889.1" r="4"/><circle cx="1123.9" cy="1807.5" r="4"/><circle cx="1125.4" cy="1811.2" r="4"/><circle cx="1179.9" cy="1881.4" r="4"/><circle cx="1150" cy="1806.5" r="4"/><circle cx="1148.3" cy="1883" r="4"/><circle cx="1180.1" cy="1860.2" r="4"/><circle cx="1168.3" cy="1791.1" r="4"/><circle cx="1180.6" cy="1893.7" r="4"/><circle cx="1149.2" cy="1785.9" r="4"/><circle cx="1147.5" cy="1871.5" r="4"/><circle cx="1149.3" cy="1848.9" r="4"/><circle cx="1168.2" cy="1776.6" r="4"/><circle cx="1180.8" cy="1873.9" r="4"/><circle cx="1152.5" cy="1804.8" r="4"/><circle cx="1147.6" cy="1889.2" r="4"/><circle cx="1149.5" cy="1814.2" r="4"/><circle cx="1168.9" cy="1829" r="4"/><circle cx="1175.5" cy="1824" r="4"/><circle cx="1158.8" cy="1827.9" r="4"/><circle cx="1165.8" cy="1822.6" r="4"/><circle cx="1148.2" cy="1880.5" r="4"/><circle cx="1180.6" cy="1842.6" r="4"/><circle cx="1174.4" cy="1816.7" r="4"/><circle cx="1150.6" cy="1754.1" r="4"/><circle cx="1147.8" cy="1843.1" r="4"/><circle cx="1180.7" cy="1878.2" r="4"/><circle cx="1159.7" cy="1789.3" r="4"/><circle cx="1147.9" cy="1854.4" r="4"/><circle cx="1176.2" cy="1802.9" r="4"/><circle cx="1148.4" cy="1853.3" r="4"/><circle cx="1180.5" cy="1844.9" r="4"/><circle cx="1177.3" cy="1848.3" r="4"/><circle cx="1150.7" cy="1833.8" r="4"/><circle cx="1149.1" cy="1768.1" r="4"/><circle cx="1156.1" cy="1811.1" r="4"/><circle cx="1162.3" cy="1779.2" r="4"/><circle cx="1147.9" cy="1876.7" r="4"/><circle cx="1180.7" cy="1846.4" r="4"/><circle cx="1164.2" cy="1809.4" r="4"/><circle cx="1165.4" cy="1810.1" r="4"/><circle cx="1147.9" cy="1812.3" r="4"/><circle cx="1171" cy="1793.9" r="4"/><circle cx="1148.3" cy="1867" r="4"/><circle cx="1148.5" cy="1855.7" r="4"/><circle cx="1148.4" cy="1886.9" r="4"/><circle cx="1181" cy="1833.5" r="4"/><circle cx="1157.4" cy="1819.8" r="4"/><circle cx="1179" cy="1826.2" r="4"/><circle cx="1161.3" cy="1824.5" r="4"/><circle cx="1150.2" cy="1828.5" r="4"/><circle cx="1148.2" cy="1862.4" r="4"/><circle cx="1175.1" cy="1791" r="4"/><circle cx="1181.2" cy="1869.9" r="4"/><circle cx="1147.6" cy="1842.1" r="4"/><circle cx="1177.8" cy="1855.4" r="4"/><circle cx="1150.2" cy="1820.9" r="4"/><circle cx="1148.4" cy="1893.8" r="4"/><circle cx="1180.5" cy="1893.3" r="4"/><circle cx="1180.7" cy="1886.9" r="4"/><circle cx="1181.2" cy="1890.2" r="4"/><circle cx="1159.7" cy="1788.6" r="4"/><circle cx="1180.9" cy="1857.6" r="4"/><circle cx="1173.2" cy="1696.9" r="4"/><circle cx="1147.4" cy="1878.6" r="4"/><circle cx="1180.5" cy="1870.4" r="4"/><circle cx="1162.1" cy="1801.4" r="4"/><circle cx="1147.6" cy="1838.3" r="4"/><circle cx="1180.6" cy="1866.7" r="4"/><circle cx="1180.3" cy="1831.3" r="4"/><circle cx="1179.9" cy="1864.6" r="4"/><circle cx="1306.6" cy="1781.7" r="4"/><circle cx="1341.5" cy="1855.7" r="4"/><circle cx="1323.9" cy="1758.4" r="4"/><circle cx="1317" cy="1859.2" r="4"/><circle cx="1317.5" cy="1836.9" r="4"/><circle cx="1287.4" cy="1839.6" r="4"/><circle cx="1288.3" cy="1784.5" r="4"/><circle cx="1298.1" cy="1809.1" r="4"/><circle cx="1337.1" cy="1786.7" r="4"/><circle cx="1296.4" cy="1760" r="4"/><circle cx="1328.5" cy="1754.8" r="4"/><circle cx="1272.7" cy="1850.4" r="4"/><circle cx="1342" cy="1796.7" r="4"/><circle cx="1270.3" cy="1861.7" r="4"/><circle cx="1300.9" cy="1828.3" r="4"/><circle cx="1342.4" cy="1857.1" r="4"/><circle cx="1313.1" cy="1807.4" r="4"/><circle cx="1301.4" cy="1844.8" r="4"/><circle cx="1286.3" cy="1798.1" r="4"/><circle cx="1341" cy="1862.8" r="4"/><circle cx="1308.2" cy="1828.9" r="4"/><circle cx="1270.3" cy="1889.7" r="4"/><circle cx="1339.9" cy="1824" r="4"/><circle cx="1304.3" cy="1767.3" r="4"/><circle cx="1326.3" cy="1861.2" r="4"/><circle cx="1291.5" cy="1795.3" r="4"/><circle cx="1329.5" cy="1850.7" r="4"/><circle cx="1271.6" cy="1754.6" r="4"/><circle cx="1326.1" cy="1833.9" r="4"/><circle cx="1295.1" cy="1814.7" r="4"/><circle cx="1331.8" cy="1838.7" r="4"/><circle cx="1301.7" cy="1838.2" r="4"/><circle cx="1287.8" cy="1825" r="4"/><circle cx="1317.4" cy="1842.6" r="4"/><circle cx="1312.6" cy="1777.9" r="4"/><circle cx="1273.8" cy="1810.2" r="4"/><circle cx="1318.5" cy="1771.6" r="4"/><circle cx="1305.1" cy="1811" r="4"/><circle cx="1314.7" cy="1830.5" r="4"/><circle cx="1318.5" cy="1863" r="4"/><circle cx="1287" cy="1834.3" r="4"/><circle cx="1271.7" cy="1870.8" r="4"/><circle cx="1317.1" cy="1857.5" r="4"/><circle cx="1280.3" cy="1833.4" r="4"/><circle cx="1273.7" cy="1785.8" r="4"/><circle cx="1270.1" cy="1877.9" r="4"/><circle cx="1304.4" cy="1791.7" r="4"/><circle cx="1336.5" cy="1836.3" r="4"/><circle cx="1288.4" cy="1783" r="4"/><circle cx="1340.1" cy="1762.4" r="4"/><circle cx="1326.4" cy="1804.7" r="4"/><circle cx="1315.6" cy="1828.3" r="4"/><circle cx="1296.6" cy="1837.1" r="4"/><circle cx="1271.4" cy="1859.7" r="4"/><circle cx="1294.3" cy="1731.3" r="4"/><circle cx="1280.9" cy="1822.9" r="4"/><circle cx="1340" cy="1803.3" r="4"/><circle cx="1311.6" cy="1834.3" r="4"/><circle cx="1310.7" cy="1850.5" r="4"/><circle cx="1330.7" cy="1817.3" r="4"/><circle cx="1341.7" cy="1864.6" r="4"/><circle cx="1325.9" cy="1706.2" r="4"/><circle cx="1327.9" cy="1825.4" r="4"/><circle cx="1342.2" cy="1894.9" r="4"/><circle cx="1341.8" cy="1887.3" r="4"/><circle cx="1271.6" cy="1836.1" r="4"/><circle cx="1318.7" cy="1841.2" r="4"/><circle cx="1339.8" cy="1848.9" r="4"/><circle cx="1305.8" cy="1815" r="4"/><circle cx="1270.5" cy="1891.2" r="4"/><circle cx="1341.8" cy="1880.3" r="4"/><circle cx="1309.9" cy="1819.4" r="4"/><circle cx="1274.4" cy="1821.2" r="4"/><circle cx="1307.4" cy="1776.8" r="4"/><circle cx="1291.5" cy="1846.8" r="4"/><circle cx="1274.1" cy="1834" r="4"/><circle cx="1316.7" cy="1821.7" r="4"/><circle cx="1317.9" cy="1853.7" r="4"/><circle cx="1271.7" cy="1841.4" r="4"/><circle cx="1342.1" cy="1881.7" r="4"/><circle cx="1274.3" cy="1826.5" r="4"/><circle cx="1281.1" cy="1817" r="4"/><circle cx="1341.7" cy="1893" r="4"/><circle cx="1293.7" cy="1816.8" r="4"/><circle cx="1334.5" cy="1802.9" r="4"/><circle cx="1327.4" cy="1847.5" r="4"/><circle cx="1339.8" cy="1829.8" r="4"/><circle cx="1306.4" cy="1808.2" r="4"/><circle cx="1272.4" cy="1815.8" r="4"/><circle cx="1271.4" cy="1884.1" r="4"/><circle cx="1272.5" cy="1868.8" r="4"/><circle cx="1332.6" cy="1792.7" r="4"/><circle cx="1332.6" cy="1797.7" r="4"/><circle cx="1272.5" cy="1808.2" r="4"/><circle cx="1270.8" cy="1895.4" r="4"/><circle cx="1336.4" cy="1804.8" r="4"/><circle cx="1302.4" cy="1805.9" r="4"/><circle cx="1303.7" cy="1823.8" r="4"/><circle cx="1290.5" cy="1821.4" r="4"/><circle cx="1341.6" cy="1875.4" r="4"/><circle cx="1315.4" cy="1824.8" r="4"/><circle cx="1338.1" cy="1846.7" r="4"/><circle cx="1283.6" cy="1763.8" r="4"/><circle cx="1342.4" cy="1857.4" r="4"/><circle cx="1341.3" cy="1883.8" r="4"/><circle cx="1341.6" cy="1777.8" r="4"/><circle cx="1328.7" cy="1745.8" r="4"/><circle cx="1322.2" cy="1775.8" r="4"/><circle cx="1340.3" cy="1830.6" r="4"/><circle cx="1272" cy="1854.8" r="4"/><circle cx="1272.3" cy="1800" r="4"/><circle cx="1300.1" cy="1829.5" r="4"/><circle cx="1315.4" cy="1789.1" r="4"/><circle cx="1333.4" cy="1841.3" r="4"/><circle cx="1342.2" cy="1873.9" r="4"/><circle cx="1321.2" cy="1800.9" r="4"/><circle cx="1330.2" cy="1796.7" r="4"/><circle cx="1273.4" cy="1801.6" r="4"/><circle cx="1331.1" cy="1856.2" r="4"/><circle cx="1341.8" cy="1876.2" r="4"/><circle cx="1292.9" cy="1821.4" r="4"/><circle cx="1319.1" cy="1849.9" r="4"/><circle cx="1304.5" cy="1795.2" r="4"/><circle cx="1274" cy="1847" r="4"/><circle cx="1341.8" cy="1814.6" r="4"/><circle cx="1341.2" cy="1884.1" r="4"/><circle cx="1279.6" cy="1752.9" r="4"/><circle cx="1444.7" cy="1831.6" r="4"/><circle cx="1442.1" cy="1889.7" r="4"/><circle cx="1498.7" cy="1856.8" r="4"/><circle cx="1489" cy="1798.3" r="4"/><circle cx="1476.5" cy="1812.8" r="4"/><circle cx="1455.2" cy="1782.7" r="4"/><circle cx="1499" cy="1883.9" r="4"/><circle cx="1498.1" cy="1865.3" r="4"/><circle cx="1498" cy="1889.5" r="4"/><circle cx="1446.3" cy="1814" r="4"/><circle cx="1497" cy="1850.8" r="4"/><circle cx="1494.4" cy="1754.4" r="4"/><circle cx="1453.8" cy="1840.6" r="4"/><circle cx="1489.4" cy="1760.7" r="4"/><circle cx="1442.6" cy="1880.8" r="4"/><circle cx="1443" cy="1849.5" r="4"/><circle cx="1467.4" cy="1808.3" r="4"/><circle cx="1463.3" cy="1798.2" r="4"/><circle cx="1442.1" cy="1877" r="4"/><circle cx="1450.5" cy="1794.7" r="4"/><circle cx="1480.5" cy="1790" r="4"/><circle cx="1498.2" cy="1867.5" r="4"/><circle cx="1447.9" cy="1831.2" r="4"/><circle cx="1499.7" cy="1782.2" r="4"/><circle cx="1458.8" cy="1825.7" r="4"/><circle cx="1498.5" cy="1885.2" r="4"/><circle cx="1442.9" cy="1868.4" r="4"/><circle cx="1462.1" cy="1792.9" r="4"/><circle cx="1443.5" cy="1873.9" r="4"/><circle cx="1443.6" cy="1863.1" r="4"/><circle cx="1500" cy="1880.9" r="4"/><circle cx="1499.1" cy="1880.3" r="4"/><circle cx="1500" cy="1882.3" r="4"/><circle cx="1496.2" cy="1829.5" r="4"/><circle cx="1475.8" cy="1834.1" r="4"/><circle cx="1446.4" cy="1794" r="4"/><circle cx="1492.2" cy="1784.2" r="4"/><circle cx="1498.4" cy="1887.4" r="4"/><circle cx="1491.6" cy="1835.8" r="4"/><circle cx="1482.3" cy="1798.2" r="4"/><circle cx="1478.3" cy="1771.7" r="4"/><circle cx="1445.8" cy="1839.4" r="4"/><circle cx="1443.3" cy="1854.8" r="4"/><circle cx="1472.1" cy="1757.7" r="4"/><circle cx="1442.4" cy="1889.8" r="4"/><circle cx="1489.5" cy="1786" r="4"/><circle cx="1499.2" cy="1835.7" r="4"/><circle cx="1496.8" cy="1849.8" r="4"/><circle cx="1486.6" cy="1824.2" r="4"/><circle cx="1481.7" cy="1790.4" r="4"/><circle cx="1462.5" cy="1820.7" r="4"/><circle cx="1480.7" cy="1829.7" r="4"/><circle cx="1468.2" cy="1769.2" r="4"/><circle cx="1498.7" cy="1894" r="4"/><circle cx="1478.2" cy="1704.5" r="4"/><circle cx="1452.6" cy="1731.7" r="4"/><circle cx="1455.3" cy="1837.3" r="4"/><circle cx="1496.6" cy="1792.7" r="4"/><circle cx="1466.5" cy="1831.5" r="4"/><circle cx="1444.6" cy="1834.7" r="4"/><circle cx="1496.1" cy="1807.5" r="4"/><circle cx="1443.7" cy="1833.9" r="4"/><circle cx="1442.1" cy="1890.2" r="4"/><circle cx="1461.7" cy="1813" r="4"/><circle cx="1475.9" cy="1772.9" r="4"/><circle cx="1483" cy="1813.7" r="4"/><circle cx="1457.1" cy="1827.1" r="4"/><circle cx="1465.5" cy="1825.4" r="4"/><circle cx="1470.9" cy="1810.6" r="4"/><circle cx="1442.2" cy="1799" r="4"/><circle cx="1475.5" cy="1799.1" r="4"/><circle cx="1476.9" cy="1828.7" r="4"/><circle cx="1499.7" cy="1859.7" r="4"/><circle cx="1500" cy="1872.6" r="4"/><circle cx="1498.9" cy="1838.1" r="4"/><circle cx="1479.1" cy="1822.8" r="4"/><circle cx="1494.1" cy="1816.1" r="4"/><circle cx="1445.7" cy="1834.7" r="4"/><circle cx="1442.5" cy="1878.3" r="4"/><circle cx="1486.9" cy="1806.5" r="4"/><circle cx="1471.5" cy="1819.3" r="4"/><circle cx="1442.8" cy="1842.8" r="4"/><circle cx="1499.8" cy="1843.7" r="4"/><circle cx="1497.2" cy="1803.6" r="4"/><circle cx="1484.3" cy="1821.4" r="4"/><circle cx="1443.8" cy="1804.8" r="4"/><circle cx="1442.7" cy="1885.6" r="4"/><circle cx="1493.3" cy="1777" r="4"/><circle cx="1463.6" cy="1801.2" r="4"/><circle cx="1493.2" cy="1826" r="4"/><circle cx="1484.2" cy="1835.9" r="4"/><circle cx="1446.7" cy="1895.6" r="4"/><circle cx="1498.5" cy="1816.6" r="4"/><circle cx="1463.1" cy="1832.1" r="4"/><circle cx="1593.4" cy="1765.7" r="4"/><circle cx="1599" cy="1761.6" r="4"/><circle cx="1575.3" cy="1869.4" r="4"/><circle cx="1574.8" cy="1871.2" r="4"/><circle cx="1582.5" cy="1799.8" r="4"/><circle cx="1578.8" cy="1766" r="4"/><circle cx="1584.5" cy="1820.3" r="4"/><circle cx="1612.1" cy="1823.5" r="4"/><circle cx="1613.1" cy="1826.9" r="4"/><circle cx="1588.1" cy="1815.3" r="4"/><circle cx="1576.2" cy="1890.4" r="4"/><circle cx="1576.8" cy="1879.2" r="4"/><circle cx="1582.7" cy="1772.7" r="4"/><circle cx="1612.8" cy="1884.7" r="4"/><circle cx="1586.6" cy="1822.7" r="4"/><circle cx="1613.7" cy="1867.6" r="4"/><circle cx="1580.3" cy="1716.5" r="4"/><circle cx="1576.2" cy="1851.7" r="4"/><circle cx="1580.2" cy="1833.9" r="4"/><circle cx="1575.5" cy="1880.4" r="4"/><circle cx="1596.3" cy="1794.2" r="4"/><circle cx="1596.9" cy="1813" r="4"/><circle cx="1613.7" cy="1882.1" r="4"/><circle cx="1615.1" cy="1893.8" r="4"/><circle cx="1596.7" cy="1735.9" r="4"/><circle cx="1613.8" cy="1864.9" r="4"/><circle cx="1613.5" cy="1854.1" r="4"/><circle cx="1579.8" cy="1808.5" r="4"/><circle cx="1613.7" cy="1843.4" r="4"/><circle cx="1601.2" cy="1784" r="4"/><circle cx="1575" cy="1880.8" r="4"/><circle cx="1604.4" cy="1830.1" r="4"/><circle cx="1576.6" cy="1854.8" r="4"/><circle cx="1576.5" cy="1886.6" r="4"/><circle cx="1578.3" cy="1802.3" r="4"/><circle cx="1614.5" cy="1859.4" r="4"/><circle cx="1576.3" cy="1883.2" r="4"/><circle cx="1577.4" cy="1843.8" r="4"/><circle cx="1587.7" cy="1828.4" r="4"/><circle cx="1602.1" cy="1829.6" r="4"/><circle cx="1613" cy="1845.4" r="4"/><circle cx="1597.8" cy="1815.6" r="4"/><circle cx="1614.6" cy="1801.5" r="4"/><circle cx="1604.6" cy="1822.4" r="4"/><circle cx="1601.8" cy="1745.4" r="4"/><circle cx="1615.2" cy="1851.7" r="4"/><circle cx="1592.3" cy="1829.3" r="4"/><circle cx="1575.5" cy="1846.1" r="4"/><circle cx="1604.9" cy="1821.8" r="4"/><circle cx="1588.8" cy="1775.5" r="4"/><circle cx="1599.2" cy="1840.5" r="4"/><circle cx="1613.2" cy="1833.9" r="4"/><circle cx="1615.2" cy="1836.5" r="4"/><circle cx="1614.6" cy="1877.9" r="4"/><circle cx="1593.8" cy="1834.2" r="4"/><circle cx="1576.3" cy="1855.8" r="4"/><circle cx="1603.5" cy="1802.7" r="4"/><circle cx="1575" cy="1863.4" r="4"/><circle cx="1614.7" cy="1889.5" r="4"/><circle cx="1575.5" cy="1819.6" r="4"/><circle cx="1615" cy="1895.3" r="4"/><circle cx="1615.1" cy="1880.4" r="4"/><circle cx="1613.2" cy="1835.7" r="4"/><circle cx="1591.9" cy="1833.7" r="4"/><circle cx="1606.5" cy="1839.6" r="4"/><circle cx="1585" cy="1841.1" r="4"/><circle cx="1576.4" cy="1883.9" r="4"/><circle cx="1585.9" cy="1768.1" r="4"/><circle cx="1582.1" cy="1834.4" r="4"/><circle cx="1585.1" cy="1776.1" r="4"/><circle cx="1594" cy="1842.5" r="4"/><circle cx="1582.9" cy="1808.1" r="4"/><circle cx="1603.3" cy="1820.2" r="4"/><circle cx="1585.8" cy="1841.7" r="4"/><circle cx="1615" cy="1875.8" r="4"/><circle cx="1578.6" cy="1819.7" r="4"/><circle cx="1575.2" cy="1894.5" r="4"/><circle cx="1614.2" cy="1871.1" r="4"/><circle cx="1591.7" cy="1813.7" r="4"/><circle cx="1601.6" cy="1800.4" r="4"/><circle cx="1677.8" cy="1842.6" r="4"/><circle cx="1715.8" cy="1889.6" r="4"/><circle cx="1678.5" cy="1857.7" r="4"/><circle cx="1680.5" cy="1895.2" r="4"/><circle cx="1687.5" cy="1848.2" r="4"/><circle cx="1676.9" cy="1803.8" r="4"/><circle cx="1716.1" cy="1856.4" r="4"/><circle cx="1715.5" cy="1850.2" r="4"/><circle cx="1683.4" cy="1826.7" r="4"/><circle cx="1692.8" cy="1769.1" r="4"/><circle cx="1701.4" cy="1800.2" r="4"/><circle cx="1677.6" cy="1837.4" r="4"/><circle cx="1677.4" cy="1873.2" r="4"/><circle cx="1682.3" cy="1775.1" r="4"/><circle cx="1703.7" cy="1738.5" r="4"/><circle cx="1705.2" cy="1818.6" r="4"/><circle cx="1681.5" cy="1823.4" r="4"/><circle cx="1696.5" cy="1737.3" r="4"/><circle cx="1710.3" cy="1846.6" r="4"/><circle cx="1717.1" cy="1876.9" r="4"/><circle cx="1685.7" cy="1767.3" r="4"/><circle cx="1699.2" cy="1834.8" r="4"/><circle cx="1703.6" cy="1846.3" r="4"/><circle cx="1676.7" cy="1876.3" r="4"/><circle cx="1677.2" cy="1887.5" r="4"/><circle cx="1715.4" cy="1858.8" r="4"/><circle cx="1693.6" cy="1788.3" r="4"/><circle cx="1677.2" cy="1862.3" r="4"/><circle cx="1695.8" cy="1776.3" r="4"/><circle cx="1687.6" cy="1732" r="4"/><circle cx="1702.5" cy="1737.2" r="4"/><circle cx="1716.2" cy="1895.1" r="4"/><circle cx="1678.2" cy="1772.3" r="4"/><circle cx="1712.1" cy="1744.9" r="4"/><circle cx="1717.2" cy="1882.1" r="4"/><circle cx="1717.3" cy="1833" r="4"/><circle cx="1702.7" cy="1814" r="4"/><circle cx="1703.3" cy="1832.2" r="4"/><circle cx="1705.5" cy="1792.2" r="4"/><circle cx="1701.4" cy="1812.6" r="4"/><circle cx="1707.6" cy="1702.2" r="4"/><circle cx="1709.5" cy="1801.8" r="4"/><circle cx="1680.7" cy="1842.3" r="4"/><circle cx="1712.7" cy="1793.5" r="4"/><circle cx="1676.8" cy="1846.9" r="4"/><circle cx="1714.2" cy="1840.2" r="4"/><circle cx="1716.5" cy="1866.7" r="4"/><circle cx="1678.4" cy="1852.2" r="4"/><circle cx="1687.1" cy="1728.6" r="4"/><circle cx="1699.8" cy="1792.7" r="4"/><circle cx="1676.8" cy="1889.7" r="4"/><circle cx="1715.3" cy="1731.7" r="4"/><circle cx="1714.3" cy="1819.8" r="4"/><circle cx="1693.2" cy="1748.9" r="4"/><circle cx="1687.1" cy="1809.7" r="4"/><circle cx="1676.8" cy="1867.2" r="4"/><circle cx="1689.4" cy="1812.8" r="4"/><circle cx="1714.3" cy="1811.2" r="4"/><circle cx="1716.8" cy="1826.1" r="4"/><circle cx="1685.8" cy="1783.2" r="4"/><circle cx="1699.3" cy="1846.4" r="4"/><circle cx="1717.2" cy="1891.6" r="4"/><circle cx="1693" cy="1802.5" r="4"/><circle cx="1676.6" cy="1886.5" r="4"/><circle cx="1677.9" cy="1890.4" r="4"/><circle cx="1713.7" cy="1842.2" r="4"/><circle cx="1697.4" cy="1752.5" r="4"/><circle cx="1702.9" cy="1774.5" r="4"/><circle cx="1694" cy="1811" r="4"/><circle cx="1678.4" cy="1881.4" r="4"/><circle cx="1716.7" cy="1884.6" r="4"/><circle cx="1700.3" cy="1753.8" r="4"/><circle cx="1693.5" cy="1820.6" r="4"/><circle cx="1715.4" cy="1869.5" r="4"/><circle cx="1715.4" cy="1855.1" r="4"/><circle cx="1716.8" cy="1810.2" r="4"/><circle cx="1709.3" cy="1824.7" r="4"/><circle cx="1695" cy="1760.6" r="4"/><circle cx="1678.5" cy="1880.1" r="4"/><circle cx="1690" cy="1756.6" r="4"/><circle cx="1690.8" cy="1834.7" r="4"/><circle cx="1716.8" cy="1884.7" r="4"/><circle cx="1715.3" cy="1874" r="4"/><circle cx="1676.8" cy="1839.3" r="4"/><circle cx="1700.9" cy="1838.8" r="4"/><circle cx="1678.1" cy="1834.6" r="4"/><circle cx="1711.3" cy="1708.2" r="4"/><circle cx="1714.3" cy="1863.9" r="4"/><circle cx="1715.3" cy="1852.1" r="4"/><circle cx="1679.2" cy="1832.8" r="4"/><circle cx="1677.7" cy="1813.5" r="4"/><circle cx="1679.6" cy="1827.8" r="4"/><circle cx="1716.8" cy="1892.1" r="4"/><circle cx="1684.1" cy="1844" r="4"/><circle cx="1678.1" cy="1838.4" r="4"/><circle cx="1792.2" cy="1815" r="4"/><circle cx="1778.1" cy="1828.1" r="4"/><circle cx="1774" cy="1867" r="4"/><circle cx="1796.2" cy="1877.4" r="4"/><circle cx="1793.1" cy="1822" r="4"/><circle cx="1795.4" cy="1762.1" r="4"/><circle cx="1795.9" cy="1844.4" r="4"/><circle cx="1772.5" cy="1887.8" r="4"/><circle cx="1793.4" cy="1811.6" r="4"/><circle cx="1791.7" cy="1787.5" r="4"/><circle cx="1798.5" cy="1892.9" r="4"/><circle cx="1791.9" cy="1767.3" r="4"/><circle cx="1787.2" cy="1828.3" r="4"/><circle cx="1794" cy="1822.7" r="4"/><circle cx="1786.7" cy="1745.5" r="4"/><circle cx="1797.7" cy="1835.9" r="4"/><circle cx="1772" cy="1884.3" r="4"/><circle cx="1778.8" cy="1816.8" r="4"/><circle cx="1772.4" cy="1881.1" r="4"/><circle cx="1798.3" cy="1853.4" r="4"/><circle cx="1781.1" cy="1787.4" r="4"/><circle cx="1788.5" cy="1852.9" r="4"/><circle cx="1795.2" cy="1798.8" r="4"/><circle cx="1795.6" cy="1767.1" r="4"/><circle cx="1783.3" cy="1711.9" r="4"/><circle cx="1796.9" cy="1789.5" r="4"/><circle cx="1798.8" cy="1884.5" r="4"/><circle cx="1799.1" cy="1721.5" r="4"/><circle cx="1798.3" cy="1887.3" r="4"/><circle cx="1790.5" cy="1848.5" r="4"/><circle cx="1772.8" cy="1891.3" r="4"/><circle cx="1773.6" cy="1809.7" r="4"/><circle cx="1791.8" cy="1820.8" r="4"/><circle cx="1798.1" cy="1859.3" r="4"/><circle cx="1773.1" cy="1876.9" r="4"/><circle cx="1794.7" cy="1823.2" r="4"/><circle cx="1772.5" cy="1838.4" r="4"/><circle cx="1798.9" cy="1866.1" r="4"/><circle cx="1775.2" cy="1845.5" r="4"/><circle cx="1777.8" cy="1856.3" r="4"/><circle cx="1773.7" cy="1839.4" r="4"/><circle cx="1782.5" cy="1818.7" r="4"/><circle cx="1774.1" cy="1850.8" r="4"/><circle cx="1772.7" cy="1890" r="4"/><circle cx="1772.6" cy="1874.3" r="4"/><circle cx="1771.9" cy="1872.2" r="4"/><circle cx="1772.9" cy="1848.1" r="4"/><circle cx="1783.5" cy="1804.4" r="4"/><circle cx="1773.4" cy="1863.9" r="4"/><circle cx="1772.4" cy="1792.6" r="4"/><circle cx="1779" cy="1851.6" r="4"/><circle cx="1777.3" cy="1825.4" r="4"/><circle cx="1774.8" cy="1803.1" r="4"/><circle cx="1798.6" cy="1862.8" r="4"/><circle cx="1799.3" cy="1874.6" r="4"/><circle cx="1781.1" cy="1804.2" r="4"/><circle cx="1791.9" cy="1853.1" r="4"/><circle cx="1795.4" cy="1840.2" r="4"/><circle cx="1776.7" cy="1790.3" r="4"/><circle cx="1774.1" cy="1830" r="4"/><circle cx="1798.9" cy="1894.9" r="4"/><circle cx="1788" cy="1806" r="4"/><circle cx="1772.2" cy="1893.2" r="4"/><circle cx="1782.2" cy="1788.6" r="4"/><circle cx="1798.2" cy="1890.8" r="4"/><circle cx="1797.7" cy="1827.8" r="4"/><circle cx="1855" cy="1801.7" r="4"/><circle cx="1873.9" cy="1836.7" r="4"/><circle cx="1868.2" cy="1836.6" r="4"/><circle cx="1873.5" cy="1814" r="4"/><circle cx="1873.2" cy="1889.4" r="4"/><circle cx="1856" cy="1837.7" r="4"/><circle cx="1874.3" cy="1863.4" r="4"/><circle cx="1852.2" cy="1882.5" r="4"/><circle cx="1852.7" cy="1850.9" r="4"/><circle cx="1852.2" cy="1884.9" r="4"/><circle cx="1865.3" cy="1777" r="4"/><circle cx="1872.4" cy="1868.7" r="4"/><circle cx="1874.3" cy="1861.6" r="4"/><circle cx="1852.1" cy="1870.6" r="4"/><circle cx="1852.4" cy="1869.6" r="4"/><circle cx="1861.2" cy="1803.7" r="4"/><circle cx="1860.2" cy="1821.2" r="4"/><circle cx="1873.9" cy="1886.7" r="4"/><circle cx="1852.8" cy="1866.1" r="4"/><circle cx="1858.2" cy="1810" r="4"/><circle cx="1869.8" cy="1798.4" r="4"/><circle cx="1872.1" cy="1801" r="4"/><circle cx="1852.1" cy="1852.7" r="4"/><circle cx="1873.7" cy="1885" r="4"/><circle cx="1864.8" cy="1793.4" r="4"/><circle cx="1852.3" cy="1880.5" r="4"/><circle cx="1873.1" cy="1850" r="4"/><circle cx="1852.2" cy="1853.2" r="4"/><circle cx="1873.6" cy="1891.4" r="4"/><circle cx="1852.2" cy="1745.4" r="4"/><circle cx="1874.3" cy="1882.1" r="4"/><circle cx="1867.8" cy="1828.5" r="4"/><circle cx="1868" cy="1808.2" r="4"/><circle cx="1872.1" cy="1845.1" r="4"/><circle cx="1868.3" cy="1823.6" r="4"/><circle cx="1869.2" cy="1826.6" r="4"/><circle cx="1874" cy="1851.1" r="4"/><circle cx="1852.3" cy="1886" r="4"/><circle cx="1867.9" cy="1782.2" r="4"/><circle cx="1855.9" cy="1831.1" r="4"/><circle cx="1874.1" cy="1863.5" r="4"/><circle cx="1852.7" cy="1875.8" r="4"/><circle cx="1872.8" cy="1870.7" r="4"/><circle cx="1852.9" cy="1861.6" r="4"/><circle cx="1852.6" cy="1881.2" r="4"/><circle cx="1874.2" cy="1875.7" r="4"/><circle cx="1873.2" cy="1854.8" r="4"/><circle cx="1852.4" cy="1892.7" r="4"/><circle cx="1873.8" cy="1893.7" r="4"/><circle cx="1855.1" cy="1828.8" r="4"/><circle cx="1873.7" cy="1841" r="4"/><circle cx="1852.5" cy="1868.3" r="4"/><circle cx="1857.5" cy="1844.8" r="4"/><circle cx="1852.5" cy="1888.9" r="4"/><circle cx="1852.7" cy="1817.8" r="4"/><circle cx="1874.3" cy="1804.8" r="4"/><circle cx="1852.1" cy="1820" r="4"/><circle cx="1872.5" cy="1792.3" r="4"/><circle cx="1858.8" cy="1778.9" r="4"/><circle cx="1872.5" cy="1870.1" r="4"/><circle cx="203.9" cy="1669.3" r="4"/><circle cx="820" cy="1663.1" r="4"/><circle cx="925.7" cy="1668.3" r="4"/><circle cx="925.3" cy="1688.4" r="4"/><circle cx="924.6" cy="1693.3" r="4"/><circle cx="1017.8" cy="1688.1" r="4"/><circle cx="1183.5" cy="1674.9" r="4"/><circle cx="1311.3" cy="1694" r="4"/><circle cx="1604.1" cy="1680.6" r="4"/><circle cx="1622.6" cy="1679.2" r="4"/><circle cx="1689.2" cy="1635.9" r="4"/><circle cx="1711.4" cy="1612.2" r="4"/><circle cx="1772.8" cy="1675.5" r="4"/><circle cx="1806.8" cy="1629.6" r="4"/><circle cx="1871.6" cy="1626.3" r="4"/></g>
<g fill="#0072b2" fill-opacity=".67" stroke="#0072b2" stroke-opacity=".67" stroke-width="1.7"><circle cx="364.7" cy="1764" r="4"/><circle cx="416.7" cy="1828.3" r="4"/><circle cx="393" cy="1805.5" r="4"/><circle cx="413.2" cy="1814" r="4"/><circle cx="341.6" cy="1826.2" r="4"/><circle cx="362.8" cy="1798.5" r="4"/><circle cx="435.1" cy="1810" r="4"/><circle cx="342.3" cy="1844.5" r="4"/><circle cx="420.7" cy="1806.1" r="4"/><circle cx="350.8" cy="1850" r="4"/><circle cx="340" cy="1799.8" r="4"/><circle cx="430" cy="1794.3" r="4"/><circle cx="417.8" cy="1761.5" r="4"/><circle cx="473.1" cy="1850.4" r="4"/><circle cx="344.8" cy="1782.7" r="4"/><circle cx="339.2" cy="1894.5" r="4"/><circle cx="416.9" cy="1775.4" r="4"/><circle cx="384.9" cy="1819.2" r="4"/><circle cx="393.1" cy="1788.8" r="4"/><circle cx="338.4" cy="1891.9" r="4"/><circle cx="374.2" cy="1830.3" r="4"/><circle cx="433.7" cy="1838.2" r="4"/><circle cx="472.6" cy="1868.6" r="4"/><circle cx="456.6" cy="1755.5" r="4"/><circle cx="339.9" cy="1834.3" r="4"/><circle cx="386.1" cy="1812.1" r="4"/><circle cx="419.3" cy="1830.9" r="4"/><circle cx="472.5" cy="1859.6" r="4"/><circle cx="461.2" cy="1814.8" r="4"/><circle cx="374.9" cy="1827.8" r="4"/><circle cx="448.7" cy="1817.4" r="4"/><circle cx="349.7" cy="1848.9" r="4"/><circle cx="367.1" cy="1845.8" r="4"/><circle cx="358.8" cy="1804.6" r="4"/><circle cx="404.7" cy="1840.3" r="4"/><circle cx="438.7" cy="1802.6" r="4"/><circle cx="369.9" cy="1813.7" r="4"/><circle cx="443.3" cy="1758.7" r="4"/><circle cx="413.3" cy="1824.9" r="4"/><circle cx="338.3" cy="1804.1" r="4"/><circle cx="373" cy="1810.6" r="4"/><circle cx="353.5" cy="1767.2" r="4"/><circle cx="412.7" cy="1837.9" r="4"/><circle cx="339.7" cy="1855.2" r="4"/><circle cx="378.7" cy="1802.9" r="4"/><circle cx="468.2" cy="1847.6" r="4"/><circle cx="410.1" cy="1811.8" r="4"/><circle cx="412.7" cy="1799.3" r="4"/><circle cx="474.7" cy="1878.3" r="4"/><circle cx="374.7" cy="1789.9" r="4"/><circle cx="354.2" cy="1800.2" r="4"/><circle cx="401.4" cy="1804.4" r="4"/><circle cx="340.1" cy="1849.6" r="4"/><circle cx="454.9" cy="1814.3" r="4"/><circle cx="376.4" cy="1800.3" r="4"/><circle cx="353.1" cy="1836.3" r="4"/><circle cx="368.7" cy="1800.2" r="4"/><circle cx="430" cy="1819.7" r="4"/><circle cx="340.7" cy="1809.1" r="4"/><circle cx="364.6" cy="1792" r="4"/><circle cx="341.9" cy="1869.1" r="4"/><circle cx="403" cy="1719.6" r="4"/><circle cx="418.5" cy="1753.9" r="4"/><circle cx="368.6" cy="1794.2" r="4"/><circle cx="391" cy="1823.9" r="4"/><circle cx="340" cy="1876.3" r="4"/><circle cx="423.6" cy="1809.9" r="4"/><circle cx="338.1" cy="1796.5" r="4"/><circle cx="462.3" cy="1727.4" r="4"/><circle cx="371" cy="1820.5" r="4"/><circle cx="338.4" cy="1861.5" r="4"/><circle cx="346.2" cy="1790.3" r="4"/><circle cx="402.7" cy="1827.9" r="4"/><circle cx="376.7" cy="1736.3" r="4"/><circle cx="459.1" cy="1847.4" r="4"/><circle cx="474.3" cy="1880.1" r="4"/><circle cx="375.2" cy="1812.2" r="4"/><circle cx="380.1" cy="1842.4" r="4"/><circle cx="460.1" cy="1830.5" r="4"/><circle cx="341.5" cy="1867.4" r="4"/><circle cx="452.3" cy="1841.2" r="4"/><circle cx="401.9" cy="1820.2" r="4"/><circle cx="430.1" cy="1792.2" r="4"/><circle cx="463" cy="1736.9" r="4"/><circle cx="354.7" cy="1828" r="4"/><circle cx="473.8" cy="1888.9" r="4"/><circle cx="457.3" cy="1826.7" r="4"/><circle cx="338.3" cy="1887.3" r="4"/><circle cx="472.9" cy="1887.1" r="4"/><circle cx="338.2" cy="1881.9" r="4"/><circle cx="362.7" cy="1763.2" r="4"/><circle cx="462.5" cy="1713.6" r="4"/><circle cx="442.9" cy="1802" r="4"/><circle cx="372.5" cy="1823.8" r="4"/><circle cx="378" cy="1804.4" r="4"/><circle cx="446.1" cy="1784.9" r="4"/><circle cx="344.1" cy="1841.9" r="4"/><circle cx="340.5" cy="1796" r="4"/><circle cx="342.6" cy="1787.1" r="4"/><circle cx="431.6" cy="1754.7" r="4"/><circle cx="414.8" cy="1818.5" r="4"/><circle cx="355.1" cy="1852.8" r="4"/><circle cx="365" cy="1853.1" r="4"/><circle cx="465.6" cy="1803" r="4"/><circle cx="363.6" cy="1793.2" r="4"/><circle cx="415.3" cy="1792.5" r="4"/><circle cx="338.7" cy="1740.5" r="4"/><circle cx="343.1" cy="1843.3" r="4"/><circle cx="472.1" cy="1852.3" r="4"/><circle cx="471.5" cy="1812.3" r="4"/><circle cx="360.2" cy="1743" r="4"/><circle cx="370.5" cy="1843.4" r="4"/><circle cx="458.9" cy="1843.5" r="4"/><circle cx="465.2" cy="1781.7" r="4"/><circle cx="400.3" cy="1708.2" r="4"/><circle cx="418.3" cy="1709.9" r="4"/><circle cx="388.3" cy="1833.6" r="4"/><circle cx="425.6" cy="1823.3" r="4"/><circle cx="457.4" cy="1841.1" r="4"/><circle cx="467.8" cy="1848" r="4"/><circle cx="387.5" cy="1828.5" r="4"/><circle cx="420.4" cy="1785.9" r="4"/><circle cx="440" cy="1844.9" r="4"/><circle cx="453.3" cy="1823.7" r="4"/><circle cx="350.5" cy="1772.8" r="4"/><circle cx="366.2" cy="1789.1" r="4"/><circle cx="430.3" cy="1822.5" r="4"/><circle cx="422.1" cy="1836.8" r="4"/><circle cx="435" cy="1831.5" r="4"/><circle cx="357.1" cy="1809.6" r="4"/><circle cx="473.6" cy="1874.2" r="4"/><circle cx="367.7" cy="1841.5" r="4"/><circle cx="450.2" cy="1795.8" r="4"/><circle cx="409.4" cy="1759.5" r="4"/><circle cx="472.6" cy="1842.7" r="4"/><circle cx="350.2" cy="1704.4" r="4"/><circle cx="344.5" cy="1803.7" r="4"/><circle cx="371.3" cy="1834.9" r="4"/><circle cx="379.9" cy="1837.7" r="4"/><circle cx="384.3" cy="1831.9" r="4"/><circle cx="361.8" cy="1826.5" r="4"/><circle cx="391.9" cy="1758.5" r="4"/><circle cx="338.5" cy="1852.6" r="4"/><circle cx="440.4" cy="1824.8" r="4"/><circle cx="466.7" cy="1834.9" r="4"/><circle cx="446.2" cy="1832.6" r="4"/><circle cx="358.7" cy="1841.1" r="4"/><circle cx="372.7" cy="1821.9" r="4"/><circle cx="442.4" cy="1773.8" r="4"/><circle cx="375.7" cy="1746.8" r="4"/><circle cx="340.1" cy="1831.7" r="4"/><circle cx="443" cy="1772.3" r="4"/><circle cx="472.3" cy="1869.7" r="4"/><circle cx="350.5" cy="1841.7" r="4"/><circle cx="386.5" cy="1815.8" r="4"/><circle cx="403.6" cy="1831.9" r="4"/><circle cx="378.5" cy="1809.4" r="4"/><circle cx="413.8" cy="1831.6" r="4"/><circle cx="339.1" cy="1820.5" r="4"/><circle cx="415" cy="1807.9" r="4"/><circle cx="338.2" cy="1881.4" r="4"/><circle cx="378.9" cy="1844.1" r="4"/><circle cx="369.1" cy="1835.1" r="4"/><circle cx="429.7" cy="1828.6" r="4"/><circle cx="361" cy="1815" r="4"/><circle cx="340.2" cy="1865.1" r="4"/><circle cx="385.1" cy="1817.6" r="4"/><circle cx="474.7" cy="1833.9" r="4"/><circle cx="346.1" cy="1777.2" r="4"/><circle cx="471.9" cy="1863.4" r="4"/><circle cx="397.7" cy="1825.7" r="4"/><circle cx="463.6" cy="1829.3" r="4"/><circle cx="346.1" cy="1817.9" r="4"/><circle cx="338.3" cy="1877.4" r="4"/><circle cx="430.4" cy="1829.5" r="4"/><circle cx="473.9" cy="1827.2" r="4"/><circle cx="347.9" cy="1808.9" r="4"/><circle cx="474.4" cy="1894.1" r="4"/><circle cx="436.5" cy="1820.8" r="4"/><circle cx="421.8" cy="1812.2" r="4"/><circle cx="445.2" cy="1832.4" r="4"/><circle cx="343.8" cy="1792.5" r="4"/><circle cx="452.3" cy="1722.2" r="4"/><circle cx="470.9" cy="1804.4" r="4"/><circle cx="420" cy="1820" r="4"/><circle cx="457.2" cy="1749.2" r="4"/><circle cx="474" cy="1892" r="4"/><circle cx="450.7" cy="1842.7" r="4"/><circle cx="471.9" cy="1853.6" r="4"/><circle cx="641.8" cy="1848.7" r="4"/><circle cx="656.2" cy="1812.4" r="4"/><circle cx="652.1" cy="1827.9" r="4"/><circle cx="661.2" cy="1785.5" r="4"/><circle cx="628.2" cy="1819.1" r="4"/><circle cx="641.7" cy="1788.6" r="4"/><circle cx="706.3" cy="1878.3" r="4"/><circle cx="650.4" cy="1852.9" r="4"/><circle cx="670" cy="1851.6" r="4"/><circle cx="701" cy="1847.8" r="4"/><circle cx="600.2" cy="1889.9" r="4"/><circle cx="700.1" cy="1820.5" r="4"/><circle cx="634.4" cy="1842.3" r="4"/><circle cx="608" cy="1810.3" r="4"/><circle cx="668.8" cy="1804" r="4"/><circle cx="695.5" cy="1817.7" r="4"/><circle cx="697" cy="1784.8" r="4"/><circle cx="646.7" cy="1802.5" r="4"/><circle cx="601.1" cy="1880.6" r="4"/><circle cx="701.1" cy="1836.6" r="4"/><circle cx="639.9" cy="1809.6" r="4"/><circle cx="690.4" cy="1861.6" r="4"/><circle cx="682.8" cy="1750.7" r="4"/><circle cx="690.4" cy="1820.7" r="4"/><circle cx="654.8" cy="1811.6" r="4"/><circle cx="696.5" cy="1801.8" r="4"/><circle cx="704.2" cy="1776.8" r="4"/><circle cx="677.3" cy="1805.4" r="4"/><circle cx="600.7" cy="1819.6" r="4"/><circle cx="605.2" cy="1828.1" r="4"/><circle cx="601.8" cy="1884.2" r="4"/><circle cx="706.4" cy="1884.2" r="4"/><circle cx="694.3" cy="1852.1" r="4"/><circle cx="694.2" cy="1800.5" r="4"/><circle cx="602.9" cy="1846.9" r="4"/><circle cx="625.9" cy="1803.5" r="4"/><circle cx="602.1" cy="1891.1" r="4"/><circle cx="699.2" cy="1716.5" r="4"/><circle cx="622.1" cy="1801.2" r="4"/><circle cx="657.6" cy="1712" r="4"/><circle cx="630.9" cy="1807.2" r="4"/><circle cx="601.8" cy="1860.4" r="4"/><circle cx="620.9" cy="1805.3" r="4"/><circle cx="636.7" cy="1792.5" r="4"/><circle cx="604.5" cy="1870.7" r="4"/><circle cx="602.1" cy="1866" r="4"/><circle cx="649.4" cy="1846.9" r="4"/><circle cx="638.4" cy="1754.2" r="4"/><circle cx="601.7" cy="1878.5" r="4"/><circle cx="683.7" cy="1806.2" r="4"/><circle cx="706.3" cy="1763.9" r="4"/><circle cx="699.7" cy="1823.3" r="4"/><circle cx="665.7" cy="1857" r="4"/><circle cx="667.6" cy="1822" r="4"/><circle cx="685.9" cy="1814.6" r="4"/><circle cx="641.9" cy="1823.3" r="4"/><circle cx="688.4" cy="1810.8" r="4"/><circle cx="695.6" cy="1827.6" r="4"/><circle cx="680.5" cy="1832.9" r="4"/><circle cx="615.4" cy="1867.6" r="4"/><circle cx="600.2" cy="1852.3" r="4"/><circle cx="657.6" cy="1840.9" r="4"/><circle cx="659" cy="1811.6" r="4"/><circle cx="600.8" cy="1856.1" r="4"/><circle cx="621.6" cy="1834.3" r="4"/><circle cx="633.7" cy="1830.2" r="4"/><circle cx="601.4" cy="1875.8" r="4"/><circle cx="651" cy="1740.6" r="4"/><circle cx="700.2" cy="1719.7" r="4"/><circle cx="700.9" cy="1730.1" r="4"/><circle cx="673" cy="1831.8" r="4"/><circle cx="676.8" cy="1761" r="4"/><circle cx="649.9" cy="1836.9" r="4"/><circle cx="607.1" cy="1840.1" r="4"/><circle cx="704.3" cy="1861.6" r="4"/><circle cx="706.3" cy="1894.2" r="4"/><circle cx="609.4" cy="1819.5" r="4"/><circle cx="693.9" cy="1783.5" r="4"/><circle cx="601.5" cy="1885.7" r="4"/><circle cx="647.3" cy="1799.6" r="4"/><circle cx="614.4" cy="1798.6" r="4"/><circle cx="696.1" cy="1848.4" r="4"/><circle cx="679.3" cy="1790.4" r="4"/><circle cx="673" cy="1819.8" r="4"/><circle cx="671.6" cy="1808.4" r="4"/><circle cx="630.3" cy="1791.3" r="4"/><circle cx="638.3" cy="1792.4" r="4"/><circle cx="630.3" cy="1818.3" r="4"/><circle cx="650.4" cy="1853.4" r="4"/><circle cx="706.1" cy="1893.7" r="4"/><circle cx="635" cy="1808.4" r="4"/><circle cx="641.4" cy="1828.2" r="4"/><circle cx="628.3" cy="1818.5" r="4"/><circle cx="600.4" cy="1759.7" r="4"/><circle cx="609" cy="1790" r="4"/><circle cx="604.7" cy="1795.5" r="4"/><circle cx="655" cy="1739.8" r="4"/><circle cx="607.8" cy="1793.5" r="4"/><circle cx="674" cy="1756.2" r="4"/><circle cx="654.7" cy="1818.1" r="4"/><circle cx="657.4" cy="1823.4" r="4"/><circle cx="603.8" cy="1783.2" r="4"/><circle cx="605.8" cy="1834.4" r="4"/><circle cx="653.8" cy="1762.6" r="4"/><circle cx="630" cy="1813.8" r="4"/><circle cx="610.2" cy="1829.5" r="4"/><circle cx="619.3" cy="1810.9" r="4"/><circle cx="607.1" cy="1785.5" r="4"/><circle cx="703.9" cy="1822.9" r="4"/><circle cx="694.3" cy="1833.3" r="4"/><circle cx="625.1" cy="1773.5" r="4"/><circle cx="624.5" cy="1868.2" r="4"/><circle cx="604.7" cy="1700.4" r="4"/><circle cx="701.2" cy="1844.2" r="4"/><circle cx="639" cy="1836.5" r="4"/><circle cx="663" cy="1797.5" r="4"/><circle cx="659.6" cy="1849.3" r="4"/><circle cx="693.3" cy="1769.9" r="4"/><circle cx="657.1" cy="1774.6" r="4"/><circle cx="625.2" cy="1844.5" r="4"/><circle cx="647" cy="1817.2" r="4"/><circle cx="701.5" cy="1811.2" r="4"/><circle cx="603.6" cy="1895.1" r="4"/><circle cx="675.9" cy="1790.9" r="4"/><circle cx="652" cy="1783.8" r="4"/><circle cx="634" cy="1712.4" r="4"/><circle cx="617.8" cy="1736.9" r="4"/><circle cx="705.1" cy="1859.2" r="4"/><circle cx="701.2" cy="1797.9" r="4"/><circle cx="705.6" cy="1889.4" r="4"/><circle cx="612.5" cy="1773.1" r="4"/><circle cx="613" cy="1822.5" r="4"/><circle cx="706.3" cy="1875.6" r="4"/><circle cx="665" cy="1825.5" r="4"/><circle cx="602.1" cy="1844.8" r="4"/><circle cx="601.6" cy="1858.3" r="4"/><circle cx="691.3" cy="1790" r="4"/><circle cx="692.1" cy="1809.8" r="4"/><circle cx="706.3" cy="1895.1" r="4"/><circle cx="657.8" cy="1852.5" r="4"/><circle cx="639.1" cy="1744.2" r="4"/><circle cx="601" cy="1862.9" r="4"/><circle cx="705.7" cy="1869.8" r="4"/><circle cx="641.4" cy="1823" r="4"/><circle cx="625.6" cy="1842.3" r="4"/><circle cx="610.8" cy="1825.4" r="4"/><circle cx="683.2" cy="1813.3" r="4"/><circle cx="703.6" cy="1834.7" r="4"/><circle cx="620.7" cy="1817.2" r="4"/><circle cx="703.4" cy="1789.9" r="4"/><circle cx="704.8" cy="1856.5" r="4"/><circle cx="660.7" cy="1765.7" r="4"/><circle cx="698" cy="1726.3" r="4"/><circle cx="660.1" cy="1703" r="4"/><circle cx="674.9" cy="1846.4" r="4"/><circle cx="651.1" cy="1797" r="4"/><circle cx="601.3" cy="1881.6" r="4"/><circle cx="656.2" cy="1780.8" r="4"/><circle cx="666.4" cy="1846.1" r="4"/><circle cx="686.9" cy="1818.1" r="4"/><circle cx="609.1" cy="1836.5" r="4"/><circle cx="613.5" cy="1797.4" r="4"/><circle cx="706" cy="1879.1" r="4"/><circle cx="659.7" cy="1771.5" r="4"/><circle cx="601.3" cy="1875.1" r="4"/><circle cx="687.3" cy="1824.1" r="4"/><circle cx="660.1" cy="1803.7" r="4"/><circle cx="694.3" cy="1832.8" r="4"/><circle cx="615.3" cy="1840.7" r="4"/><circle cx="693.5" cy="1804.9" r="4"/><circle cx="622.7" cy="1752.6" r="4"/><circle cx="703.9" cy="1830.7" r="4"/><circle cx="829.1" cy="1826.5" r="4"/><circle cx="908.4" cy="1773.5" r="4"/><circle cx="914.4" cy="1868.6" r="4"/><circle cx="821.8" cy="1878.3" r="4"/><circle cx="875" cy="1719.8" r="4"/><circle cx="860.2" cy="1802.6" r="4"/><circle cx="825.1" cy="1759.5" r="4"/><circle cx="910.9" cy="1785.9" r="4"/><circle cx="901.5" cy="1722.4" r="4"/><circle cx="824.5" cy="1843.3" r="4"/><circle cx="914.2" cy="1878.5" r="4"/><circle cx="897" cy="1826.5" r="4"/><circle cx="824" cy="1890.2" r="4"/><circle cx="914.4" cy="1894.5" r="4"/><circle cx="849.8" cy="1812.9" r="4"/><circle cx="873.2" cy="1828.9" r="4"/><circle cx="907.7" cy="1836.5" r="4"/><circle cx="854.1" cy="1825.7" r="4"/><circle cx="844" cy="1818.7" r="4"/><circle cx="895.3" cy="1803" r="4"/><circle cx="878.4" cy="1824.9" r="4"/><circle cx="852.9" cy="1795.9" r="4"/><circle cx="873.4" cy="1809.8" r="4"/><circle cx="823.2" cy="1842.1" r="4"/><circle cx="913.5" cy="1871" r="4"/><circle cx="887.4" cy="1827.4" r="4"/><circle cx="837.5" cy="1784.7" r="4"/><circle cx="823.8" cy="1895.2" r="4"/><circle cx="823.9" cy="1894.3" r="4"/><circle cx="910.5" cy="1810.6" r="4"/><circle cx="887.3" cy="1834.8" r="4"/><circle cx="909.9" cy="1817" r="4"/><circle cx="910.6" cy="1828.2" r="4"/><circle cx="822.4" cy="1856.4" r="4"/><circle cx="865.3" cy="1823.7" r="4"/><circle cx="823.7" cy="1889.4" r="4"/><circle cx="881.4" cy="1833.3" r="4"/><circle cx="821.8" cy="1843.9" r="4"/><circle cx="822.4" cy="1807" r="4"/><circle cx="839.1" cy="1798.1" r="4"/><circle cx="841.2" cy="1737.8" r="4"/><circle cx="907.7" cy="1808.7" r="4"/><circle cx="888.4" cy="1801.7" r="4"/><circle cx="835.2" cy="1826.1" r="4"/><circle cx="902.1" cy="1826.6" r="4"/><circle cx="856.5" cy="1793.7" r="4"/><circle cx="856.5" cy="1851" r="4"/><circle cx="822.5" cy="1849.7" r="4"/><circle cx="822.1" cy="1863.6" r="4"/><circle cx="860.5" cy="1809.1" r="4"/><circle cx="868.5" cy="1739.5" r="4"/><circle cx="845.2" cy="1821.6" r="4"/><circle cx="842.3" cy="1782.4" r="4"/><circle cx="915.4" cy="1884.9" r="4"/><circle cx="835.7" cy="1810.7" r="4"/><circle cx="896" cy="1818.8" r="4"/><circle cx="828.4" cy="1773.5" r="4"/><circle cx="846.4" cy="1713.1" r="4"/><circle cx="861.7" cy="1827.3" r="4"/><circle cx="892.1" cy="1800.3" r="4"/><circle cx="865.6" cy="1852" r="4"/><circle cx="822.9" cy="1886.8" r="4"/><circle cx="825.2" cy="1835.1" r="4"/><circle cx="915.4" cy="1855" r="4"/><circle cx="838.9" cy="1820.4" r="4"/><circle cx="827.8" cy="1795.3" r="4"/><circle cx="824.3" cy="1870.5" r="4"/><circle cx="914.1" cy="1877.3" r="4"/><circle cx="830.5" cy="1818.7" r="4"/><circle cx="845.9" cy="1829.5" r="4"/><circle cx="913.9" cy="1847" r="4"/><circle cx="913.3" cy="1875.7" r="4"/><circle cx="832.1" cy="1763.8" r="4"/><circle cx="911.9" cy="1825.7" r="4"/><circle cx="856.5" cy="1821.9" r="4"/><circle cx="831.1" cy="1763.5" r="4"/><circle cx="876.3" cy="1780" r="4"/><circle cx="909.2" cy="1799.7" r="4"/><circle cx="908.9" cy="1770.1" r="4"/><circle cx="860.4" cy="1833.2" r="4"/><circle cx="914.2" cy="1890.4" r="4"/><circle cx="848.3" cy="1782.6" r="4"/><circle cx="879.8" cy="1803.9" r="4"/><circle cx="907.2" cy="1801.5" r="4"/><circle cx="830.3" cy="1787.7" r="4"/><circle cx="913.2" cy="1852.6" r="4"/><circle cx="861.1" cy="1820.5" r="4"/><circle cx="824.3" cy="1883.4" r="4"/><circle cx="870.8" cy="1754.6" r="4"/><circle cx="849.3" cy="1772" r="4"/><circle cx="892.7" cy="1811.9" r="4"/><circle cx="912.9" cy="1857.6" r="4"/><circle cx="828.9" cy="1833.9" r="4"/><circle cx="823.8" cy="1818.4" r="4"/><circle cx="895.9" cy="1759.4" r="4"/><circle cx="821.9" cy="1873.6" r="4"/><circle cx="876.7" cy="1808.6" r="4"/><circle cx="913.2" cy="1808.5" r="4"/><circle cx="880.3" cy="1832.6" r="4"/><circle cx="869.2" cy="1821.1" r="4"/><circle cx="847.9" cy="1798.3" r="4"/><circle cx="868.8" cy="1847.2" r="4"/><circle cx="910.5" cy="1782.3" r="4"/><circle cx="895.7" cy="1755.6" r="4"/><circle cx="856.4" cy="1820.5" r="4"/><circle cx="914.2" cy="1893.6" r="4"/><circle cx="826.7" cy="1760.6" r="4"/><circle cx="915" cy="1827.2" r="4"/><circle cx="862.6" cy="1805" r="4"/><circle cx="870.3" cy="1811" r="4"/><circle cx="873.9" cy="1812.8" r="4"/><circle cx="886.5" cy="1837.8" r="4"/><circle cx="909.7" cy="1830.8" r="4"/><circle cx="856.1" cy="1784.8" r="4"/><circle cx="861" cy="1834.5" r="4"/><circle cx="871.8" cy="1844" r="4"/><circle cx="894.5" cy="1764.1" r="4"/><circle cx="889" cy="1821" r="4"/><circle cx="823.9" cy="1835.5" r="4"/><circle cx="906.2" cy="1710.8" r="4"/><circle cx="840.6" cy="1818.1" r="4"/><circle cx="885.3" cy="1791.4" r="4"/><circle cx="884.8" cy="1805" r="4"/><circle cx="899.5" cy="1823.2" r="4"/><circle cx="872.2" cy="1796.4" r="4"/><circle cx="883.2" cy="1765.8" r="4"/><circle cx="892.5" cy="1765.5" r="4"/><circle cx="865.8" cy="1838.5" r="4"/><circle cx="830.8" cy="1824.7" r="4"/><circle cx="915.2" cy="1865.6" r="4"/><circle cx="888.1" cy="1815.4" r="4"/><circle cx="860.9" cy="1842.6" r="4"/><circle cx="913.4" cy="1840.7" r="4"/><circle cx="869.6" cy="1778.2" r="4"/><circle cx="911.2" cy="1746.9" r="4"/><circle cx="834.8" cy="1838.8" r="4"/><circle cx="866.3" cy="1776.7" r="4"/><circle cx="883.2" cy="1844.6" r="4"/><circle cx="897.1" cy="1828.8" r="4"/><circle cx="863.8" cy="1776.1" r="4"/><circle cx="886.3" cy="1829.6" r="4"/><circle cx="899" cy="1778.5" r="4"/><circle cx="914.2" cy="1889.6" r="4"/><circle cx="856.1" cy="1847.2" r="4"/><circle cx="1070.6" cy="1824.9" r="4"/><circle cx="1072.9" cy="1853.7" r="4"/><circle cx="1019.1" cy="1863.2" r="4"/><circle cx="1019" cy="1860.4" r="4"/><circle cx="1019.9" cy="1849" r="4"/><circle cx="1096.7" cy="1833.8" r="4"/><circle cx="1060.3" cy="1815.8" r="4"/><circle cx="1054.4" cy="1830" r="4"/><circle cx="1081.9" cy="1794.2" r="4"/><circle cx="1019.4" cy="1841.7" r="4"/><circle cx="1074.1" cy="1816.3" r="4"/><circle cx="1050.4" cy="1741.1" r="4"/><circle cx="1096.5" cy="1884.3" r="4"/><circle cx="1022.4" cy="1807.2" r="4"/><circle cx="1020.3" cy="1869" r="4"/><circle cx="1090.3" cy="1814.6" r="4"/><circle cx="1074.9" cy="1812.8" r="4"/><circle cx="1018.9" cy="1860.2" r="4"/><circle cx="1031.4" cy="1792.7" r="4"/><circle cx="1053" cy="1839.3" r="4"/><circle cx="1035.2" cy="1781.7" r="4"/><circle cx="1018.7" cy="1889.8" r="4"/><circle cx="1038.3" cy="1847.1" r="4"/><circle cx="1087.6" cy="1795" r="4"/><circle cx="1018.7" cy="1879.1" r="4"/><circle cx="1018.8" cy="1865.6" r="4"/><circle cx="1026.7" cy="1843.7" r="4"/><circle cx="1067.8" cy="1751.3" r="4"/><circle cx="1062.6" cy="1829.6" r="4"/><circle cx="1069.2" cy="1810.5" r="4"/><circle cx="1021.7" cy="1791.6" r="4"/><circle cx="1054.2" cy="1810.2" r="4"/><circle cx="1043.2" cy="1769.3" r="4"/><circle cx="1019.8" cy="1894.2" r="4"/><circle cx="1053.2" cy="1822.2" r="4"/><circle cx="1069.2" cy="1837.8" r="4"/><circle cx="1021.1" cy="1783.3" r="4"/><circle cx="1019.4" cy="1884.1" r="4"/><circle cx="1031.9" cy="1810.4" r="4"/><circle cx="1095.9" cy="1895.3" r="4"/><circle cx="1072.4" cy="1828.4" r="4"/><circle cx="1097.3" cy="1874" r="4"/><circle cx="1096.3" cy="1883.1" r="4"/><circle cx="1026.1" cy="1824.9" r="4"/><circle cx="1020" cy="1776.6" r="4"/><circle cx="1023.1" cy="1838.8" r="4"/><circle cx="1078.1" cy="1802.1" r="4"/><circle cx="1060.4" cy="1804.2" r="4"/><circle cx="1019.8" cy="1894.2" r="4"/><circle cx="1041.4" cy="1800.8" r="4"/><circle cx="1094.8" cy="1765.8" r="4"/><circle cx="1097.3" cy="1859.1" r="4"/><circle cx="1088.9" cy="1821.6" r="4"/><circle cx="1038.7" cy="1835.4" r="4"/><circle cx="1071.6" cy="1833.3" r="4"/><circle cx="1096" cy="1882" r="4"/><circle cx="1082.3" cy="1821" r="4"/><circle cx="1019.5" cy="1827" r="4"/><circle cx="1069.6" cy="1800.5" r="4"/><circle cx="1096.9" cy="1855.7" r="4"/><circle cx="1019.5" cy="1880.9" r="4"/><circle cx="1095.3" cy="1785.5" r="4"/><circle cx="1045" cy="1815" r="4"/><circle cx="1072.9" cy="1783.5" r="4"/><circle cx="1053.8" cy="1711.4" r="4"/><circle cx="1025.1" cy="1832.3" r="4"/><circle cx="1094.1" cy="1832.2" r="4"/><circle cx="1018.9" cy="1890.1" r="4"/><circle cx="1097.3" cy="1876.5" r="4"/><circle cx="1096.4" cy="1841.3" r="4"/><circle cx="1061.2" cy="1772.2" r="4"/><circle cx="1028.6" cy="1834" r="4"/><circle cx="1046.2" cy="1841.6" r="4"/><circle cx="1056.8" cy="1734.1" r="4"/><circle cx="1095.4" cy="1866.9" r="4"/><circle cx="1064.5" cy="1855.8" r="4"/><circle cx="1022.7" cy="1710" r="4"/><circle cx="1089.5" cy="1851.3" r="4"/><circle cx="1096.5" cy="1822.5" r="4"/><circle cx="1033.6" cy="1807.4" r="4"/><circle cx="1063.6" cy="1777.4" r="4"/><circle cx="1040.3" cy="1816.5" r="4"/><circle cx="1069.6" cy="1804.8" r="4"/><circle cx="1097" cy="1891.2" r="4"/><circle cx="1096.3" cy="1814.5" r="4"/><circle cx="1076.3" cy="1847.5" r="4"/><circle cx="1092.3" cy="1844.8" r="4"/><circle cx="1044.9" cy="1819.4" r="4"/><circle cx="1092.5" cy="1760.6" r="4"/><circle cx="1039.7" cy="1827.3" r="4"/><circle cx="1061.1" cy="1835.3" r="4"/><circle cx="1060.4" cy="1775.1" r="4"/><circle cx="1063.4" cy="1823.6" r="4"/><circle cx="1056.7" cy="1777.6" r="4"/><circle cx="1039.8" cy="1813.6" r="4"/><circle cx="1060.6" cy="1811.8" r="4"/><circle cx="1029.9" cy="1707.3" r="4"/><circle cx="1019.2" cy="1892.8" r="4"/><circle cx="1093" cy="1782.4" r="4"/><circle cx="1093.8" cy="1825.5" r="4"/><circle cx="1021.5" cy="1876.1" r="4"/><circle cx="1032.9" cy="1798.2" r="4"/><circle cx="1033.1" cy="1779.7" r="4"/><circle cx="1047.2" cy="1799.7" r="4"/><circle cx="1095.9" cy="1887.9" r="4"/><circle cx="1035.5" cy="1840.3" r="4"/><circle cx="1064.7" cy="1795" r="4"/><circle cx="1097" cy="1891.5" r="4"/><circle cx="1018.6" cy="1843.2" r="4"/><circle cx="1096.5" cy="1843.1" r="4"/><circle cx="1045.5" cy="1770.4" r="4"/><circle cx="1075.6" cy="1814.6" r="4"/><circle cx="1040.2" cy="1803.3" r="4"/><circle cx="1053.7" cy="1813.4" r="4"/><circle cx="1077.4" cy="1803.6" r="4"/><circle cx="1021.4" cy="1857.5" r="4"/><circle cx="1041.1" cy="1831.4" r="4"/><circle cx="1020.5" cy="1757" r="4"/><circle cx="1067.2" cy="1846.5" r="4"/><circle cx="1023.4" cy="1839.1" r="4"/><circle cx="1022.1" cy="1855.3" r="4"/><circle cx="1032.9" cy="1764.5" r="4"/><circle cx="1031.1" cy="1715.7" r="4"/><circle cx="1089.6" cy="1851.8" r="4"/><circle cx="1068.2" cy="1819.7" r="4"/><circle cx="1078.9" cy="1771.2" r="4"/><circle cx="1030" cy="1807.5" r="4"/><circle cx="1084.1" cy="1810.5" r="4"/><circle cx="1095.7" cy="1797.1" r="4"/><circle cx="1073.9" cy="1839.8" r="4"/><circle cx="1029.5" cy="1816.9" r="4"/><circle cx="1030" cy="1826.9" r="4"/><circle cx="1089" cy="1811.7" r="4"/><circle cx="1060.9" cy="1832.3" r="4"/><circle cx="1262" cy="1876.7" r="4"/><circle cx="1250.4" cy="1840.5" r="4"/><circle cx="1242" cy="1822.2" r="4"/><circle cx="1250.8" cy="1767.3" r="4"/><circle cx="1239" cy="1802" r="4"/><circle cx="1191.2" cy="1867.1" r="4"/><circle cx="1210" cy="1792.2" r="4"/><circle cx="1260.4" cy="1868.1" r="4"/><circle cx="1259.3" cy="1864.3" r="4"/><circle cx="1260" cy="1883.7" r="4"/><circle cx="1198.3" cy="1827.8" r="4"/><circle cx="1220" cy="1815.3" r="4"/><circle cx="1190.5" cy="1841" r="4"/><circle cx="1234.4" cy="1840.8" r="4"/><circle cx="1199.9" cy="1817.8" r="4"/><circle cx="1189.3" cy="1858.5" r="4"/><circle cx="1252.6" cy="1805.8" r="4"/><circle cx="1224.1" cy="1832.8" r="4"/><circle cx="1217" cy="1823.1" r="4"/><circle cx="1204.5" cy="1801.1" r="4"/><circle cx="1240.4" cy="1810.3" r="4"/><circle cx="1219.3" cy="1749.3" r="4"/><circle cx="1223.4" cy="1787.9" r="4"/><circle cx="1209.8" cy="1810.3" r="4"/><circle cx="1203.1" cy="1741.2" r="4"/><circle cx="1243.5" cy="1829.1" r="4"/><circle cx="1244.1" cy="1754.5" r="4"/><circle cx="1221.4" cy="1826.5" r="4"/><circle cx="1261.7" cy="1873.1" r="4"/><circle cx="1259.6" cy="1842.9" r="4"/><circle cx="1189.6" cy="1837.2" r="4"/><circle cx="1252.1" cy="1797.1" r="4"/><circle cx="1253.6" cy="1812.3" r="4"/><circle cx="1229.1" cy="1776.8" r="4"/><circle cx="1235.9" cy="1817" r="4"/><circle cx="1189.1" cy="1891.5" r="4"/><circle cx="1190.1" cy="1848.3" r="4"/><circle cx="1190.4" cy="1885.2" r="4"/><circle cx="1240.6" cy="1811.4" r="4"/><circle cx="1230.4" cy="1827.4" r="4"/><circle cx="1260.3" cy="1880.6" r="4"/><circle cx="1190.5" cy="1875.6" r="4"/><circle cx="1238.9" cy="1774.5" r="4"/><circle cx="1190.1" cy="1876.7" r="4"/><circle cx="1228.1" cy="1840.8" r="4"/><circle cx="1260.6" cy="1889.5" r="4"/><circle cx="1193.8" cy="1840" r="4"/><circle cx="1214.4" cy="1808.2" r="4"/><circle cx="1209.8" cy="1831.1" r="4"/><circle cx="1260" cy="1866" r="4"/><circle cx="1233.5" cy="1805.9" r="4"/><circle cx="1228.4" cy="1807.8" r="4"/><circle cx="1240.3" cy="1834.7" r="4"/><circle cx="1189.9" cy="1864.9" r="4"/><circle cx="1189.7" cy="1887.3" r="4"/><circle cx="1243" cy="1829.8" r="4"/><circle cx="1209.1" cy="1824.3" r="4"/><circle cx="1244.8" cy="1820.2" r="4"/><circle cx="1248.1" cy="1833.7" r="4"/><circle cx="1256.3" cy="1819.9" r="4"/><circle cx="1259.5" cy="1852.9" r="4"/><circle cx="1224.4" cy="1752.9" r="4"/><circle cx="1190.7" cy="1830.5" r="4"/><circle cx="1221.9" cy="1808.7" r="4"/><circle cx="1190.6" cy="1895.6" r="4"/><circle cx="1207.3" cy="1813.4" r="4"/><circle cx="1254.6" cy="1818.3" r="4"/><circle cx="1189.6" cy="1836.4" r="4"/><circle cx="1253.7" cy="1792.8" r="4"/><circle cx="1248.9" cy="1757" r="4"/><circle cx="1242.2" cy="1805.2" r="4"/><circle cx="1234.2" cy="1832.5" r="4"/><circle cx="1203.8" cy="1750.5" r="4"/><circle cx="1201.6" cy="1832.1" r="4"/><circle cx="1229.5" cy="1818.4" r="4"/><circle cx="1247.3" cy="1707.7" r="4"/><circle cx="1260.4" cy="1798.3" r="4"/><circle cx="1262" cy="1839.9" r="4"/><circle cx="1260.8" cy="1859.2" r="4"/><circle cx="1242.7" cy="1763.9" r="4"/><circle cx="1206.9" cy="1804.7" r="4"/><circle cx="1228.3" cy="1794.7" r="4"/><circle cx="1189.1" cy="1835.9" r="4"/><circle cx="1262.1" cy="1874" r="4"/><circle cx="1202.5" cy="1836.1" r="4"/><circle cx="1240.7" cy="1801" r="4"/><circle cx="1225.3" cy="1816.7" r="4"/><circle cx="1194.3" cy="1795.6" r="4"/><circle cx="1189.7" cy="1888.6" r="4"/><circle cx="1259.4" cy="1885.5" r="4"/><circle cx="1235.9" cy="1775.8" r="4"/><circle cx="1193.1" cy="1852.1" r="4"/><circle cx="1194" cy="1818.5" r="4"/><circle cx="1190.1" cy="1880.9" r="4"/><circle cx="1204.5" cy="1802.8" r="4"/><circle cx="1261.7" cy="1894.5" r="4"/><circle cx="1204.2" cy="1795.4" r="4"/><circle cx="1232.9" cy="1706.6" r="4"/><circle cx="1260.8" cy="1826.5" r="4"/><circle cx="1234.4" cy="1771" r="4"/><circle cx="1256.3" cy="1807.2" r="4"/><circle cx="1208.8" cy="1823.7" r="4"/><circle cx="1191.9" cy="1856.2" r="4"/><circle cx="1208.3" cy="1778.2" r="4"/><circle cx="1219.4" cy="1787.3" r="4"/><circle cx="1224.8" cy="1785.2" r="4"/><circle cx="1260.6" cy="1832.9" r="4"/><circle cx="1190.8" cy="1873" r="4"/><circle cx="1228.4" cy="1826.6" r="4"/><circle cx="1234.1" cy="1822.7" r="4"/><circle cx="1193" cy="1831.7" r="4"/><circle cx="1240.5" cy="1840.5" r="4"/><circle cx="1259.4" cy="1856.9" r="4"/><circle cx="1260.7" cy="1848.4" r="4"/><circle cx="1431.6" cy="1812.8" r="4"/><circle cx="1408.4" cy="1795.5" r="4"/><circle cx="1372.2" cy="1831.9" r="4"/><circle cx="1429.4" cy="1846.3" r="4"/><circle cx="1351.4" cy="1878.2" r="4"/><circle cx="1403" cy="1796.7" r="4"/><circle cx="1371.4" cy="1795.6" r="4"/><circle cx="1352.2" cy="1856" r="4"/><circle cx="1424.9" cy="1837.3" r="4"/><circle cx="1369.6" cy="1851.3" r="4"/><circle cx="1431.4" cy="1857.3" r="4"/><circle cx="1423.4" cy="1789.8" r="4"/><circle cx="1350.9" cy="1892.3" r="4"/><circle cx="1356.1" cy="1815.1" r="4"/><circle cx="1351.9" cy="1867.9" r="4"/><circle cx="1377.3" cy="1737.8" r="4"/><circle cx="1381.6" cy="1788.4" r="4"/><circle cx="1352.1" cy="1782.6" r="4"/><circle cx="1351.8" cy="1868.8" r="4"/><circle cx="1394.7" cy="1723.2" r="4"/><circle cx="1403.7" cy="1858.8" r="4"/><circle cx="1431" cy="1742.7" r="4"/><circle cx="1431.7" cy="1889.2" r="4"/><circle cx="1411.6" cy="1812.6" r="4"/><circle cx="1425.5" cy="1793" r="4"/><circle cx="1397.5" cy="1816.3" r="4"/><circle cx="1350.6" cy="1805" r="4"/><circle cx="1411.1" cy="1801.2" r="4"/><circle cx="1429.5" cy="1862.9" r="4"/><circle cx="1353.2" cy="1718.4" r="4"/><circle cx="1377.6" cy="1839.6" r="4"/><circle cx="1350.4" cy="1887.4" r="4"/><circle cx="1382.3" cy="1822.6" r="4"/><circle cx="1429.3" cy="1829.7" r="4"/><circle cx="1385.5" cy="1749" r="4"/><circle cx="1382.1" cy="1772.5" r="4"/><circle cx="1409.8" cy="1789.9" r="4"/><circle cx="1386.6" cy="1816.6" r="4"/><circle cx="1413.8" cy="1764.6" r="4"/><circle cx="1403.5" cy="1767.7" r="4"/><circle cx="1415" cy="1745.9" r="4"/><circle cx="1403.2" cy="1749.7" r="4"/><circle cx="1395.8" cy="1818.4" r="4"/><circle cx="1423.1" cy="1810.7" r="4"/><circle cx="1429.7" cy="1881.9" r="4"/><circle cx="1390.8" cy="1798.7" r="4"/><circle cx="1381.5" cy="1781" r="4"/><circle cx="1350.7" cy="1880.3" r="4"/><circle cx="1350.2" cy="1882" r="4"/><circle cx="1414.8" cy="1803.5" r="4"/><circle cx="1353.3" cy="1806" r="4"/><circle cx="1390.7" cy="1815.4" r="4"/><circle cx="1387.6" cy="1846.5" r="4"/><circle cx="1360.8" cy="1802.5" r="4"/><circle cx="1430" cy="1892.4" r="4"/><circle cx="1408.8" cy="1800.6" r="4"/><circle cx="1358" cy="1833.6" r="4"/><circle cx="1431.1" cy="1873.3" r="4"/><circle cx="1350.9" cy="1776.2" r="4"/><circle cx="1355.2" cy="1839.3" r="4"/><circle cx="1383.1" cy="1788.1" r="4"/><circle cx="1363.3" cy="1724.7" r="4"/><circle cx="1351.7" cy="1799.7" r="4"/><circle cx="1351.2" cy="1895.6" r="4"/><circle cx="1431.8" cy="1784.4" r="4"/><circle cx="1430.7" cy="1821.7" r="4"/><circle cx="1421.7" cy="1822.2" r="4"/><circle cx="1364.5" cy="1826.9" r="4"/><circle cx="1412" cy="1822.6" r="4"/><circle cx="1351.4" cy="1815.3" r="4"/><circle cx="1396.6" cy="1845.4" r="4"/><circle cx="1373" cy="1788.1" r="4"/><circle cx="1408.6" cy="1813.7" r="4"/><circle cx="1352" cy="1746" r="4"/><circle cx="1413.7" cy="1757.9" r="4"/><circle cx="1385.9" cy="1829" r="4"/><circle cx="1431.9" cy="1878.8" r="4"/><circle cx="1359.8" cy="1795.1" r="4"/><circle cx="1366.2" cy="1763.9" r="4"/><circle cx="1431" cy="1887" r="4"/><circle cx="1361" cy="1854.7" r="4"/><circle cx="1404.1" cy="1824.3" r="4"/><circle cx="1424.4" cy="1811.8" r="4"/><circle cx="1356.5" cy="1755.7" r="4"/><circle cx="1380.7" cy="1796.2" r="4"/><circle cx="1400.6" cy="1810.5" r="4"/><circle cx="1426.6" cy="1799.6" r="4"/><circle cx="1400.4" cy="1840.5" r="4"/><circle cx="1357.3" cy="1814.2" r="4"/><circle cx="1369.6" cy="1816.7" r="4"/><circle cx="1430.1" cy="1895.3" r="4"/><circle cx="1382.7" cy="1803.7" r="4"/><circle cx="1429.8" cy="1867.4" r="4"/><circle cx="1428.9" cy="1844.3" r="4"/><circle cx="1353.5" cy="1871.6" r="4"/><circle cx="1411.9" cy="1853.5" r="4"/><circle cx="1350.7" cy="1862.7" r="4"/><circle cx="1391.3" cy="1818.9" r="4"/><circle cx="1350.6" cy="1882" r="4"/><circle cx="1377.1" cy="1802.9" r="4"/><circle cx="1358.7" cy="1789.3" r="4"/><circle cx="1401" cy="1807.8" r="4"/><circle cx="1352.3" cy="1853.2" r="4"/><circle cx="1410.4" cy="1764.7" r="4"/><circle cx="1389.7" cy="1838.3" r="4"/><circle cx="1403.4" cy="1743.1" r="4"/><circle cx="1353.4" cy="1841.4" r="4"/><circle cx="1357.8" cy="1823.8" r="4"/><circle cx="1396.7" cy="1732.9" r="4"/><circle cx="1383.6" cy="1811.6" r="4"/><circle cx="1431.5" cy="1850.9" r="4"/><circle cx="1368.2" cy="1835.8" r="4"/><circle cx="1380.6" cy="1826.3" r="4"/><circle cx="1429.2" cy="1720.1" r="4"/><circle cx="1406.1" cy="1748" r="4"/><circle cx="1425.5" cy="1774" r="4"/><circle cx="1403.9" cy="1819.6" r="4"/><circle cx="1373.8" cy="1825.8" r="4"/><circle cx="1379.8" cy="1752" r="4"/><circle cx="1351.5" cy="1866.5" r="4"/><circle cx="1413.2" cy="1861.1" r="4"/><circle cx="1360.2" cy="1804.6" r="4"/><circle cx="1387.1" cy="1802.9" r="4"/><circle cx="1401.7" cy="1795.9" r="4"/><circle cx="1427.1" cy="1833" r="4"/><circle cx="1429.8" cy="1871.3" r="4"/><circle cx="1385.7" cy="1838.3" r="4"/><circle cx="1351.4" cy="1847.6" r="4"/><circle cx="1406.1" cy="1861.4" r="4"/><circle cx="1350.8" cy="1822.3" r="4"/><circle cx="1350.6" cy="1883.3" r="4"/><circle cx="1393.6" cy="1825" r="4"/><circle cx="1514.2" cy="1820" r="4"/><circle cx="1557.3" cy="1787.4" r="4"/><circle cx="1513" cy="1864.3" r="4"/><circle cx="1535.8" cy="1829" r="4"/><circle cx="1514.8" cy="1851.3" r="4"/><circle cx="1519.8" cy="1836.4" r="4"/><circle cx="1510.8" cy="1892.9" r="4"/><circle cx="1544.2" cy="1825" r="4"/><circle cx="1511" cy="1890.3" r="4"/><circle cx="1514.7" cy="1812" r="4"/><circle cx="1563.7" cy="1844.9" r="4"/><circle cx="1540.7" cy="1815.9" r="4"/><circle cx="1561.9" cy="1876.3" r="4"/><circle cx="1525" cy="1818.3" r="4"/><circle cx="1519.7" cy="1804.4" r="4"/><circle cx="1511.4" cy="1865.8" r="4"/><circle cx="1523.8" cy="1822.1" r="4"/><circle cx="1563.8" cy="1890.3" r="4"/><circle cx="1556.5" cy="1840.9" r="4"/><circle cx="1563.7" cy="1817" r="4"/><circle cx="1533.2" cy="1824.6" r="4"/><circle cx="1552.9" cy="1828.8" r="4"/><circle cx="1535.4" cy="1757.9" r="4"/><circle cx="1551" cy="1829.7" r="4"/><circle cx="1557.1" cy="1807.9" r="4"/><circle cx="1518.3" cy="1822.6" r="4"/><circle cx="1544.6" cy="1776" r="4"/><circle cx="1547.1" cy="1838.1" r="4"/><circle cx="1563.1" cy="1860.4" r="4"/><circle cx="1517.8" cy="1700" r="4"/><circle cx="1518.5" cy="1827.3" r="4"/><circle cx="1563.6" cy="1885.6" r="4"/><circle cx="1510.8" cy="1874.9" r="4"/><circle cx="1510.9" cy="1890.7" r="4"/><circle cx="1511.3" cy="1866.1" r="4"/><circle cx="1522.9" cy="1751" r="4"/><circle cx="1564.1" cy="1879.1" r="4"/><circle cx="1524.5" cy="1810" r="4"/><circle cx="1544.1" cy="1801.1" r="4"/><circle cx="1512.2" cy="1870.9" r="4"/><circle cx="1526.6" cy="1796.5" r="4"/><circle cx="1545.3" cy="1810" r="4"/><circle cx="1514.4" cy="1805.5" r="4"/><circle cx="1553.8" cy="1827.9" r="4"/><circle cx="1542.7" cy="1799.2" r="4"/><circle cx="1524.8" cy="1739.1" r="4"/><circle cx="1535.7" cy="1815.7" r="4"/><circle cx="1564.1" cy="1863.1" r="4"/><circle cx="1530.2" cy="1792.7" r="4"/><circle cx="1514.2" cy="1804.9" r="4"/><circle cx="1563.4" cy="1887.4" r="4"/><circle cx="1512.3" cy="1844" r="4"/><circle cx="1511.3" cy="1895.3" r="4"/><circle cx="1558.3" cy="1829.5" r="4"/><circle cx="1534.1" cy="1808.6" r="4"/><circle cx="1550.9" cy="1812.7" r="4"/><circle cx="1563.6" cy="1869.5" r="4"/><circle cx="1562.3" cy="1818.9" r="4"/><circle cx="1514.8" cy="1846.7" r="4"/><circle cx="1558.1" cy="1836.2" r="4"/><circle cx="1562.7" cy="1854.1" r="4"/><circle cx="1510.8" cy="1866.1" r="4"/><circle cx="1560.3" cy="1802.4" r="4"/><circle cx="1563.4" cy="1895.2" r="4"/><circle cx="1523.6" cy="1797.3" r="4"/><circle cx="1553.3" cy="1819.2" r="4"/><circle cx="1548.2" cy="1803.1" r="4"/><circle cx="1512.1" cy="1879.1" r="4"/><circle cx="1563.7" cy="1867.7" r="4"/><circle cx="1555.4" cy="1784.8" r="4"/><circle cx="1563.7" cy="1852.2" r="4"/><circle cx="1554" cy="1775.1" r="4"/><circle cx="1512.1" cy="1880.2" r="4"/><circle cx="1563.3" cy="1881" r="4"/><circle cx="1512.2" cy="1857" r="4"/><circle cx="1513.9" cy="1832.4" r="4"/><circle cx="1513.7" cy="1842.2" r="4"/><circle cx="1536.3" cy="1741.7" r="4"/><circle cx="1524" cy="1770.3" r="4"/><circle cx="1511.9" cy="1887.6" r="4"/><circle cx="1544.8" cy="1782.8" r="4"/><circle cx="1563.6" cy="1796.2" r="4"/><circle cx="1513.8" cy="1855.7" r="4"/><circle cx="1549" cy="1780.5" r="4"/><circle cx="1558.8" cy="1811.4" r="4"/><circle cx="1539.6" cy="1831.5" r="4"/><circle cx="1515.2" cy="1814" r="4"/><circle cx="1522.8" cy="1820.2" r="4"/><circle cx="1562.1" cy="1815.6" r="4"/><circle cx="1542.7" cy="1821.2" r="4"/><circle cx="1549.3" cy="1760.7" r="4"/><circle cx="1557.3" cy="1786.8" r="4"/><circle cx="1530" cy="1769.6" r="4"/><circle cx="1522.5" cy="1800.8" r="4"/><circle cx="1543.5" cy="1825.8" r="4"/><circle cx="1532.4" cy="1782.3" r="4"/><circle cx="1548.3" cy="1761.4" r="4"/><circle cx="1513.7" cy="1813" r="4"/><circle cx="1529.2" cy="1803" r="4"/><circle cx="1560.4" cy="1800.8" r="4"/><circle cx="1512.1" cy="1868.4" r="4"/><circle cx="1513.9" cy="1784.2" r="4"/><circle cx="1623.8" cy="1895.2" r="4"/><circle cx="1631.7" cy="1851.3" r="4"/><circle cx="1625.5" cy="1843.7" r="4"/><circle cx="1660.4" cy="1821.6" r="4"/><circle cx="1630.4" cy="1760.5" r="4"/><circle cx="1652.9" cy="1832.2" r="4"/><circle cx="1624.8" cy="1857.3" r="4"/><circle cx="1667.2" cy="1820.6" r="4"/><circle cx="1636" cy="1751" r="4"/><circle cx="1667.1" cy="1726.1" r="4"/><circle cx="1642.2" cy="1839.6" r="4"/><circle cx="1663.7" cy="1767.9" r="4"/><circle cx="1665" cy="1857.6" r="4"/><circle cx="1660.7" cy="1813.4" r="4"/><circle cx="1667.3" cy="1851.3" r="4"/><circle cx="1651.1" cy="1839.7" r="4"/><circle cx="1626.1" cy="1873.5" r="4"/><circle cx="1634.8" cy="1807" r="4"/><circle cx="1629.2" cy="1766.6" r="4"/><circle cx="1660.3" cy="1766.1" r="4"/><circle cx="1665.1" cy="1798.7" r="4"/><circle cx="1668.1" cy="1833.7" r="4"/><circle cx="1630.2" cy="1803.3" r="4"/><circle cx="1649.3" cy="1818" r="4"/><circle cx="1627" cy="1865.1" r="4"/><circle cx="1668.3" cy="1891.6" r="4"/><circle cx="1627.3" cy="1816.4" r="4"/><circle cx="1665.7" cy="1829.2" r="4"/><circle cx="1666.4" cy="1866.2" r="4"/><circle cx="1666.6" cy="1868.2" r="4"/><circle cx="1665.4" cy="1792" r="4"/><circle cx="1627.8" cy="1772.7" r="4"/><circle cx="1662.8" cy="1791.5" r="4"/><circle cx="1667.7" cy="1894.7" r="4"/><circle cx="1660.7" cy="1726.8" r="4"/><circle cx="1666.5" cy="1880.2" r="4"/><circle cx="1668.5" cy="1883.7" r="4"/><circle cx="1638.5" cy="1822" r="4"/><circle cx="1667.6" cy="1793.5" r="4"/><circle cx="1623.5" cy="1845" r="4"/><circle cx="1630.1" cy="1840.9" r="4"/><circle cx="1654.4" cy="1792.5" r="4"/><circle cx="1663.1" cy="1786.2" r="4"/><circle cx="1651.5" cy="1766.8" r="4"/><circle cx="1626.3" cy="1877" r="4"/><circle cx="1657.3" cy="1801.6" r="4"/><circle cx="1626.9" cy="1848.2" r="4"/><circle cx="1644.3" cy="1758.8" r="4"/><circle cx="1644.7" cy="1775.9" r="4"/><circle cx="1667.5" cy="1873.3" r="4"/><circle cx="1640.4" cy="1776.5" r="4"/><circle cx="1635.4" cy="1720.6" r="4"/><circle cx="1626.5" cy="1818" r="4"/><circle cx="1656.8" cy="1805.6" r="4"/><circle cx="1668.2" cy="1886.6" r="4"/><circle cx="1655.5" cy="1791.6" r="4"/><circle cx="1634.3" cy="1846.7" r="4"/><circle cx="1652.2" cy="1783.5" r="4"/><circle cx="1667.9" cy="1854.2" r="4"/><circle cx="1646.8" cy="1805.2" r="4"/><circle cx="1657.7" cy="1814.3" r="4"/><circle cx="1625" cy="1888.4" r="4"/><circle cx="1665.6" cy="1831.9" r="4"/><circle cx="1668.1" cy="1838.3" r="4"/><circle cx="1638.4" cy="1816.8" r="4"/><circle cx="1631" cy="1801.7" r="4"/><circle cx="1634.2" cy="1827" r="4"/><circle cx="1651.1" cy="1716" r="4"/><circle cx="1629.3" cy="1815.2" r="4"/><circle cx="1630.7" cy="1808.5" r="4"/><circle cx="1667.8" cy="1842.6" r="4"/><circle cx="1668.1" cy="1847.1" r="4"/><circle cx="1668.3" cy="1893.3" r="4"/><circle cx="1656.7" cy="1770.7" r="4"/><circle cx="1668.3" cy="1874.1" r="4"/><circle cx="1626.4" cy="1832.1" r="4"/><circle cx="1628.6" cy="1839.2" r="4"/><circle cx="1658.1" cy="1842.3" r="4"/><circle cx="1644.1" cy="1830.9" r="4"/><circle cx="1648.3" cy="1853.1" r="4"/><circle cx="1653.6" cy="1830.6" r="4"/><circle cx="1624.1" cy="1892.2" r="4"/><circle cx="1647.1" cy="1843.5" r="4"/><circle cx="1662.5" cy="1853.1" r="4"/><circle cx="1667.6" cy="1784.2" r="4"/><circle cx="1637.4" cy="1816.6" r="4"/><circle cx="1653.4" cy="1851.3" r="4"/><circle cx="1646.2" cy="1774.4" r="4"/><circle cx="1631.7" cy="1858.4" r="4"/><circle cx="1668.2" cy="1889.8" r="4"/><circle cx="1645.4" cy="1784.3" r="4"/><circle cx="1625.4" cy="1883.7" r="4"/><circle cx="1657.6" cy="1723.5" r="4"/><circle cx="1631.9" cy="1803.7" r="4"/><circle cx="1659" cy="1729.5" r="4"/><circle cx="1655" cy="1847" r="4"/><circle cx="1653.8" cy="1847.8" r="4"/><circle cx="1641.3" cy="1854.2" r="4"/><circle cx="1630.2" cy="1836.5" r="4"/><circle cx="1667.4" cy="1855.7" r="4"/><circle cx="1625.4" cy="1879.4" r="4"/><circle cx="1667.7" cy="1776.3" r="4"/><circle cx="1640.4" cy="1842.7" r="4"/><circle cx="1748.7" cy="1808.2" r="4"/><circle cx="1731.3" cy="1790.6" r="4"/><circle cx="1762.5" cy="1891.2" r="4"/><circle cx="1752.3" cy="1840.4" r="4"/><circle cx="1735.1" cy="1826.9" r="4"/><circle cx="1725.5" cy="1891.4" r="4"/><circle cx="1728.1" cy="1835.8" r="4"/><circle cx="1753.9" cy="1848.3" r="4"/><circle cx="1732.1" cy="1854.3" r="4"/><circle cx="1762.3" cy="1890.5" r="4"/><circle cx="1737.1" cy="1790.4" r="4"/><circle cx="1725.7" cy="1878.9" r="4"/><circle cx="1764" cy="1862.5" r="4"/><circle cx="1730.2" cy="1800.1" r="4"/><circle cx="1743.9" cy="1845.1" r="4"/><circle cx="1751.6" cy="1706.3" r="4"/><circle cx="1733.4" cy="1810.7" r="4"/><circle cx="1735" cy="1717.3" r="4"/><circle cx="1725.5" cy="1892.6" r="4"/><circle cx="1759.6" cy="1856.1" r="4"/><circle cx="1725.7" cy="1859.3" r="4"/><circle cx="1744.1" cy="1759.8" r="4"/><circle cx="1739.5" cy="1785.9" r="4"/><circle cx="1753" cy="1813.2" r="4"/><circle cx="1746.7" cy="1777.1" r="4"/><circle cx="1725.4" cy="1880.3" r="4"/><circle cx="1742.5" cy="1811.5" r="4"/><circle cx="1748.9" cy="1826.6" r="4"/><circle cx="1761.5" cy="1847.5" r="4"/><circle cx="1753.6" cy="1793.2" r="4"/><circle cx="1762.5" cy="1880.5" r="4"/><circle cx="1742.8" cy="1815.3" r="4"/><circle cx="1725.6" cy="1847.1" r="4"/><circle cx="1725.6" cy="1881.6" r="4"/><circle cx="1734.5" cy="1772.4" r="4"/><circle cx="1761" cy="1804.8" r="4"/><circle cx="1763.5" cy="1857.9" r="4"/><circle cx="1734.7" cy="1800.6" r="4"/><circle cx="1761.8" cy="1877.7" r="4"/><circle cx="1738.7" cy="1829.4" r="4"/><circle cx="1763.2" cy="1836.3" r="4"/><circle cx="1728.3" cy="1850" r="4"/><circle cx="1763.6" cy="1815.2" r="4"/><circle cx="1725.3" cy="1886.6" r="4"/><circle cx="1752.7" cy="1820.4" r="4"/><circle cx="1733.3" cy="1736.2" r="4"/><circle cx="1740.5" cy="1818.8" r="4"/><circle cx="1763.5" cy="1859.6" r="4"/><circle cx="1725.8" cy="1786.4" r="4"/><circle cx="1731.6" cy="1786.5" r="4"/><circle cx="1725.1" cy="1875.1" r="4"/><circle cx="1725.1" cy="1886.5" r="4"/><circle cx="1755.9" cy="1798.2" r="4"/><circle cx="1726.5" cy="1837" r="4"/><circle cx="1725.3" cy="1894.8" r="4"/><circle cx="1762.4" cy="1830.9" r="4"/><circle cx="1762.2" cy="1856" r="4"/><circle cx="1762.1" cy="1850.7" r="4"/><circle cx="1749.9" cy="1831" r="4"/><circle cx="1757.1" cy="1742.5" r="4"/><circle cx="1742.6" cy="1774.1" r="4"/><circle cx="1725.4" cy="1823.9" r="4"/><circle cx="1743.5" cy="1802.3" r="4"/><circle cx="1728.5" cy="1810.2" r="4"/><circle cx="1762.7" cy="1874.6" r="4"/><circle cx="1751.2" cy="1811.1" r="4"/><circle cx="1763.4" cy="1894.5" r="4"/><circle cx="1761.9" cy="1825.3" r="4"/><circle cx="1763.2" cy="1868.5" r="4"/><circle cx="1727.8" cy="1820.1" r="4"/><circle cx="1740.4" cy="1778.3" r="4"/><circle cx="1763.8" cy="1885.4" r="4"/><circle cx="1760.9" cy="1841.3" r="4"/><circle cx="1763.7" cy="1885.6" r="4"/><circle cx="1727.9" cy="1801.1" r="4"/><circle cx="1761.8" cy="1843.8" r="4"/><circle cx="1761.5" cy="1842.7" r="4"/><circle cx="1727.3" cy="1868.8" r="4"/><circle cx="1754.7" cy="1736" r="4"/><circle cx="1762.4" cy="1889.2" r="4"/><circle cx="1729.1" cy="1841.1" r="4"/><circle cx="1726.2" cy="1863.5" r="4"/><circle cx="1807.2" cy="1878.8" r="4"/><circle cx="1823.4" cy="1776.2" r="4"/><circle cx="1832.8" cy="1844.8" r="4"/><circle cx="1841.8" cy="1810.9" r="4"/><circle cx="1830.8" cy="1745.7" r="4"/><circle cx="1843.9" cy="1890.5" r="4"/><circle cx="1809.3" cy="1863.5" r="4"/><circle cx="1842.8" cy="1878.1" r="4"/><circle cx="1843.8" cy="1870" r="4"/><circle cx="1817.8" cy="1805.9" r="4"/><circle cx="1811.5" cy="1777.6" r="4"/><circle cx="1823" cy="1827.7" r="4"/><circle cx="1808" cy="1845.9" r="4"/><circle cx="1832.2" cy="1832.3" r="4"/><circle cx="1843.2" cy="1865.5" r="4"/><circle cx="1823" cy="1794.9" r="4"/><circle cx="1807.8" cy="1825.8" r="4"/><circle cx="1807.9" cy="1886.7" r="4"/><circle cx="1807.8" cy="1891.5" r="4"/><circle cx="1819.6" cy="1841.7" r="4"/><circle cx="1820.6" cy="1826.4" r="4"/><circle cx="1843.8" cy="1894.2" r="4"/><circle cx="1809.1" cy="1839.3" r="4"/><circle cx="1822.1" cy="1786.4" r="4"/><circle cx="1815.9" cy="1727.7" r="4"/><circle cx="1842.6" cy="1830.9" r="4"/><circle cx="1808" cy="1876.5" r="4"/><circle cx="1818.1" cy="1822.8" r="4"/><circle cx="1808" cy="1847.9" r="4"/><circle cx="1810.7" cy="1868" r="4"/><circle cx="1841.1" cy="1704.9" r="4"/><circle cx="1831.3" cy="1789.4" r="4"/><circle cx="1834.6" cy="1828.3" r="4"/><circle cx="1828.4" cy="1837.2" r="4"/><circle cx="1814.6" cy="1823.6" r="4"/><circle cx="1832.9" cy="1827.4" r="4"/><circle cx="1834.2" cy="1761.3" r="4"/><circle cx="1839.2" cy="1837.2" r="4"/><circle cx="1828" cy="1702.7" r="4"/><circle cx="1842.9" cy="1857.2" r="4"/><circle cx="1814.5" cy="1798.4" r="4"/><circle cx="1836.2" cy="1816.1" r="4"/><circle cx="1839.5" cy="1819.4" r="4"/><circle cx="1817.9" cy="1817.6" r="4"/><circle cx="1843.4" cy="1892.2" r="4"/><circle cx="1807.8" cy="1711.5" r="4"/><circle cx="1809.4" cy="1825.2" r="4"/><circle cx="1823.8" cy="1790.1" r="4"/><circle cx="1844" cy="1850.7" r="4"/><circle cx="1816.6" cy="1833.7" r="4"/><circle cx="1840.1" cy="1838.1" r="4"/><circle cx="1807.8" cy="1857.9" r="4"/><circle cx="1840.2" cy="1842.5" r="4"/><circle cx="1815.7" cy="1810.5" r="4"/><circle cx="1828.3" cy="1799.7" r="4"/><circle cx="1840.7" cy="1881.1" r="4"/><circle cx="1825.6" cy="1769.1" r="4"/><circle cx="1818.7" cy="1778.8" r="4"/><circle cx="1841" cy="1847.5" r="4"/><circle cx="1807.7" cy="1861.6" r="4"/><circle cx="1807.5" cy="1881.3" r="4"/><circle cx="1809.1" cy="1792.2" r="4"/><circle cx="1808.7" cy="1873.9" r="4"/><circle cx="1840.8" cy="1795.4" r="4"/><circle cx="1842.3" cy="1820.8" r="4"/><circle cx="1809.2" cy="1832.7" r="4"/><circle cx="1829.6" cy="1795.3" r="4"/><circle cx="1808.2" cy="1803.1" r="4"/><circle cx="1844.2" cy="1889.5" r="4"/><circle cx="1838.3" cy="1821.4" r="4"/><circle cx="1841.3" cy="1885.3" r="4"/><circle cx="1825.6" cy="1811.1" r="4"/><circle cx="1810.8" cy="1855.4" r="4"/><circle cx="1831" cy="1755.2" r="4"/><circle cx="1824.8" cy="1817.4" r="4"/><circle cx="1842.7" cy="1876.2" r="4"/><circle cx="1808.3" cy="1895" r="4"/><circle cx="1842.8" cy="1849.8" r="4"/><circle cx="1890.6" cy="1822" r="4"/><circle cx="1884.2" cy="1866.4" r="4"/><circle cx="1892.1" cy="1773.2" r="4"/><circle cx="1904.7" cy="1889.5" r="4"/><circle cx="1904" cy="1853.9" r="4"/><circle cx="1901.5" cy="1787.2" r="4"/><circle cx="1885.9" cy="1813.4" r="4"/><circle cx="1890.8" cy="1806.7" r="4"/><circle cx="1896" cy="1777.8" r="4"/><circle cx="1884.8" cy="1895" r="4"/><circle cx="1890" cy="1774.9" r="4"/><circle cx="1886.4" cy="1794.7" r="4"/><circle cx="1894.7" cy="1837.8" r="4"/><circle cx="1904.6" cy="1849.1" r="4"/><circle cx="1883.9" cy="1889.6" r="4"/><circle cx="1904.9" cy="1862.5" r="4"/><circle cx="1894.7" cy="1793.9" r="4"/><circle cx="1887.5" cy="1803.8" r="4"/><circle cx="1901.5" cy="1828.5" r="4"/><circle cx="1893.9" cy="1733" r="4"/><circle cx="1902" cy="1762.7" r="4"/><circle cx="1884" cy="1889.2" r="4"/><circle cx="1902.2" cy="1775" r="4"/><circle cx="1902.5" cy="1858.9" r="4"/><circle cx="1885.5" cy="1860.9" r="4"/><circle cx="1904.6" cy="1893.2" r="4"/><circle cx="1892.8" cy="1780.3" r="4"/><circle cx="1884.6" cy="1851.2" r="4"/><circle cx="1893.9" cy="1796.1" r="4"/><circle cx="1887.8" cy="1790.1" r="4"/><circle cx="1884.1" cy="1853.6" r="4"/><circle cx="1904.6" cy="1816.2" r="4"/><circle cx="1903.2" cy="1860.6" r="4"/><circle cx="1901.6" cy="1759.7" r="4"/><circle cx="1903.8" cy="1877" r="4"/><circle cx="1904.5" cy="1884.6" r="4"/><circle cx="1890.2" cy="1823.5" r="4"/><circle cx="1904.7" cy="1870" r="4"/><circle cx="1887.9" cy="1798" r="4"/><circle cx="1902.1" cy="1804.7" r="4"/><circle cx="1903.9" cy="1833.3" r="4"/><circle cx="1884" cy="1829" r="4"/><circle cx="1904.1" cy="1872.6" r="4"/><circle cx="1885" cy="1880.5" r="4"/><circle cx="1904.8" cy="1817.2" r="4"/><circle cx="1895.9" cy="1765.4" r="4"/><circle cx="1888.7" cy="1846.4" r="4"/><circle cx="1892.2" cy="1823.6" r="4"/><circle cx="1883.7" cy="1883.6" r="4"/><circle cx="1893.3" cy="1801.6" r="4"/><circle cx="1904.9" cy="1871.7" r="4"/><circle cx="1884.6" cy="1890.4" r="4"/><circle cx="1898.9" cy="1752.1" r="4"/><circle cx="1901.1" cy="1839.9" r="4"/><circle cx="1886.5" cy="1712" r="4"/><circle cx="1884.4" cy="1874" r="4"/><circle cx="1901.4" cy="1814.5" r="4"/><circle cx="1884.1" cy="1886.6" r="4"/><circle cx="1883.7" cy="1867.1" r="4"/><circle cx="1904.2" cy="1878.7" r="4"/><circle cx="1903.5" cy="1826" r="4"/><circle cx="1885.9" cy="1764.4" r="4"/><circle cx="1889.8" cy="1812" r="4"/><circle cx="1904.5" cy="1882.3" r="4"/><circle cx="1904.9" cy="1894.5" r="4"/><circle cx="1885.4" cy="1857.9" r="4"/><circle cx="1885.8" cy="1834" r="4"/><circle cx="1888.3" cy="1841" r="4"/><circle cx="1887" cy="1780.5" r="4"/><circle cx="1894.2" cy="1817.9" r="4"/><circle cx="1884.5" cy="1807" r="4"/><circle cx="1897.8" cy="1832.5" r="4"/><circle cx="1904.6" cy="1871.7" r="4"/><circle cx="1888.3" cy="1847.9" r="4"/><circle cx="401.2" cy="1679.2" r="4"/><circle cx="411.5" cy="1675.4" r="4"/><circle cx="479.9" cy="1671.9" r="4"/><circle cx="604.3" cy="1660" r="4"/><circle cx="644.3" cy="1650.1" r="4"/><circle cx="650.1" cy="1674.4" r="4"/><circle cx="712.6" cy="1695.7" r="4"/><circle cx="840.4" cy="1673.9" r="4"/><circle cx="847.4" cy="1679" r="4"/><circle cx="1048" cy="1652" r="4"/><circle cx="1061.2" cy="1671.1" r="4"/><circle cx="1105.2" cy="1659.6" r="4"/><circle cx="1198" cy="1660.3" r="4"/><circle cx="1237.2" cy="1653.4" r="4"/><circle cx="1237.2" cy="1682.5" r="4"/><circle cx="1237.2" cy="1693.3" r="4"/><circle cx="1360.7" cy="1631.1" r="4"/><circle cx="1384.7" cy="1619.6" r="4"/><circle cx="1417.3" cy="1686.9" r="4"/><circle cx="1542.7" cy="1674.7" r="4"/><circle cx="1625.2" cy="1671.8" r="4"/><circle cx="1635.2" cy="1646.6" r="4"/><circle cx="1641.8" cy="1627.4" r="4"/><circle cx="1632.6" cy="1692.5" r="4"/><circle cx="1759.1" cy="1678.8" r="4"/><circle cx="1807.6" cy="1671.8" r="4"/><circle cx="1831.3" cy="1642.9" r="4"/></g>
<text x="11.1" y="1200.7" font-size="48.5" font-weight="bold">d</text>
<path d="M105 1201.6V2012.8" stroke="#000" stroke-width="3.6" fill="none"/>
<path d="M95.9 2011.3H104M95.9 1722.2H104M95.9 1433H104M265 2011.5V2019.8M410.8 2011.5V2019.8M541.8 2011.5V2019.8M657.5 2011.5V2019.8M768.7 2011.5V2019.8M873 2011.5V2019.8M971.6 2011.5V2019.8M1062.3 2011.5V2019.8M1146.3 2011.5V2019.8M1230.5 2011.5V2019.8M1310.8 2011.5V2019.8M1391.5 2011.5V2019.8M1470.9 2011.5V2019.8M1537.3 2011.5V2019.8M1600 2011.5V2019.8M1651 2011.5V2019.8M1701.8 2011.5V2019.8M1748.9 2011.5V2019.8M1789.9 2011.5V2019.8M1826.5 2011.5V2019.8M1862.7 2011.5V2019.8M1893.6 2011.5V2019.8" stroke="#333" stroke-width="3"/>
<text x="69.9" y="2022.1" font-size="29" fill="#4d4d4d">0</text>
<text x="70.5" y="1732.7" font-size="29" fill="#4d4d4d">5</text>
<text x="51.4" y="1443.8" font-size="29" fill="#4d4d4d">10</text>
<text x="255.3" y="2049.2" font-size="29.5" fill="#4d4d4d">1</text>
<text x="401.8" y="2049.2" font-size="29.5" fill="#4d4d4d">2</text>
<text x="532.5" y="2049.2" font-size="29.5" fill="#4d4d4d">3</text>
<text x="648.2" y="2049.2" font-size="29.5" fill="#4d4d4d">4</text>
<text x="759.4" y="2049.2" font-size="29.5" fill="#4d4d4d">5</text>
<text x="863.5" y="2049.2" font-size="29.5" fill="#4d4d4d">6</text>
<text x="962.3" y="2049.2" font-size="29.5" fill="#4d4d4d">7</text>
<text x="1052.9" y="2049.2" font-size="29.5" fill="#4d4d4d">8</text>
<text x="1137" y="2049.2" font-size="29.5" fill="#4d4d4d">9</text>
<text x="1211.1" y="2049.2" font-size="29.5" fill="#4d4d4d">10</text>
<text x="1291.7" y="2049.2" font-size="29.5" fill="#4d4d4d">11</text>
<text x="1372.6" y="2049.2" font-size="29.5" fill="#4d4d4d">12</text>
<text x="1451.7" y="2049.2" font-size="29.5" fill="#4d4d4d">13</text>
<text x="1517.7" y="2049.2" font-size="29.5" fill="#4d4d4d">14</text>
<text x="1580.9" y="2049.2" font-size="29.5" fill="#4d4d4d">15</text>
<text x="1631.5" y="2049.2" font-size="29.5" fill="#4d4d4d">16</text>
<text x="1682.7" y="2049.2" font-size="29.5" fill="#4d4d4d">17</text>
<text x="1729.5" y="2049.2" font-size="29.5" fill="#4d4d4d">18</text>
<text x="1770.5" y="2049.2" font-size="29.5" fill="#4d4d4d">19</text>
<text x="1807.6" y="2049.2" font-size="29.5" fill="#4d4d4d">20</text>
<text x="1844.2" y="2049.2" font-size="29.5" fill="#4d4d4d">21</text>
<text x="1875.2" y="2049.2" font-size="29.5" fill="#4d4d4d">22</text>
<text x="928.5" y="2080.9" font-size="37.5">Chromosome</text>
<text x="38.3" y="1660.6" font-size="38.7" transform="rotate(-90 38.3 1660.6)">-log10(<tspan font-style="italic">p</tspan>)</text>
<path d="M106.8 1597.4H1990" stroke="#cc1f24" stroke-width="2.5" stroke-dasharray="11.43 11.43"/>
<path d="M106.8 1694.2H1990" stroke="#ff7f0e" stroke-width="2.5" stroke-dasharray="11.43 11.43"/>
<path d="M362 1520.6L394.8 1552.3M491.4 1496.3L491.4 1576.6M626.9 1542L626.9 1579.6M751 1562.5L847 1532.7" stroke="#333" stroke-width="1.9" fill="none"/>
<g fill="#cc2229"><circle cx="401.5" cy="1560.5" r="4.9"/><circle cx="491.4" cy="1588.9" r="4.9"/><circle cx="626.9" cy="1590.9" r="4.9"/><circle cx="761.6" cy="1503" r="4.9"/><circle cx="737" cy="1567" r="4.9"/><circle cx="1420.6" cy="1540.6" r="4.9"/><circle cx="1626.7" cy="1557.6" r="4.9"/></g>
<text x="256.6" y="1486.1" font-size="33" font-style="italic">FHL2</text>
<text x="437.6" y="1462.5" font-size="30.4" font-style="italic">IQSEC1</text>
<text x="719.2" y="1450.7" font-size="33.3" font-style="italic">ARSB</text>
<text x="875.8" y="1503.2" font-size="34.5" font-style="italic">NIPBL</text>
<text x="1328.7" y="1490.1" font-size="33.8" font-style="italic">LINC00173</text>
<text x="1595.1" y="1505.9" font-size="32.9" font-style="italic">MGRN1</text>
<text x="224.4" y="1513.4" font-size="23.4">cg04866173</text>
<text x="418.5" y="1487.3" font-size="23.3">cg06951630</text>
<text x="554.7" y="1534.1" font-size="23.4">cg24435966</text>
<text x="689.7" y="1478.1" font-size="23.1">cg16086807</text>
<text x="851.4" y="1530.8" font-size="23.3">cg11099930</text>
<text x="1346.7" y="1518.4" font-size="23.4">cg18800161</text>
<text x="1581.7" y="1534.5" font-size="23.5">cg16250093</text>
</svg>
</body></html>
